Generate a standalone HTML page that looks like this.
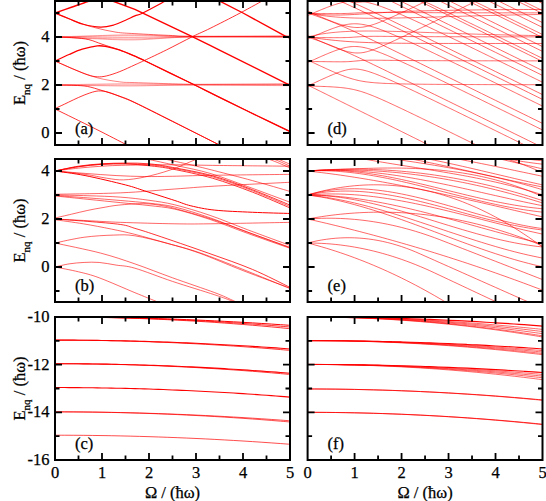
<!DOCTYPE html><html><head><meta charset="utf-8"><style>html,body{margin:0;padding:0;background:#fff;}svg{display:block;} text{stroke:#000;stroke-width:0.25px;}</style></head><body>
<svg width="546" height="501" viewBox="0 0 546 501" font-family='"Liberation Serif", serif' font-size="16.5">
<rect width="546" height="501" fill="#fff"/>
<defs>
<clipPath id="ca"><rect x="55.0" y="1.0" width="235.0" height="144.0"/></clipPath>
<clipPath id="cb"><rect x="55.0" y="159.0" width="235.0" height="143.0"/></clipPath>
<clipPath id="cc"><rect x="55.0" y="317.0" width="235.0" height="143.0"/></clipPath>
<clipPath id="cd"><rect x="307.6" y="1.0" width="234.89999999999998" height="144.0"/></clipPath>
<clipPath id="ce"><rect x="307.6" y="159.0" width="234.89999999999998" height="143.0"/></clipPath>
<clipPath id="cf"><rect x="307.6" y="317.0" width="234.89999999999998" height="143.0"/></clipPath>
</defs>
<g clip-path="url(#ca)" fill="none" stroke="#f00" stroke-linejoin="round" stroke-linecap="round">
<path d="M55.00 109.00C58.92 110.92 70.67 116.66 78.50 120.52C86.33 124.38 93.38 127.80 102.00 132.16C110.62 136.52 125.50 144.26 130.20 146.68" stroke-width="0.8" stroke-opacity="1.0"/>
<path d="M55.00 108.52C56.57 107.80 61.35 105.64 64.40 104.20C67.46 102.76 70.04 101.40 73.33 99.88C76.62 98.36 80.54 96.48 84.14 95.08C87.74 93.68 91.97 92.16 94.95 91.48C97.93 90.80 99.65 90.84 102.00 91.00C104.35 91.16 106.07 91.52 109.05 92.44C112.03 93.36 115.55 94.80 119.86 96.52C124.17 98.24 126.13 98.60 134.90 102.76C143.67 106.92 157.62 114.04 172.50 121.48C187.38 128.92 215.58 143.08 224.20 147.40" stroke-width="0.8" stroke-opacity="1.0"/>
<path d="M55.00 85.00C58.13 85.06 68.39 85.12 73.80 85.36C79.20 85.60 82.73 85.58 87.43 86.44C92.13 87.30 96.59 88.88 102.00 90.52C107.41 92.16 114.38 94.28 119.86 96.28C125.34 98.28 126.13 98.36 134.90 102.52C143.67 106.68 157.62 113.76 172.50 121.24C187.38 128.72 215.58 143.04 224.20 147.40" stroke-width="0.8" stroke-opacity="1.0"/>
<path d="M55.00 61.00C58.37 62.48 69.73 67.56 75.21 69.88C80.69 72.20 84.22 73.76 87.90 74.92C91.58 76.08 94.17 76.68 97.30 76.84C100.43 77.00 102.94 76.76 106.70 75.88C110.46 75.00 115.16 73.40 119.86 71.56C124.56 69.72 130.83 66.68 134.90 64.84C138.97 63.00 139.05 63.00 144.30 60.52C149.55 58.04 158.32 53.96 166.39 49.96C174.46 45.96 185.43 40.12 192.71 36.52C200.00 32.92 202.19 32.28 210.10 28.36C218.01 24.44 230.78 17.96 240.18 13.00C249.58 8.04 262.11 1.00 266.50 -1.40" stroke-width="0.8" stroke-opacity="1.0"/>
<path d="M55.00 61.00C58.37 62.48 68.16 67.08 75.21 69.88C82.26 72.68 89.86 75.80 97.30 77.80C104.74 79.80 113.59 81.08 119.86 81.88C126.13 82.68 126.13 82.28 134.90 82.60C143.67 82.92 162.87 83.52 172.50 83.80C182.13 84.08 184.88 84.20 192.71 84.28C200.54 84.36 203.28 84.28 219.50 84.28C235.72 84.28 278.25 84.28 290.00 84.28" stroke-width="0.5" stroke-opacity="1.0"/>
<path d="M55.00 85.00C62.83 84.84 88.68 84.24 102.00 84.04C115.32 83.84 119.78 83.72 134.90 83.80C150.02 83.88 166.86 84.52 192.71 84.52C218.56 84.52 273.79 83.92 290.00 83.80" stroke-width="0.35" stroke-opacity="1.0"/>
<path d="M55.00 85.00C62.83 85.00 88.68 85.00 102.00 85.00C115.32 85.00 119.78 85.00 134.90 85.00C150.02 85.00 166.86 85.00 192.71 85.00C218.56 85.00 273.79 85.00 290.00 85.00" stroke-width="0.35" stroke-opacity="1.0"/>
<path d="M55.00 85.00C62.83 85.12 88.68 85.56 102.00 85.72C115.32 85.88 119.78 86.08 134.90 85.96C150.02 85.84 166.86 85.04 192.71 85.00C218.56 84.96 273.79 85.60 290.00 85.72" stroke-width="0.35" stroke-opacity="1.0"/>
<path d="M55.00 61.00C57.35 59.92 64.56 56.48 69.10 54.52C73.64 52.56 77.56 50.68 82.26 49.24C86.96 47.80 93.23 46.32 97.30 45.88C101.37 45.44 103.02 45.92 106.70 46.60C110.38 47.28 114.69 48.36 119.39 49.96C124.09 51.56 130.75 54.44 134.90 56.20C139.05 57.96 134.67 55.88 144.30 60.52C153.94 65.16 181.74 78.68 192.71 84.04C203.68 89.40 204.77 90.04 210.10 92.68C215.43 95.32 216.84 96.04 224.67 99.88C232.50 103.72 246.21 110.44 257.10 115.72C267.99 121.00 284.52 128.92 290.00 131.56" stroke-width="1.3" stroke-opacity="1.0"/>
<path d="M55.00 37.00C58.13 37.12 68.16 37.28 73.80 37.72C79.44 38.16 84.14 38.56 88.84 39.64C93.54 40.72 96.91 42.48 102.00 44.20C107.09 45.92 113.91 47.96 119.39 49.96C124.87 51.96 130.75 54.44 134.90 56.20C139.05 57.96 134.67 55.88 144.30 60.52C153.94 65.16 181.74 78.68 192.71 84.04C203.68 89.40 204.77 90.04 210.10 92.68C215.43 95.32 216.84 96.04 224.67 99.88C232.50 103.72 246.21 110.44 257.10 115.72C267.99 121.00 284.52 128.92 290.00 131.56" stroke-width="0.8" stroke-opacity="1.0"/>
<path d="M55.00 13.00C57.35 13.96 64.40 16.88 69.10 18.76C73.80 20.64 77.95 22.88 83.20 24.28C88.45 25.68 95.50 27.04 100.59 27.16C105.68 27.28 109.60 26.16 113.75 25.00C117.90 23.84 121.97 21.72 125.50 20.20C129.03 18.68 132.08 17.04 134.90 15.88C137.72 14.72 137.25 15.76 142.42 13.24C147.59 10.72 160.91 3.40 165.92 0.76C170.93 -1.88 171.40 -2.04 172.50 -2.60" stroke-width="1.2" stroke-opacity="1.0"/>
<path d="M55.00 13.00C58.92 14.60 71.69 20.12 78.50 22.60C85.31 25.08 89.62 26.28 95.89 27.88C102.16 29.48 109.60 31.24 116.10 32.20C122.60 33.16 125.50 33.08 134.90 33.64C144.30 34.20 162.94 35.12 172.50 35.56C182.06 36.00 172.66 36.20 192.24 36.28C211.82 36.36 273.71 36.08 290.00 36.04" stroke-width="0.6" stroke-opacity="1.0"/>
<path d="M55.00 37.00C61.27 36.80 79.28 36.16 92.60 35.80C105.92 35.44 118.29 34.72 134.90 34.84C151.51 34.96 166.39 36.28 192.24 36.52C218.09 36.76 273.71 36.32 290.00 36.28" stroke-width="0.35" stroke-opacity="1.0"/>
<path d="M55.00 37.00C61.27 36.88 79.28 36.48 92.60 36.28C105.92 36.08 118.29 35.76 134.90 35.80C151.51 35.84 166.39 36.40 192.24 36.52C218.09 36.64 273.71 36.52 290.00 36.52" stroke-width="0.35" stroke-opacity="1.0"/>
<path d="M55.00 37.00C61.27 37.04 79.28 37.16 92.60 37.24C105.92 37.32 118.29 37.56 134.90 37.48C151.51 37.40 166.39 36.88 192.24 36.76C218.09 36.64 273.71 36.76 290.00 36.76" stroke-width="0.35" stroke-opacity="1.0"/>
<path d="M55.00 37.00C61.27 37.20 79.28 37.88 92.60 38.20C105.92 38.52 118.29 39.12 134.90 38.92C151.51 38.72 166.39 37.32 192.24 37.00C218.09 36.68 273.71 37.00 290.00 37.00" stroke-width="0.35" stroke-opacity="1.0"/>
<path d="M55.00 37.00C61.27 37.28 79.28 38.20 92.60 38.68C105.92 39.16 118.29 40.16 134.90 39.88C151.51 39.60 166.39 37.44 192.24 37.00C218.09 36.56 273.71 37.20 290.00 37.24" stroke-width="0.35" stroke-opacity="1.0"/>
<path d="M55.00 13.00C57.74 12.04 65.97 9.16 71.45 7.24C76.93 5.32 83.59 2.92 87.90 1.48C92.21 0.04 95.73 -0.92 97.30 -1.40" stroke-width="1.4" stroke-opacity="1.0"/>
<path d="M102.00 -3.80L111.87 0.76L134.90 9.40L192.24 36.52L210.10 45.40L219.03 49.96L287.65 84.04L292.35 86.44" stroke-width="1.4" stroke-opacity="1.0"/>
<path d="M214.80 -1.40L243.00 13.00L284.83 35.80L292.35 39.40" stroke-width="1.4" stroke-opacity="1.0"/>
</g>
<g clip-path="url(#cb)" fill="none" stroke="#f00" stroke-linejoin="round" stroke-linecap="round">
<path d="M55.00 171.00C58.92 170.20 70.67 167.40 78.50 166.20C86.33 165.00 94.17 164.32 102.00 163.80C109.83 163.28 117.67 163.08 125.50 163.08C133.33 163.08 141.17 163.08 149.00 163.80C156.83 164.52 161.93 165.40 172.50 167.40C183.07 169.40 199.13 172.08 212.45 175.80C225.77 179.52 239.47 184.84 252.40 189.72C265.32 194.60 283.73 202.52 290.00 205.08" stroke-width="0.8" stroke-opacity="1.0"/>
<path d="M55.00 171.00C58.92 170.28 70.67 167.80 78.50 166.68C86.33 165.56 94.17 164.76 102.00 164.28C109.83 163.80 117.67 163.72 125.50 163.80C133.33 163.88 141.17 164.04 149.00 164.76C156.83 165.48 161.93 166.12 172.50 168.12C183.07 170.12 199.13 173.00 212.45 176.76C225.77 180.52 239.47 185.72 252.40 190.68C265.32 195.64 283.73 203.88 290.00 206.52" stroke-width="0.6" stroke-opacity="1.0"/>
<path d="M55.00 171.00C58.92 170.28 70.67 167.80 78.50 166.68C86.33 165.56 94.17 164.76 102.00 164.28C109.83 163.80 117.67 163.56 125.50 163.80C133.33 164.04 141.17 164.84 149.00 165.72C156.83 166.60 161.93 167.00 172.50 169.08C183.07 171.16 199.13 174.36 212.45 178.20C225.77 182.04 239.47 187.16 252.40 192.12C265.32 197.08 283.73 205.32 290.00 207.96" stroke-width="0.8" stroke-opacity="1.0"/>
<path d="M55.00 171.00C58.92 170.52 70.67 168.92 78.50 168.12C86.33 167.32 94.17 166.68 102.00 166.20C109.83 165.72 113.75 165.48 125.50 165.24C137.25 165.00 156.83 164.72 172.50 164.76C188.17 164.80 199.92 165.24 219.50 165.48C239.08 165.72 278.25 166.08 290.00 166.20" stroke-width="0.6" stroke-opacity="1.0"/>
<path d="M55.00 171.00C60.01 171.40 74.90 172.64 85.08 173.40C95.26 174.16 106.23 175.04 116.10 175.56C125.97 176.08 134.90 176.40 144.30 176.52C153.70 176.64 161.53 176.48 172.50 176.28C183.47 176.08 190.52 175.64 210.10 175.32C229.68 175.00 276.68 174.52 290.00 174.36" stroke-width="0.6" stroke-opacity="1.0"/>
<path d="M55.00 171.00C60.01 171.56 76.46 173.16 85.08 174.36C93.70 175.56 100.28 177.28 106.70 178.20C113.12 179.12 117.27 180.08 123.62 179.88C129.96 179.68 137.01 178.64 144.77 177.00C152.52 175.36 161.93 172.84 170.15 170.04C178.38 167.24 189.03 162.24 194.12 160.20C199.21 158.16 199.60 158.20 200.70 157.80" stroke-width="0.6" stroke-opacity="1.0"/>
<path d="M55.00 171.00C60.01 171.76 73.33 173.24 85.08 175.56C96.83 177.88 115.55 182.36 125.50 184.92C135.45 187.48 136.54 188.32 144.77 190.92C152.99 193.52 167.17 198.04 174.85 200.52C182.53 203.00 184.17 204.20 190.83 205.80C197.49 207.40 204.54 209.04 214.80 210.12C225.06 211.20 239.87 211.72 252.40 212.28C264.93 212.84 283.73 213.28 290.00 213.48" stroke-width="1.0" stroke-opacity="1.0"/>
<path d="M55.00 194.28C65.97 194.04 100.83 193.72 120.80 192.84C140.78 191.96 159.18 190.12 174.85 189.00C190.52 187.88 195.61 187.24 214.80 186.12C233.99 185.00 277.47 182.92 290.00 182.28" stroke-width="0.6" stroke-opacity="1.0"/>
<path d="M55.00 195.00C60.48 195.12 76.93 195.36 87.90 195.72C98.87 196.08 110.62 196.40 120.80 197.16C130.98 197.92 139.99 199.00 149.00 200.28C158.01 201.56 164.67 202.32 174.85 204.84C185.03 207.36 197.96 211.24 210.10 215.40C222.24 219.56 234.38 224.80 247.70 229.80C261.02 234.80 282.95 242.80 290.00 245.40" stroke-width="0.6" stroke-opacity="1.0"/>
<path d="M55.00 195.48C60.48 195.88 76.93 197.04 87.90 197.88C98.87 198.72 110.62 199.64 120.80 200.52C130.98 201.40 139.99 202.08 149.00 203.16C158.01 204.24 164.67 204.56 174.85 207.00C185.03 209.44 197.96 213.60 210.10 217.80C222.24 222.00 234.38 227.28 247.70 232.20C261.02 237.12 282.95 244.80 290.00 247.32" stroke-width="0.6" stroke-opacity="1.0"/>
<path d="M55.00 195.96C60.48 196.52 76.93 198.20 87.90 199.32C98.87 200.44 110.62 201.64 120.80 202.68C130.98 203.72 139.99 204.48 149.00 205.56C158.01 206.64 164.67 206.84 174.85 209.16C185.03 211.48 197.96 215.44 210.10 219.48C222.24 223.52 234.38 228.60 247.70 233.40C261.02 238.20 282.95 245.80 290.00 248.28" stroke-width="0.6" stroke-opacity="1.0"/>
<path d="M55.00 218.04C57.74 217.40 65.97 215.48 71.45 214.20C76.93 212.92 82.81 211.44 87.90 210.36C92.99 209.28 96.83 208.60 102.00 207.72C107.17 206.84 111.95 205.76 118.92 205.08C125.89 204.40 136.47 203.52 143.83 203.64C151.19 203.76 157.07 204.76 163.10 205.80C169.13 206.84 171.40 207.48 180.02 209.88C188.64 212.28 202.74 216.20 214.80 220.20C226.86 224.20 239.87 229.28 252.40 233.88C264.93 238.48 283.73 245.48 290.00 247.80" stroke-width="0.6" stroke-opacity="1.0"/>
<path d="M55.00 219.00C60.48 219.28 76.93 220.12 87.90 220.68C98.87 221.24 106.31 221.84 120.80 222.36C135.29 222.88 159.97 223.56 174.85 223.80C189.73 224.04 190.91 224.04 210.10 223.80C229.29 223.56 276.68 222.60 290.00 222.36" stroke-width="0.6" stroke-opacity="1.0"/>
<path d="M55.00 219.00C60.48 219.40 76.93 220.48 87.90 221.40C98.87 222.32 112.97 223.36 120.80 224.52C128.63 225.68 129.03 226.60 134.90 228.36C140.78 230.12 143.83 230.96 156.05 235.08C168.27 239.20 192.16 247.36 208.22 253.08C224.28 258.80 238.77 263.68 252.40 269.40C266.03 275.12 283.73 284.40 290.00 287.40" stroke-width="0.8" stroke-opacity="1.0"/>
<path d="M55.00 219.72C59.70 220.40 73.80 222.24 83.20 223.80C92.60 225.36 102.78 227.32 111.40 229.08C120.02 230.84 125.50 231.96 134.90 234.36C144.30 236.76 157.07 240.44 167.80 243.48C178.53 246.52 186.76 248.28 199.29 252.60C211.82 256.92 227.88 263.40 243.00 269.40C258.12 275.40 282.17 285.40 290.00 288.60" stroke-width="0.6" stroke-opacity="1.0"/>
<path d="M55.00 243.00C59.86 242.04 74.35 238.56 84.14 237.24C93.93 235.92 105.29 235.32 113.75 235.08C122.21 234.84 125.89 234.40 134.90 235.80C143.91 237.20 157.07 240.60 167.80 243.48C178.53 246.36 186.76 248.56 199.29 253.08C211.82 257.60 227.88 264.76 243.00 270.60C258.12 276.44 282.17 285.20 290.00 288.12" stroke-width="0.6" stroke-opacity="1.0"/>
<path d="M55.00 243.00C62.60 244.68 87.27 249.60 100.59 253.08C113.91 256.56 122.92 259.76 134.90 263.88C146.88 268.00 159.18 273.00 172.50 277.80C185.82 282.60 204.85 288.96 214.80 292.68C224.75 296.40 227.49 298.00 232.19 300.12C236.89 302.24 241.20 304.52 243.00 305.40" stroke-width="0.6" stroke-opacity="1.0"/>
<path d="M55.00 267.00C57.35 266.48 64.24 264.64 69.10 263.88C73.96 263.12 79.13 262.68 84.14 262.44C89.15 262.20 93.85 262.00 99.18 262.44C104.51 262.88 110.15 264.12 116.10 265.08C122.05 266.04 125.50 265.48 134.90 268.20C144.30 270.92 159.18 276.96 172.50 281.40C185.82 285.84 204.85 291.56 214.80 294.84C224.75 298.12 227.49 299.32 232.19 301.08C236.89 302.84 241.20 304.68 243.00 305.40" stroke-width="0.6" stroke-opacity="1.0"/>
<path d="M55.00 267.00C58.92 267.80 71.14 270.00 78.50 271.80C85.86 273.60 89.78 274.32 99.18 277.80C108.58 281.28 125.50 288.80 134.90 292.68C144.30 296.56 150.88 299.16 155.58 301.08C160.28 303.00 161.85 303.68 163.10 304.20" stroke-width="0.6" stroke-opacity="1.0"/>
<path d="M139.60 157.56C140.78 157.80 140.38 157.64 146.65 159.00C152.92 160.36 166.62 163.32 177.20 165.72C187.77 168.12 198.35 169.92 210.10 173.40C221.85 176.88 234.38 181.80 247.70 186.60C261.02 191.40 282.95 199.60 290.00 202.20" stroke-width="0.6" stroke-opacity="1.0"/>
<path d="M158.40 157.80C159.42 158.00 159.03 157.80 164.51 159.00C169.99 160.20 182.92 163.04 191.30 165.00C199.68 166.96 204.62 168.16 214.80 170.76C224.98 173.36 239.87 177.16 252.40 180.60C264.93 184.04 283.73 189.60 290.00 191.40" stroke-width="0.6" stroke-opacity="1.0"/>
<path d="M261.80 156.60C264.15 157.48 271.20 160.00 275.90 161.88C280.60 163.76 287.65 166.88 290.00 167.88" stroke-width="0.6" stroke-opacity="1.0"/>
<path d="M266.50 156.60C268.46 157.32 274.33 159.32 278.25 160.92C282.17 162.52 288.04 165.32 290.00 166.20" stroke-width="0.6" stroke-opacity="1.0"/>
<path d="M271.20 156.60C272.77 157.20 277.47 158.92 280.60 160.20C283.73 161.48 288.43 163.60 290.00 164.28" stroke-width="0.6" stroke-opacity="1.0"/>
</g>
<g clip-path="url(#cc)" fill="none" stroke="#f00" stroke-linejoin="round" stroke-linecap="round">
<path d="M55.00 317.00C56.57 317.00 61.27 317.00 64.40 317.01C67.53 317.02 70.67 317.04 73.80 317.05C76.93 317.07 80.07 317.09 83.20 317.12C86.33 317.15 89.47 317.18 92.60 317.21C95.73 317.25 98.87 317.29 102.00 317.33C105.13 317.38 108.27 317.43 111.40 317.48C114.53 317.53 117.67 317.59 120.80 317.65C123.93 317.72 127.07 317.78 130.20 317.85C133.33 317.93 136.47 318.00 139.60 318.08C142.73 318.16 145.87 318.25 149.00 318.33C152.13 318.42 155.27 318.52 158.40 318.61C161.53 318.71 164.67 318.82 167.80 318.92C170.93 319.03 174.07 319.14 177.20 319.26C180.33 319.37 183.47 319.49 186.60 319.62C189.73 319.74 192.87 319.87 196.00 320.00C199.13 320.14 202.27 320.27 205.40 320.42C208.53 320.56 211.67 320.71 214.80 320.86C217.93 321.01 221.07 321.16 224.20 321.32C227.33 321.48 230.47 321.65 233.60 321.82C236.73 321.99 239.87 322.16 243.00 322.34C246.13 322.52 249.27 322.70 252.40 322.89C255.53 323.07 258.67 323.26 261.80 323.46C264.93 323.66 268.07 323.86 271.20 324.06C274.33 324.26 277.47 324.47 280.60 324.69C283.73 324.90 288.43 325.23 290.00 325.34" stroke-width="1.0" stroke-opacity="1.0"/>
<path d="M55.00 317.00C56.57 317.00 61.27 317.01 64.40 317.02C67.53 317.03 70.67 317.04 73.80 317.06C76.93 317.09 80.07 317.11 83.20 317.14C86.33 317.18 89.47 317.21 92.60 317.26C95.73 317.30 98.87 317.35 102.00 317.40C105.13 317.45 108.27 317.51 111.40 317.58C114.53 317.64 117.67 317.71 120.80 317.78C123.93 317.86 127.07 317.94 130.20 318.03C133.33 318.11 136.47 318.20 139.60 318.30C142.73 318.39 145.87 318.49 149.00 318.60C152.13 318.71 155.27 318.82 158.40 318.94C161.53 319.06 164.67 319.18 167.80 319.31C170.93 319.43 174.07 319.57 177.20 319.71C180.33 319.85 183.47 319.99 186.60 320.14C189.73 320.29 192.87 320.44 196.00 320.60C199.13 320.76 202.27 320.93 205.40 321.10C208.53 321.27 211.67 321.45 214.80 321.63C217.93 321.81 221.07 322.00 224.20 322.19C227.33 322.38 230.47 322.58 233.60 322.78C236.73 322.98 239.87 323.19 243.00 323.41C246.13 323.62 249.27 323.84 252.40 324.06C255.53 324.29 258.67 324.52 261.80 324.75C264.93 324.99 268.07 325.23 271.20 325.47C274.33 325.72 277.47 325.97 280.60 326.23C283.73 326.48 288.43 326.88 290.00 327.01" stroke-width="0.8" stroke-opacity="1.0"/>
<path d="M55.00 317.00C56.57 317.00 61.27 317.01 64.40 317.02C67.53 317.03 70.67 317.05 73.80 317.07C76.93 317.10 80.07 317.13 83.20 317.17C86.33 317.21 89.47 317.25 92.60 317.30C95.73 317.35 98.87 317.40 102.00 317.47C105.13 317.53 108.27 317.60 111.40 317.67C114.53 317.75 117.67 317.83 120.80 317.92C123.93 318.00 127.07 318.10 130.20 318.20C133.33 318.30 136.47 318.40 139.60 318.51C142.73 318.63 145.87 318.74 149.00 318.87C152.13 318.99 155.27 319.12 158.40 319.26C161.53 319.40 164.67 319.54 167.80 319.69C170.93 319.84 174.07 320.00 177.20 320.16C180.33 320.32 183.47 320.49 186.60 320.66C189.73 320.84 192.87 321.02 196.00 321.20C199.13 321.39 202.27 321.58 205.40 321.78C208.53 321.98 211.67 322.19 214.80 322.40C217.93 322.61 221.07 322.83 224.20 323.05C227.33 323.28 230.47 323.51 233.60 323.75C236.73 323.98 239.87 324.22 243.00 324.47C246.13 324.72 249.27 324.98 252.40 325.24C255.53 325.50 258.67 325.77 261.80 326.04C264.93 326.32 268.07 326.60 271.20 326.88C274.33 327.17 277.47 327.46 280.60 327.76C283.73 328.06 288.43 328.53 290.00 328.68" stroke-width="0.8" stroke-opacity="1.0"/>
<path d="M55.00 340.12C56.57 340.12 61.27 340.12 64.40 340.13C67.53 340.14 70.67 340.16 73.80 340.17C76.93 340.19 80.07 340.22 83.20 340.24C86.33 340.27 89.47 340.31 92.60 340.34C95.73 340.38 98.87 340.42 102.00 340.47C105.13 340.52 108.27 340.57 111.40 340.63C114.53 340.68 117.67 340.74 120.80 340.81C123.93 340.88 127.07 340.95 130.20 341.02C133.33 341.10 136.47 341.18 139.60 341.26C142.73 341.35 145.87 341.43 149.00 341.53C152.13 341.62 155.27 341.72 158.40 341.83C161.53 341.93 164.67 342.04 167.80 342.15C170.93 342.26 174.07 342.38 177.20 342.50C180.33 342.62 183.47 342.75 186.60 342.88C189.73 343.02 192.87 343.15 196.00 343.29C199.13 343.43 202.27 343.58 205.40 343.73C208.53 343.88 211.67 344.04 214.80 344.20C217.93 344.36 221.07 344.52 224.20 344.69C227.33 344.86 230.47 345.03 233.60 345.21C236.73 345.39 239.87 345.57 243.00 345.76C246.13 345.95 249.27 346.14 252.40 346.34C255.53 346.54 258.67 346.74 261.80 346.95C264.93 347.15 268.07 347.37 271.20 347.58C274.33 347.80 277.47 348.02 280.60 348.24C283.73 348.47 288.43 348.82 290.00 348.94" stroke-width="1.1" stroke-opacity="1.0"/>
<path d="M55.00 340.12C56.57 340.12 61.27 340.12 64.40 340.13C67.53 340.15 70.67 340.16 73.80 340.18C76.93 340.21 80.07 340.23 83.20 340.27C86.33 340.30 89.47 340.34 92.60 340.38C95.73 340.42 98.87 340.47 102.00 340.53C105.13 340.58 108.27 340.64 111.40 340.71C114.53 340.77 117.67 340.84 120.80 340.92C123.93 341.00 127.07 341.08 130.20 341.17C133.33 341.25 136.47 341.35 139.60 341.45C142.73 341.54 145.87 341.65 149.00 341.76C152.13 341.87 155.27 341.98 158.40 342.10C161.53 342.22 164.67 342.35 167.80 342.48C170.93 342.61 174.07 342.75 177.20 342.89C180.33 343.03 183.47 343.18 186.60 343.33C189.73 343.48 192.87 343.64 196.00 343.81C199.13 343.97 202.27 344.14 205.40 344.32C208.53 344.49 211.67 344.67 214.80 344.86C217.93 345.04 221.07 345.23 224.20 345.43C227.33 345.63 230.47 345.83 233.60 346.04C236.73 346.25 239.87 346.46 243.00 346.68C246.13 346.90 249.27 347.12 252.40 347.35C255.53 347.58 258.67 347.81 261.80 348.05C264.93 348.29 268.07 348.54 271.20 348.79C274.33 349.04 277.47 349.30 280.60 349.56C283.73 349.83 288.43 350.23 290.00 350.37" stroke-width="0.8" stroke-opacity="1.0"/>
<path d="M55.00 363.71C56.57 363.72 61.27 363.72 64.40 363.73C67.53 363.74 70.67 363.75 73.80 363.77C76.93 363.79 80.07 363.82 83.20 363.85C86.33 363.88 89.47 363.92 92.60 363.96C95.73 364.00 98.87 364.04 102.00 364.09C105.13 364.14 108.27 364.20 111.40 364.26C114.53 364.32 117.67 364.39 120.80 364.46C123.93 364.53 127.07 364.61 130.20 364.69C133.33 364.77 136.47 364.86 139.60 364.95C142.73 365.04 145.87 365.14 149.00 365.24C152.13 365.34 155.27 365.45 158.40 365.56C161.53 365.67 164.67 365.79 167.80 365.91C170.93 366.03 174.07 366.16 177.20 366.29C180.33 366.42 183.47 366.56 186.60 366.70C189.73 366.84 192.87 366.99 196.00 367.14C199.13 367.30 202.27 367.45 205.40 367.62C208.53 367.78 211.67 367.95 214.80 368.12C217.93 368.29 221.07 368.47 224.20 368.65C227.33 368.84 230.47 369.03 233.60 369.22C236.73 369.41 239.87 369.61 243.00 369.81C246.13 370.02 249.27 370.23 252.40 370.44C255.53 370.65 258.67 370.87 261.80 371.10C264.93 371.32 268.07 371.55 271.20 371.78C274.33 372.02 277.47 372.25 280.60 372.50C283.73 372.74 288.43 373.12 290.00 373.25" stroke-width="1.1" stroke-opacity="1.0"/>
<path d="M55.00 363.71C56.57 363.72 61.27 363.72 64.40 363.73C67.53 363.74 70.67 363.76 73.80 363.78C76.93 363.80 80.07 363.83 83.20 363.87C86.33 363.90 89.47 363.94 92.60 363.99C95.73 364.03 98.87 364.08 102.00 364.14C105.13 364.20 108.27 364.26 111.40 364.33C114.53 364.40 117.67 364.47 120.80 364.55C123.93 364.63 127.07 364.72 130.20 364.81C133.33 364.90 136.47 365.00 139.60 365.10C142.73 365.21 145.87 365.31 149.00 365.43C152.13 365.54 155.27 365.66 158.40 365.79C161.53 365.91 164.67 366.05 167.80 366.18C170.93 366.32 174.07 366.46 177.20 366.61C180.33 366.76 183.47 366.92 186.60 367.08C189.73 367.24 192.87 367.40 196.00 367.57C199.13 367.75 202.27 367.92 205.40 368.11C208.53 368.29 211.67 368.48 214.80 368.67C217.93 368.87 221.07 369.07 224.20 369.27C227.33 369.48 230.47 369.69 233.60 369.91C236.73 370.12 239.87 370.35 243.00 370.58C246.13 370.81 249.27 371.04 252.40 371.28C255.53 371.52 258.67 371.77 261.80 372.02C264.93 372.27 268.07 372.53 271.20 372.79C274.33 373.05 277.47 373.32 280.60 373.60C283.73 373.87 288.43 374.30 290.00 374.44" stroke-width="0.8" stroke-opacity="1.0"/>
<path d="M55.00 387.55C56.57 387.55 61.27 387.55 64.40 387.56C67.53 387.57 70.67 387.59 73.80 387.61C76.93 387.63 80.07 387.65 83.20 387.68C86.33 387.71 89.47 387.75 92.60 387.79C95.73 387.83 98.87 387.88 102.00 387.93C105.13 387.98 108.27 388.03 111.40 388.09C114.53 388.16 117.67 388.22 120.80 388.29C123.93 388.36 127.07 388.44 130.20 388.52C133.33 388.60 136.47 388.69 139.60 388.78C142.73 388.87 145.87 388.97 149.00 389.07C152.13 389.17 155.27 389.28 158.40 389.39C161.53 389.50 164.67 389.62 167.80 389.74C170.93 389.86 174.07 389.99 177.20 390.12C180.33 390.26 183.47 390.39 186.60 390.54C189.73 390.68 192.87 390.83 196.00 390.98C199.13 391.13 202.27 391.29 205.40 391.45C208.53 391.61 211.67 391.78 214.80 391.95C217.93 392.13 221.07 392.30 224.20 392.49C227.33 392.67 230.47 392.86 233.60 393.05C236.73 393.25 239.87 393.44 243.00 393.65C246.13 393.85 249.27 394.06 252.40 394.27C255.53 394.49 258.67 394.70 261.80 394.93C264.93 395.15 268.07 395.38 271.20 395.61C274.33 395.85 277.47 396.09 280.60 396.33C283.73 396.58 288.43 396.95 290.00 397.08" stroke-width="1.1" stroke-opacity="1.0"/>
<path d="M55.00 411.86C56.57 411.86 61.27 411.86 64.40 411.87C67.53 411.88 70.67 411.89 73.80 411.91C76.93 411.93 80.07 411.96 83.20 411.98C86.33 412.01 89.47 412.05 92.60 412.08C95.73 412.12 98.87 412.17 102.00 412.21C105.13 412.26 108.27 412.31 111.40 412.37C114.53 412.43 117.67 412.49 120.80 412.56C123.93 412.62 127.07 412.69 130.20 412.77C133.33 412.85 136.47 412.93 139.60 413.01C142.73 413.10 145.87 413.19 149.00 413.29C152.13 413.38 155.27 413.48 158.40 413.59C161.53 413.69 164.67 413.80 167.80 413.91C170.93 414.03 174.07 414.15 177.20 414.27C180.33 414.40 183.47 414.52 186.60 414.66C189.73 414.79 192.87 414.93 196.00 415.07C199.13 415.22 202.27 415.36 205.40 415.52C208.53 415.67 211.67 415.83 214.80 415.99C217.93 416.15 221.07 416.32 224.20 416.49C227.33 416.66 230.47 416.84 233.60 417.02C236.73 417.20 239.87 417.38 243.00 417.58C246.13 417.77 249.27 417.96 252.40 418.16C255.53 418.36 258.67 418.57 261.80 418.78C264.93 418.99 268.07 419.20 271.20 419.42C274.33 419.64 277.47 419.86 280.60 420.09C283.73 420.32 288.43 420.68 290.00 420.79" stroke-width="0.7" stroke-opacity="1.0"/>
<path d="M55.00 411.86C56.57 411.86 61.27 411.86 64.40 411.87C67.53 411.88 70.67 411.90 73.80 411.92C76.93 411.94 80.07 411.97 83.20 412.00C86.33 412.03 89.47 412.07 92.60 412.11C95.73 412.16 98.87 412.21 102.00 412.26C105.13 412.31 108.27 412.37 111.40 412.44C114.53 412.50 117.67 412.57 120.80 412.65C123.93 412.73 127.07 412.81 130.20 412.89C133.33 412.98 136.47 413.07 139.60 413.17C142.73 413.27 145.87 413.37 149.00 413.48C152.13 413.58 155.27 413.70 158.40 413.82C161.53 413.94 164.67 414.06 167.80 414.19C170.93 414.32 174.07 414.45 177.20 414.59C180.33 414.73 183.47 414.88 186.60 415.03C189.73 415.18 192.87 415.34 196.00 415.50C199.13 415.66 202.27 415.83 205.40 416.00C208.53 416.18 211.67 416.36 214.80 416.54C217.93 416.72 221.07 416.91 224.20 417.11C227.33 417.30 230.47 417.50 233.60 417.71C236.73 417.91 239.87 418.12 243.00 418.34C246.13 418.55 249.27 418.78 252.40 419.00C255.53 419.23 258.67 419.46 261.80 419.70C264.93 419.94 268.07 420.18 271.20 420.43C274.33 420.68 277.47 420.93 280.60 421.19C283.73 421.45 288.43 421.85 290.00 421.98" stroke-width="0.7" stroke-opacity="1.0"/>
<path d="M55.00 435.21C56.57 435.21 61.27 435.22 64.40 435.23C67.53 435.24 70.67 435.25 73.80 435.27C76.93 435.29 80.07 435.31 83.20 435.34C86.33 435.37 89.47 435.40 92.60 435.44C95.73 435.48 98.87 435.53 102.00 435.57C105.13 435.62 108.27 435.68 111.40 435.73C114.53 435.79 117.67 435.85 120.80 435.92C123.93 435.99 127.07 436.06 130.20 436.14C133.33 436.22 136.47 436.30 139.60 436.39C142.73 436.47 145.87 436.56 149.00 436.66C152.13 436.76 155.27 436.86 158.40 436.97C161.53 437.07 164.67 437.18 167.80 437.30C170.93 437.41 174.07 437.53 177.20 437.66C180.33 437.79 183.47 437.92 186.60 438.05C189.73 438.19 192.87 438.33 196.00 438.47C199.13 438.62 202.27 438.77 205.40 438.92C208.53 439.08 211.67 439.24 214.80 439.40C217.93 439.56 221.07 439.73 224.20 439.91C227.33 440.08 230.47 440.26 233.60 440.44C236.73 440.63 239.87 440.81 243.00 441.01C246.13 441.20 249.27 441.40 252.40 441.60C255.53 441.80 258.67 442.01 261.80 442.23C264.93 442.44 268.07 442.65 271.20 442.88C274.33 443.10 277.47 443.33 280.60 443.56C283.73 443.79 288.43 444.15 290.00 444.27" stroke-width="0.7" stroke-opacity="1.0"/>
</g>
<g clip-path="url(#cd)" fill="none" stroke="#f00" stroke-linejoin="round" stroke-linecap="round">
<path d="M307.60 86.07L308.77 86.06L309.95 86.16L311.12 86.75L312.30 87.33L313.47 87.91L314.65 88.49L315.82 89.07L317.00 89.66L318.17 90.24L319.35 90.82L320.52 91.40L321.69 91.98L322.87 92.57L324.04 93.15L325.22 93.73L326.39 94.31L327.57 94.89L328.74 95.48L329.92 96.06L331.09 96.64L332.26 97.22L333.44 97.80L334.61 98.39L335.79 98.97L336.96 99.55L338.14 100.13L339.31 100.71L340.49 101.30L341.66 101.88L342.84 102.46L344.01 103.04L345.18 103.62L346.36 104.21L347.53 104.79L348.71 105.37L349.88 105.95L351.06 106.53L352.23 107.12L353.41 107.70L354.58 108.28L355.75 108.86L356.93 109.44L358.10 110.03L359.28 110.61L360.45 111.19L361.63 111.77L362.80 112.35L363.98 112.94L365.15 113.52L366.33 114.10L367.50 114.68L368.67 115.26L369.85 115.85L371.02 116.43L372.20 117.01L373.37 117.59L374.55 118.17L375.72 118.76L376.90 119.34L378.07 119.92L379.24 120.50L380.42 121.08L381.59 121.67L382.77 122.25L383.94 122.83L385.12 123.41L386.29 123.99L387.47 124.58L388.64 125.16L389.81 125.74L390.99 126.32L392.16 126.90L393.34 127.49L394.51 128.07L395.69 128.65L396.86 129.23L398.04 129.81L399.21 130.40L400.39 130.98L401.56 131.56L402.73 132.14L403.91 132.72L405.08 133.31L406.26 133.89L407.43 134.47L408.61 135.05L409.78 135.63L410.96 136.22L412.13 136.80L413.31 137.38L414.48 137.96L415.65 138.54L416.83 139.13L418.00 139.71L419.18 140.29L420.35 140.87L421.53 141.45L422.70 142.04L423.88 142.62L425.05 143.20L426.22 143.78L427.40 144.36L428.57 144.95L429.75 145.53L430.92 146.11L432.10 146.69L433.27 147.27L434.45 147.86L435.62 148.44L436.80 149.02L437.97 149.60L439.14 150.18L440.32 150.77L441.49 151.35L442.67 151.93L443.84 152.51L445.02 153.09L446.19 153.68L447.37 154.26L448.54 154.84L449.71 155.42L450.89 156.00L452.06 156.59L453.24 157.17L454.41 157.75L455.59 158.33L456.76 158.91L457.94 159.50L459.11 160.08L460.29 160.66L461.46 161.24L462.63 161.82L463.81 162.41L464.98 162.99L466.16 163.57L467.33 164.15L468.51 164.73L469.68 165.32L470.86 165.90L472.03 166.48L473.20 167.06L474.38 167.64L475.55 168.23L476.73 168.81L477.90 169.39L479.08 169.97L480.25 170.55L481.43 171.14L482.60 171.72L483.77 172.30L484.95 172.88L486.12 173.46L487.30 174.05L488.47 174.63L489.65 175.21L490.82 175.79L492.00 176.37L493.17 176.96L494.35 177.54L495.52 178.12L496.69 178.70L497.87 179.28L499.04 179.87L500.22 180.45L501.39 181.03L502.57 181.61L503.74 182.19L504.92 182.78L506.09 183.36L507.26 183.94L508.44 184.52L509.61 185.10L510.79 185.69L511.96 186.27L513.14 186.85L514.31 187.43L515.49 188.01L516.66 188.60L517.84 189.18L519.01 189.76L520.18 190.34L521.36 190.92L522.53 191.51L523.71 192.09L524.88 192.67L526.06 193.25L527.23 193.83L528.41 194.42L529.58 195.00L530.75 195.58L531.93 196.16L533.10 196.74L534.28 197.33L535.45 197.91L536.63 198.49L537.80 199.07L538.98 199.65L540.15 200.24L541.33 200.82L542.50 201.40" stroke-width="0.6" stroke-opacity="1.0"/>
<path d="M307.60 86.04L308.77 85.58L309.95 86.08L311.12 86.11L312.30 86.14L313.47 86.16L314.65 86.19L315.82 86.23L317.00 86.26L318.17 86.29L319.35 86.33L320.52 86.37L321.69 86.41L322.87 86.45L324.04 86.49L325.22 86.54L326.39 86.59L327.57 86.65L328.74 86.70L329.92 86.76L331.09 86.83L332.26 86.90L333.44 86.97L334.61 87.05L335.79 87.13L336.96 87.22L338.14 87.32L339.31 87.42L340.49 87.53L341.66 87.65L342.84 87.78L344.01 87.92L345.18 88.07L346.36 88.23L347.53 88.40L348.71 88.59L349.88 88.79L351.06 89.01L352.23 89.24L353.41 89.48L354.58 89.74L355.75 90.02L356.93 90.32L358.10 90.63L359.28 90.96L360.45 91.30L361.63 91.66L362.80 92.04L363.98 92.43L365.15 92.83L366.33 93.24L367.50 93.67L368.67 94.11L369.85 94.56L371.02 95.02L372.20 95.48L373.37 95.96L374.55 96.44L375.72 96.93L376.90 97.42L378.07 97.93L379.24 98.43L380.42 98.94L381.59 99.46L382.77 99.98L383.94 100.50L385.12 101.03L386.29 101.56L387.47 102.09L388.64 102.63L389.81 103.17L390.99 103.71L392.16 104.25L393.34 104.80L394.51 105.34L395.69 105.89L396.86 106.44L398.04 106.99L399.21 107.55L400.39 108.10L401.56 108.66L402.73 109.21L403.91 109.77L405.08 110.33L406.26 110.89L407.43 111.45L408.61 112.01L409.78 112.57L410.96 113.14L412.13 113.70L413.31 114.27L414.48 114.83L415.65 115.40L416.83 115.96L418.00 116.53L419.18 117.10L420.35 117.67L421.53 118.23L422.70 118.80L423.88 119.37L425.05 119.94L426.22 120.51L427.40 121.08L428.57 121.65L429.75 122.22L430.92 122.80L432.10 123.37L433.27 123.94L434.45 124.51L435.62 125.08L436.80 125.66L437.97 126.23L439.14 126.80L440.32 127.38L441.49 127.95L442.67 128.53L443.84 129.10L445.02 129.67L446.19 130.25L447.37 130.82L448.54 131.40L449.71 131.97L450.89 132.55L452.06 133.12L453.24 133.70L454.41 134.28L455.59 134.85L456.76 135.43L457.94 136.00L459.11 136.58L460.29 137.16L461.46 137.73L462.63 138.31L463.81 138.89L464.98 139.46L466.16 140.04L467.33 140.62L468.51 141.20L469.68 141.77L470.86 142.35L472.03 142.93L473.20 143.51L474.38 144.08L475.55 144.66L476.73 145.24L477.90 145.82L479.08 146.39L480.25 146.97L481.43 147.55L482.60 148.13L483.77 148.71L484.95 149.29L486.12 149.86L487.30 150.44L488.47 151.02L489.65 151.60L490.82 152.18L492.00 152.76L493.17 153.34L494.35 153.91L495.52 154.49L496.69 155.07L497.87 155.65L499.04 156.23L500.22 156.81L501.39 157.39L502.57 157.97L503.74 158.55L504.92 159.13L506.09 159.70L507.26 160.28L508.44 160.86L509.61 161.44L510.79 162.02L511.96 162.60L513.14 163.18L514.31 163.76L515.49 164.34L516.66 164.92L517.84 165.50L519.01 166.08L520.18 166.66L521.36 167.24L522.53 167.82L523.71 168.40L524.88 168.98L526.06 169.56L527.23 170.14L528.41 170.72L529.58 171.30L530.75 171.88L531.93 172.46L533.10 173.04L534.28 173.62L535.45 174.20L536.63 174.78L537.80 175.36L538.98 175.94L540.15 176.52L541.33 177.10L542.50 177.68" stroke-width="0.6" stroke-opacity="1.0"/>
<path d="M307.60 85.00L308.77 85.51L309.95 84.96L311.12 84.40L312.30 83.85L313.47 83.30L314.65 82.75L315.82 82.21L317.00 81.66L318.17 81.12L319.35 80.58L320.52 80.04L321.69 79.50L322.87 78.97L324.04 78.44L325.22 77.92L326.39 77.40L327.57 76.88L328.74 76.37L329.92 75.87L331.09 75.37L332.26 74.88L333.44 74.39L334.61 73.92L335.79 73.45L336.96 73.33L338.14 73.81L339.31 74.29L340.49 74.76L341.66 75.23L342.84 75.68L344.01 76.12L345.18 76.55L346.36 76.98L347.53 77.38L348.71 77.78L349.88 78.16L351.06 78.53L352.23 78.88L353.41 79.22L354.58 79.54L355.75 79.84L356.93 80.13L358.10 80.40L359.28 80.65L360.45 80.89L361.63 81.11L362.80 81.32L363.98 81.51L365.15 81.69L366.33 81.86L367.50 82.01L368.67 82.15L369.85 82.29L371.02 82.41L372.20 82.53L373.37 82.63L374.55 82.73L375.72 82.83L376.90 82.91L378.07 82.99L379.24 83.07L380.42 83.14L381.59 83.21L382.77 83.27L383.94 83.33L385.12 83.38L386.29 83.43L387.47 83.48L388.64 83.53L389.81 83.57L390.99 83.61L392.16 83.65L393.34 83.69L394.51 83.73L395.69 83.76L396.86 83.79L398.04 83.82L399.21 84.12L400.39 84.66L401.56 85.20L402.73 85.75L403.91 86.29L405.08 86.84L406.26 87.39L407.43 87.94L408.61 88.49L409.78 89.04L410.96 89.60L412.13 90.15L413.31 90.71L414.48 91.27L415.65 91.82L416.83 92.38L418.00 92.94L419.18 93.50L420.35 94.06L421.53 94.62L422.70 95.19L423.88 95.75L425.05 96.31L426.22 96.88L427.40 97.44L428.57 98.01L429.75 98.57L430.92 99.14L432.10 99.71L433.27 100.27L434.45 100.84L435.62 101.41L436.80 101.98L437.97 102.55L439.14 103.11L440.32 103.68L441.49 104.25L442.67 104.82L443.84 105.39L445.02 105.96L446.19 106.54L447.37 107.11L448.54 107.68L449.71 108.25L450.89 108.82L452.06 109.39L453.24 109.97L454.41 110.54L455.59 111.11L456.76 111.69L457.94 112.26L459.11 112.83L460.29 113.41L461.46 113.98L462.63 114.55L463.81 115.13L464.98 115.70L466.16 116.28L467.33 116.85L468.51 117.43L469.68 118.00L470.86 118.58L472.03 119.15L473.20 119.73L474.38 120.30L475.55 120.88L476.73 121.45L477.90 122.03L479.08 122.61L480.25 123.18L481.43 123.76L482.60 124.33L483.77 124.91L484.95 125.49L486.12 126.06L487.30 126.64L488.47 127.22L489.65 127.79L490.82 128.37L492.00 128.95L493.17 129.52L494.35 130.10L495.52 130.68L496.69 131.26L497.87 131.83L499.04 132.41L500.22 132.99L501.39 133.57L502.57 134.14L503.74 134.72L504.92 135.30L506.09 135.88L507.26 136.46L508.44 137.03L509.61 137.61L510.79 138.19L511.96 138.77L513.14 139.35L514.31 139.93L515.49 140.50L516.66 141.08L517.84 141.66L519.01 142.24L520.18 142.82L521.36 143.40L522.53 143.98L523.71 144.55L524.88 145.13L526.06 145.71L527.23 146.29L528.41 146.87L529.58 147.45L530.75 148.03L531.93 148.61L533.10 149.19L534.28 149.76L535.45 150.34L536.63 150.92L537.80 151.50L538.98 152.08L540.15 152.66L541.33 153.24L542.50 153.82" stroke-width="0.6" stroke-opacity="1.0"/>
<path d="M307.60 62.58L308.77 62.04L309.95 61.51L311.12 61.64L312.30 62.19L313.47 62.75L314.65 63.30L315.82 63.85L317.00 64.40L318.17 64.95L319.35 65.49L320.52 66.04L321.69 66.58L322.87 67.12L324.04 67.65L325.22 68.19L326.39 68.72L327.57 69.25L328.74 69.77L329.92 70.30L331.09 70.81L332.26 71.33L333.44 71.84L334.61 72.34L335.79 72.84L336.96 73.00L338.14 72.55L339.31 72.13L340.49 71.72L341.66 71.32L342.84 70.95L344.01 70.61L345.18 70.28L346.36 69.99L347.53 69.73L348.71 69.51L349.88 69.33L351.06 69.18L352.23 69.08L353.41 69.02L354.58 69.01L355.75 69.04L356.93 69.11L358.10 69.21L359.28 69.36L360.45 69.54L361.63 69.75L362.80 69.99L363.98 70.26L365.15 70.56L366.33 70.87L367.50 71.21L368.67 71.57L369.85 71.94L371.02 72.33L372.20 72.74L373.37 73.16L374.55 73.59L375.72 74.03L376.90 74.48L378.07 74.94L379.24 75.40L380.42 75.88L381.59 76.36L382.77 76.85L383.94 77.34L385.12 77.84L386.29 78.34L387.47 78.85L388.64 79.37L389.81 79.88L390.99 80.40L392.16 80.92L393.34 81.45L394.51 81.98L395.69 82.51L396.86 83.05L398.04 83.58L399.21 83.85L400.39 83.88L401.56 83.90L402.73 83.93L403.91 83.95L405.08 83.98L406.26 84.00L407.43 84.02L408.61 84.04L409.78 84.06L410.96 84.08L412.13 84.10L413.31 84.11L414.48 84.13L415.65 84.15L416.83 84.16L418.00 84.18L419.18 84.19L420.35 84.21L421.53 84.22L422.70 84.23L423.88 84.25L425.05 84.26L426.22 84.27L427.40 84.28L428.57 84.29L429.75 84.30L430.92 84.31L432.10 84.32L433.27 84.33L434.45 84.34L435.62 84.35L436.80 84.36L437.97 84.37L439.14 84.38L440.32 84.39L441.49 84.40L442.67 84.40L443.84 84.41L445.02 84.42L446.19 84.43L447.37 84.43L448.54 84.44L449.71 84.52L450.89 85.09L452.06 85.66L453.24 86.23L454.41 86.80L455.59 87.37L456.76 87.94L457.94 88.51L459.11 89.08L460.29 89.65L461.46 90.22L462.63 90.79L463.81 91.37L464.98 91.94L466.16 92.51L467.33 93.08L468.51 93.65L469.68 94.23L470.86 94.80L472.03 95.37L473.20 95.95L474.38 96.52L475.55 97.09L476.73 97.67L477.90 98.24L479.08 98.81L480.25 99.39L481.43 99.96L482.60 100.54L483.77 101.11L484.95 101.69L486.12 102.26L487.30 102.84L488.47 103.41L489.65 103.99L490.82 104.56L492.00 105.14L493.17 105.71L494.35 106.29L495.52 106.86L496.69 107.44L497.87 108.02L499.04 108.59L500.22 109.17L501.39 109.75L502.57 110.32L503.74 110.90L504.92 111.47L506.09 112.05L507.26 112.63L508.44 113.20L509.61 113.78L510.79 114.36L511.96 114.94L513.14 115.51L514.31 116.09L515.49 116.67L516.66 117.24L517.84 117.82L519.01 118.40L520.18 118.98L521.36 119.55L522.53 120.13L523.71 120.71L524.88 121.29L526.06 121.86L527.23 122.44L528.41 123.02L529.58 123.60L530.75 124.18L531.93 124.75L533.10 125.33L534.28 125.91L535.45 126.49L536.63 127.07L537.80 127.65L538.98 128.22L540.15 128.80L541.33 129.38L542.50 129.96" stroke-width="0.6" stroke-opacity="1.0"/>
<path d="M307.60 61.49L308.77 61.50L309.95 61.50L311.12 61.52L312.30 61.53L313.47 61.54L314.65 61.55L315.82 61.56L317.00 61.57L318.17 61.58L319.35 61.60L320.52 61.61L321.69 61.62L322.87 61.64L324.04 61.65L325.22 61.67L326.39 61.68L327.57 61.69L328.74 61.71L329.92 61.72L331.09 61.74L332.26 61.75L333.44 61.77L334.61 61.78L335.79 61.79L336.96 61.80L338.14 61.80L339.31 61.81L340.49 61.81L341.66 61.80L342.84 61.79L344.01 61.77L345.18 61.75L346.36 61.71L347.53 61.66L348.71 61.61L349.88 61.54L351.06 61.45L352.23 61.36L353.41 61.25L354.58 61.14L355.75 61.03L356.93 60.91L358.10 60.80L359.28 60.69L360.45 60.59L361.63 60.50L362.80 60.43L363.98 60.36L365.15 60.31L366.33 60.27L367.50 60.24L368.67 60.22L369.85 60.20L371.02 60.19L372.20 60.19L373.37 60.19L374.55 60.20L375.72 60.21L376.90 60.22L378.07 60.23L379.24 60.24L380.42 60.26L381.59 60.27L382.77 60.28L383.94 60.30L385.12 60.31L386.29 60.33L387.47 60.34L388.64 60.36L389.81 60.37L390.99 60.38L392.16 60.40L393.34 60.41L394.51 60.42L395.69 60.43L396.86 60.45L398.04 60.46L399.21 60.67L400.39 61.20L401.56 61.73L402.73 62.26L403.91 62.80L405.08 63.33L406.26 63.87L407.43 64.41L408.61 64.96L409.78 65.50L410.96 66.04L412.13 66.59L413.31 67.14L414.48 67.69L415.65 68.24L416.83 68.79L418.00 69.34L419.18 69.90L420.35 70.45L421.53 71.01L422.70 71.56L423.88 72.12L425.05 72.68L426.22 73.23L427.40 73.79L428.57 74.35L429.75 74.91L430.92 75.48L432.10 76.04L433.27 76.60L434.45 77.16L435.62 77.73L436.80 78.29L437.97 78.85L439.14 79.42L440.32 79.99L441.49 80.55L442.67 81.12L443.84 81.68L445.02 82.25L446.19 82.82L447.37 83.39L448.54 83.95L449.71 84.45L450.89 84.45L452.06 84.46L453.24 84.47L454.41 84.47L455.59 84.48L456.76 84.49L457.94 84.49L459.11 84.50L460.29 84.50L461.46 84.51L462.63 84.51L463.81 84.52L464.98 84.52L466.16 84.53L467.33 84.53L468.51 84.54L469.68 84.54L470.86 84.55L472.03 84.55L473.20 84.56L474.38 84.56L475.55 84.57L476.73 84.57L477.90 84.57L479.08 84.58L480.25 84.58L481.43 84.59L482.60 84.59L483.77 84.59L484.95 84.60L486.12 84.60L487.30 84.60L488.47 84.61L489.65 84.61L490.82 84.61L492.00 84.62L493.17 84.62L494.35 84.62L495.52 84.63L496.69 84.63L497.87 84.63L499.04 84.77L500.22 85.35L501.39 85.92L502.57 86.50L503.74 87.07L504.92 87.65L506.09 88.22L507.26 88.80L508.44 89.37L509.61 89.95L510.79 90.53L511.96 91.10L513.14 91.68L514.31 92.25L515.49 92.83L516.66 93.41L517.84 93.98L519.01 94.56L520.18 95.13L521.36 95.71L522.53 96.29L523.71 96.86L524.88 97.44L526.06 98.02L527.23 98.59L528.41 99.17L529.58 99.75L530.75 100.32L531.93 100.90L533.10 101.48L534.28 102.06L535.45 102.63L536.63 103.21L537.80 103.79L538.98 104.37L540.15 104.94L541.33 105.52L542.50 106.10" stroke-width="0.6" stroke-opacity="1.0"/>
<path d="M307.60 59.96L308.77 60.52L309.95 61.08L311.12 60.96L312.30 60.42L313.47 59.88L314.65 59.35L315.82 58.82L317.00 58.29L318.17 57.76L319.35 57.24L320.52 56.72L321.69 56.20L322.87 55.69L324.04 55.19L325.22 54.68L326.39 54.19L327.57 53.70L328.74 53.21L329.92 52.73L331.09 52.26L332.26 51.80L333.44 51.35L334.61 50.91L335.79 50.48L336.96 50.06L338.14 49.66L339.31 49.27L340.49 49.48L341.66 49.87L342.84 50.25L344.01 50.62L345.18 50.97L346.36 51.30L347.53 51.60L348.71 51.88L349.88 52.14L351.06 52.36L352.23 52.56L353.41 52.72L354.58 52.85L355.75 52.94L356.93 52.98L358.10 52.99L359.28 52.95L360.45 52.87L361.63 52.75L362.80 52.58L363.98 52.38L365.15 52.13L366.33 51.86L367.50 51.55L368.67 51.22L369.85 50.85L371.02 50.47L372.20 50.07L373.37 50.15L374.55 50.55L375.72 50.96L376.90 51.38L378.07 51.82L379.24 52.26L380.42 52.71L381.59 53.16L382.77 53.63L383.94 54.10L385.12 54.58L386.29 55.06L387.47 55.55L388.64 56.05L389.81 56.55L390.99 57.05L392.16 57.56L393.34 58.07L394.51 58.58L395.69 59.10L396.86 59.62L398.04 60.14L399.21 60.47L400.39 60.48L401.56 60.49L402.73 60.50L403.91 60.51L405.08 60.52L406.26 60.53L407.43 60.54L408.61 60.55L409.78 60.55L410.96 60.56L412.13 60.57L413.31 60.58L414.48 60.58L415.65 60.59L416.83 60.60L418.00 60.61L419.18 60.61L420.35 60.62L421.53 60.62L422.70 60.63L423.88 60.64L425.05 60.64L426.22 60.65L427.40 60.65L428.57 60.66L429.75 60.66L430.92 60.67L432.10 60.67L433.27 60.68L434.45 60.68L435.62 60.68L436.80 60.69L437.97 60.69L439.14 60.70L440.32 60.70L441.49 60.70L442.67 60.71L443.84 60.71L445.02 60.72L446.19 60.72L447.37 60.72L448.54 60.73L449.71 60.79L450.89 61.36L452.06 61.93L453.24 62.49L454.41 63.06L455.59 63.63L456.76 64.19L457.94 64.76L459.11 65.33L460.29 65.90L461.46 66.47L462.63 67.03L463.81 67.60L464.98 68.17L466.16 68.74L467.33 69.31L468.51 69.88L469.68 70.45L470.86 71.02L472.03 71.59L473.20 72.17L474.38 72.74L475.55 73.31L476.73 73.88L477.90 74.45L479.08 75.02L480.25 75.60L481.43 76.17L482.60 76.74L483.77 77.31L484.95 77.89L486.12 78.46L487.30 79.03L488.47 79.61L489.65 80.18L490.82 80.75L492.00 81.33L493.17 81.90L494.35 82.48L495.52 83.05L496.69 83.62L497.87 84.20L499.04 84.64L500.22 84.64L501.39 84.64L502.57 84.64L503.74 84.65L504.92 84.65L506.09 84.65L507.26 84.66L508.44 84.66L509.61 84.66L510.79 84.66L511.96 84.67L513.14 84.67L514.31 84.67L515.49 84.67L516.66 84.68L517.84 84.68L519.01 84.68L520.18 84.68L521.36 84.68L522.53 84.69L523.71 84.69L524.88 84.69L526.06 84.69L527.23 84.70L528.41 84.70L529.58 84.70L530.75 84.70L531.93 84.70L533.10 84.71L534.28 84.71L535.45 84.71L536.63 84.71L537.80 84.71L538.98 84.71L540.15 84.72L541.33 84.72L542.50 84.72" stroke-width="0.6" stroke-opacity="1.0"/>
<path d="M307.60 39.09L308.77 38.56L309.95 38.03L311.12 37.50L312.30 37.62L313.47 38.16L314.65 38.70L315.82 39.24L317.00 39.77L318.17 40.30L319.35 40.83L320.52 41.35L321.69 41.87L322.87 42.39L324.04 42.90L325.22 43.42L326.39 43.92L327.57 44.42L328.74 44.92L329.92 45.41L331.09 45.89L332.26 46.37L333.44 46.84L334.61 47.31L335.79 47.76L336.96 48.21L338.14 48.64L339.31 49.06L340.49 48.90L341.66 48.55L342.84 48.22L344.01 47.92L345.18 47.63L346.36 47.38L347.53 47.15L348.71 46.96L349.88 46.80L351.06 46.67L352.23 46.58L353.41 46.52L354.58 46.50L355.75 46.52L356.93 46.57L358.10 46.65L359.28 46.77L360.45 46.92L361.63 47.10L362.80 47.30L363.98 47.54L365.15 47.80L366.33 48.08L367.50 48.38L368.67 48.70L369.85 49.04L371.02 49.40L372.20 49.77L373.37 49.65L374.55 49.22L375.72 48.77L376.90 48.31L378.07 47.84L379.24 47.36L380.42 46.87L381.59 46.37L382.77 45.87L383.94 45.36L385.12 44.85L386.29 44.33L387.47 43.80L388.64 43.28L389.81 42.75L390.99 42.21L392.16 41.68L393.34 41.14L394.51 40.60L395.69 40.05L396.86 39.51L398.04 38.96L399.21 38.41L400.39 37.86L401.56 38.24L402.73 38.76L403.91 39.29L405.08 39.82L406.26 40.35L407.43 40.88L408.61 41.41L409.78 41.95L410.96 42.48L412.13 43.02L413.31 43.56L414.48 44.10L415.65 44.65L416.83 45.19L418.00 45.74L419.18 46.28L420.35 46.83L421.53 47.38L422.70 47.93L423.88 48.48L425.05 49.04L426.22 49.59L427.40 50.14L428.57 50.70L429.75 51.25L430.92 51.81L432.10 52.37L433.27 52.92L434.45 53.48L435.62 54.04L436.80 54.60L437.97 55.16L439.14 55.72L440.32 56.28L441.49 56.85L442.67 57.41L443.84 57.97L445.02 58.54L446.19 59.10L447.37 59.66L448.54 60.23L449.71 60.73L450.89 60.73L452.06 60.74L453.24 60.74L454.41 60.74L455.59 60.74L456.76 60.75L457.94 60.75L459.11 60.75L460.29 60.76L461.46 60.76L462.63 60.76L463.81 60.76L464.98 60.77L466.16 60.77L467.33 60.77L468.51 60.77L469.68 60.77L470.86 60.78L472.03 60.78L473.20 60.78L474.38 60.78L475.55 60.79L476.73 60.79L477.90 60.79L479.08 60.79L480.25 60.79L481.43 60.79L482.60 60.80L483.77 60.80L484.95 60.80L486.12 60.80L487.30 60.80L488.47 60.81L489.65 60.81L490.82 60.81L492.00 60.81L493.17 60.81L494.35 60.81L495.52 60.82L496.69 60.82L497.87 60.82L499.04 60.95L500.22 61.53L501.39 62.10L502.57 62.67L503.74 63.25L504.92 63.82L506.09 64.40L507.26 64.97L508.44 65.54L509.61 66.12L510.79 66.69L511.96 67.27L513.14 67.84L514.31 68.42L515.49 68.99L516.66 69.57L517.84 70.14L519.01 70.72L520.18 71.29L521.36 71.87L522.53 72.44L523.71 73.02L524.88 73.59L526.06 74.17L527.23 74.74L528.41 75.32L529.58 75.90L530.75 76.47L531.93 77.05L533.10 77.63L534.28 78.20L535.45 78.78L536.63 79.35L537.80 79.93L538.98 80.51L540.15 81.08L541.33 81.66L542.50 82.24" stroke-width="0.6" stroke-opacity="1.0"/>
<path d="M307.60 37.47L308.77 37.48L309.95 37.48L311.12 37.49L312.30 37.50L313.47 37.51L314.65 37.52L315.82 37.53L317.00 37.54L318.17 37.55L319.35 37.56L320.52 37.57L321.69 37.58L322.87 37.59L324.04 37.60L325.22 37.61L326.39 37.62L327.57 37.63L328.74 37.64L329.92 37.65L331.09 37.66L332.26 37.67L333.44 37.67L334.61 37.68L335.79 37.68L336.96 37.68L338.14 37.68L339.31 37.68L340.49 37.67L341.66 37.65L342.84 37.64L344.01 37.61L345.18 37.58L346.36 37.55L347.53 37.50L348.71 37.45L349.88 37.40L351.06 37.33L352.23 37.26L353.41 37.18L354.58 37.10L355.75 37.02L356.93 36.94L358.10 36.86L359.28 36.78L360.45 36.70L361.63 36.63L362.80 36.57L363.98 36.52L365.15 36.47L366.33 36.43L367.50 36.40L368.67 36.37L369.85 36.35L371.02 36.34L372.20 36.33L373.37 36.32L374.55 36.32L375.72 36.32L376.90 36.32L378.07 36.32L379.24 36.33L380.42 36.34L381.59 36.35L382.77 36.35L383.94 36.36L385.12 36.37L386.29 36.38L387.47 36.39L388.64 36.40L389.81 36.41L390.99 36.43L392.16 36.44L393.34 36.45L394.51 36.46L395.69 36.47L396.86 36.48L398.04 36.69L399.21 37.21L400.39 37.72L401.56 37.31L402.73 36.75L403.91 36.53L405.08 36.54L406.26 36.55L407.43 36.55L408.61 36.56L409.78 36.57L410.96 36.58L412.13 36.58L413.31 36.59L414.48 36.60L415.65 36.60L416.83 36.61L418.00 36.61L419.18 36.62L420.35 36.63L421.53 36.63L422.70 36.64L423.88 36.64L425.05 36.65L426.22 36.65L427.40 36.66L428.57 36.66L429.75 36.67L430.92 36.67L432.10 36.68L433.27 36.68L434.45 36.69L435.62 36.69L436.80 36.69L437.97 36.70L439.14 36.70L440.32 36.71L441.49 36.71L442.67 36.71L443.84 36.72L445.02 36.72L446.19 36.72L447.37 36.73L448.54 36.73L449.71 37.06L450.89 37.63L452.06 38.19L453.24 38.75L454.41 39.32L455.59 39.88L456.76 40.44L457.94 41.01L459.11 41.57L460.29 42.14L461.46 42.71L462.63 43.27L463.81 43.84L464.98 44.41L466.16 44.97L467.33 45.54L468.51 46.11L469.68 46.68L470.86 47.25L472.03 47.81L473.20 48.38L474.38 48.95L475.55 49.52L476.73 50.09L477.90 50.66L479.08 51.23L480.25 51.80L481.43 52.37L482.60 52.94L483.77 53.51L484.95 54.09L486.12 54.66L487.30 55.23L488.47 55.80L489.65 56.37L490.82 56.94L492.00 57.52L493.17 58.09L494.35 58.66L495.52 59.23L496.69 59.81L497.87 60.38L499.04 60.82L500.22 60.82L501.39 60.82L502.57 60.82L503.74 60.83L504.92 60.83L506.09 60.83L507.26 60.83L508.44 60.83L509.61 60.83L510.79 60.83L511.96 60.83L513.14 60.84L514.31 60.84L515.49 60.84L516.66 60.84L517.84 60.84L519.01 60.84L520.18 60.84L521.36 60.84L522.53 60.84L523.71 60.85L524.88 60.85L526.06 60.85L527.23 60.85L528.41 60.85L529.58 60.85L530.75 60.85L531.93 60.85L533.10 60.85L534.28 60.85L535.45 60.86L536.63 60.86L537.80 60.86L538.98 60.86L540.15 60.86L541.33 60.86L542.50 60.86" stroke-width="0.6" stroke-opacity="1.0"/>
<path d="M307.60 35.45L308.77 35.99L309.95 36.54L311.12 37.08L312.30 36.97L313.47 36.45L314.65 35.93L315.82 35.41L317.00 34.89L318.17 34.38L319.35 33.88L320.52 33.37L321.69 32.88L322.87 32.38L324.04 31.90L325.22 31.41L326.39 30.94L327.57 30.47L328.74 30.01L329.92 29.55L331.09 29.11L332.26 28.67L333.44 28.25L334.61 27.83L335.79 27.43L336.96 27.04L338.14 26.67L339.31 26.31L340.49 25.97L341.66 25.65L342.84 25.35L344.01 25.47L345.18 25.78L346.36 26.07L347.53 26.34L348.71 26.59L349.88 26.81L351.06 27.00L352.23 27.16L353.41 27.30L354.58 27.40L355.75 27.46L356.93 27.50L358.10 27.49L359.28 27.45L360.45 27.38L361.63 27.27L362.80 27.12L363.98 26.94L365.15 26.73L366.33 26.49L367.50 26.22L368.67 25.93L369.85 26.05L371.02 26.38L372.20 26.72L373.37 27.08L374.55 27.46L375.72 27.84L376.90 28.24L378.07 28.65L379.24 29.07L380.42 29.50L381.59 29.93L382.77 30.38L383.94 30.83L385.12 31.29L386.29 31.76L387.47 32.23L388.64 32.71L389.81 33.19L390.99 33.68L392.16 34.17L393.34 34.67L394.51 35.17L395.69 35.67L396.86 36.18L398.04 36.48L399.21 36.49L400.39 36.50L401.56 36.51L402.73 36.52L403.91 36.20L405.08 35.64L406.26 35.08L407.43 34.52L408.61 33.96L409.78 33.40L410.96 32.84L412.13 32.28L413.31 31.71L414.48 31.15L415.65 30.59L416.83 30.02L418.00 29.45L419.18 28.89L420.35 28.32L421.53 27.75L422.70 27.18L423.88 26.62L425.05 26.05L426.22 25.94L427.40 26.49L428.57 27.04L429.75 27.59L430.92 28.14L432.10 28.69L433.27 29.25L434.45 29.80L435.62 30.36L436.80 30.91L437.97 31.47L439.14 32.02L440.32 32.58L441.49 33.14L442.67 33.70L443.84 34.26L445.02 34.82L446.19 35.38L447.37 35.94L448.54 36.50L449.71 36.73L450.89 36.74L452.06 36.74L453.24 36.74L454.41 36.74L455.59 36.75L456.76 36.75L457.94 36.75L459.11 36.75L460.29 36.76L461.46 36.76L462.63 36.76L463.81 36.76L464.98 36.77L466.16 36.77L467.33 36.77L468.51 36.77L469.68 36.78L470.86 36.78L472.03 36.78L473.20 36.78L474.38 36.78L475.55 36.79L476.73 36.79L477.90 36.79L479.08 36.79L480.25 36.79L481.43 36.80L482.60 36.80L483.77 36.80L484.95 36.80L486.12 36.80L487.30 36.80L488.47 36.81L489.65 36.81L490.82 36.81L492.00 36.81L493.17 36.81L494.35 36.81L495.52 36.82L496.69 36.82L497.87 36.82L499.04 37.13L500.22 37.71L501.39 38.28L502.57 38.85L503.74 39.42L504.92 39.99L506.09 40.57L507.26 41.14L508.44 41.71L509.61 42.29L510.79 42.86L511.96 43.43L513.14 44.01L514.31 44.58L515.49 45.15L516.66 45.73L517.84 46.30L519.01 46.87L520.18 47.45L521.36 48.02L522.53 48.60L523.71 49.17L524.88 49.75L526.06 50.32L527.23 50.90L528.41 51.47L529.58 52.05L530.75 52.62L531.93 53.20L533.10 53.77L534.28 54.35L535.45 54.92L536.63 55.50L537.80 56.07L538.98 56.65L540.15 57.22L541.33 57.80L542.50 58.38" stroke-width="0.6" stroke-opacity="1.0"/>
<path d="M307.60 15.59L308.77 15.06L309.95 14.54L311.12 14.03L312.30 13.51L313.47 13.61L314.65 14.13L315.82 14.65L317.00 15.17L318.17 15.69L319.35 16.20L320.52 16.71L321.69 17.22L322.87 17.72L324.04 18.21L325.22 18.70L326.39 19.19L327.57 19.67L328.74 20.15L329.92 20.62L331.09 21.08L332.26 21.53L333.44 21.98L334.61 22.41L335.79 22.84L336.96 23.25L338.14 23.66L339.31 24.05L340.49 24.43L341.66 24.79L342.84 25.14L344.01 25.07L345.18 24.82L346.36 24.59L347.53 24.38L348.71 24.21L349.88 24.06L351.06 23.95L352.23 23.86L353.41 23.81L354.58 23.78L355.75 23.79L356.93 23.83L358.10 23.90L359.28 24.01L360.45 24.13L361.63 24.29L362.80 24.48L363.98 24.68L365.15 24.91L366.33 25.17L367.50 25.44L368.67 25.74L369.85 25.61L371.02 25.27L372.20 24.90L373.37 24.53L374.55 24.13L375.72 23.72L376.90 23.30L378.07 22.86L379.24 22.41L380.42 21.96L381.59 21.49L382.77 21.02L383.94 20.53L385.12 20.05L386.29 19.55L387.47 19.05L388.64 18.55L389.81 18.04L390.99 17.53L392.16 17.01L393.34 16.49L394.51 15.96L395.69 15.44L396.86 14.91L398.04 14.37L399.21 13.84L400.39 14.24L401.56 14.75L402.73 15.26L403.91 15.77L405.08 16.29L406.26 16.81L407.43 17.34L408.61 17.86L409.78 18.39L410.96 18.92L412.13 19.45L413.31 19.98L414.48 20.52L415.65 21.05L416.83 21.59L418.00 22.13L419.18 22.67L420.35 23.21L421.53 23.76L422.70 24.30L423.88 24.85L425.05 25.39L426.22 25.48L427.40 24.91L428.57 24.34L429.75 23.77L430.92 23.19L432.10 22.62L433.27 22.05L434.45 21.48L435.62 20.91L436.80 20.33L437.97 19.76L439.14 19.19L440.32 18.62L441.49 18.04L442.67 17.47L443.84 16.89L445.02 16.32L446.19 15.75L447.37 15.17L448.54 14.60L449.71 14.02L450.89 13.89L452.06 14.45L453.24 15.01L454.41 15.57L455.59 16.13L456.76 16.70L457.94 17.26L459.11 17.82L460.29 18.38L461.46 18.95L462.63 19.51L463.81 20.07L464.98 20.64L466.16 21.20L467.33 21.77L468.51 22.34L469.68 22.90L470.86 23.47L472.03 24.03L473.20 24.60L474.38 25.17L475.55 25.74L476.73 26.30L477.90 26.87L479.08 27.44L480.25 28.01L481.43 28.58L482.60 29.15L483.77 29.72L484.95 30.28L486.12 30.85L487.30 31.42L488.47 31.99L489.65 32.56L490.82 33.13L492.00 33.71L493.17 34.28L494.35 34.85L495.52 35.42L496.69 35.99L497.87 36.56L499.04 36.82L500.22 36.82L501.39 36.82L502.57 36.82L503.74 36.83L504.92 36.83L506.09 36.83L507.26 36.83L508.44 36.83L509.61 36.83L510.79 36.83L511.96 36.83L513.14 36.84L514.31 36.84L515.49 36.84L516.66 36.84L517.84 36.84L519.01 36.84L520.18 36.84L521.36 36.84L522.53 36.84L523.71 36.85L524.88 36.85L526.06 36.85L527.23 36.85L528.41 36.85L529.58 36.85L530.75 36.85L531.93 36.85L533.10 36.85L534.28 36.85L535.45 36.86L536.63 36.86L537.80 36.86L538.98 36.86L540.15 36.86L541.33 36.86L542.50 36.86" stroke-width="0.6" stroke-opacity="1.0"/>
<path d="M307.60 13.45L308.77 13.46L309.95 13.46L311.12 13.47L312.30 13.48L313.47 13.49L314.65 13.49L315.82 13.50L317.00 13.51L318.17 13.52L319.35 13.53L320.52 13.54L321.69 13.54L322.87 13.55L324.04 13.56L325.22 13.57L326.39 13.57L327.57 13.58L328.74 13.59L329.92 13.59L331.09 13.60L332.26 13.60L333.44 13.60L334.61 13.60L335.79 13.60L336.96 13.60L338.14 13.59L339.31 13.58L340.49 13.57L341.66 13.55L342.84 13.53L344.01 13.51L345.18 13.48L346.36 13.45L347.53 13.41L348.71 13.36L349.88 13.31L351.06 13.26L352.23 13.20L353.41 13.14L354.58 13.08L355.75 13.02L356.93 12.95L358.10 12.89L359.28 12.83L360.45 12.77L361.63 12.71L362.80 12.66L363.98 12.61L365.15 12.57L366.33 12.54L367.50 12.50L368.67 12.48L369.85 12.46L371.02 12.44L372.20 12.42L373.37 12.41L374.55 12.41L375.72 12.40L376.90 12.40L378.07 12.40L379.24 12.40L380.42 12.40L381.59 12.41L382.77 12.41L383.94 12.42L385.12 12.42L386.29 12.43L387.47 12.44L388.64 12.45L389.81 12.45L390.99 12.46L392.16 12.47L393.34 12.48L394.51 12.49L395.69 12.49L396.86 12.73L398.04 13.23L399.21 13.73L400.39 13.30L401.56 12.76L402.73 12.54L403.91 12.55L405.08 12.55L406.26 12.56L407.43 12.57L408.61 12.58L409.78 12.58L410.96 12.59L412.13 12.59L413.31 12.60L414.48 12.61L415.65 12.61L416.83 12.62L418.00 12.62L419.18 12.63L420.35 12.64L421.53 12.64L422.70 12.65L423.88 12.65L425.05 12.66L426.22 12.66L427.40 12.66L428.57 12.67L429.75 12.67L430.92 12.68L432.10 12.68L433.27 12.69L434.45 12.69L435.62 12.69L436.80 12.70L437.97 12.70L439.14 12.71L440.32 12.71L441.49 12.71L442.67 12.72L443.84 12.72L445.02 12.72L446.19 12.73L447.37 12.73L448.54 12.77L449.71 13.33L450.89 13.45L452.06 12.87L453.24 12.74L454.41 12.75L455.59 12.75L456.76 12.75L457.94 12.75L459.11 12.76L460.29 12.76L461.46 12.76L462.63 12.76L463.81 12.77L464.98 12.77L466.16 12.77L467.33 12.77L468.51 12.78L469.68 12.78L470.86 12.78L472.03 12.78L473.20 12.78L474.38 12.79L475.55 12.79L476.73 12.79L477.90 12.79L479.08 12.79L480.25 12.80L481.43 12.80L482.60 12.80L483.77 12.80L484.95 12.80L486.12 12.80L487.30 12.81L488.47 12.81L489.65 12.81L490.82 12.81L492.00 12.81L493.17 12.81L494.35 12.82L495.52 12.82L496.69 12.82L497.87 12.82L499.04 13.31L500.22 13.88L501.39 14.45L502.57 15.02L503.74 15.60L504.92 16.17L506.09 16.74L507.26 17.31L508.44 17.88L509.61 18.45L510.79 19.02L511.96 19.60L513.14 20.17L514.31 20.74L515.49 21.31L516.66 21.89L517.84 22.46L519.01 23.03L520.18 23.61L521.36 24.18L522.53 24.75L523.71 25.33L524.88 25.90L526.06 26.47L527.23 27.05L528.41 27.62L529.58 28.19L530.75 28.77L531.93 29.34L533.10 29.92L534.28 30.49L535.45 31.07L536.63 31.64L537.80 32.21L538.98 32.79L540.15 33.36L541.33 33.94L542.50 34.51" stroke-width="0.6" stroke-opacity="1.0"/>
<path d="M307.60 10.95L308.77 11.48L309.95 12.02L311.12 12.55L312.30 13.08L313.47 13.00L314.65 12.49L315.82 11.99L317.00 11.49L318.17 10.99L319.35 10.50L320.52 10.01L321.69 9.53L322.87 9.05L324.04 8.58L325.22 8.11L326.39 7.66L327.57 7.21L328.74 6.76L329.92 6.33L331.09 5.91L332.26 5.49L333.44 5.09L334.61 4.70L335.79 4.32L336.96 3.96L338.14 3.61L339.31 3.27L340.49 2.96L341.66 2.66L342.84 2.38L344.01 2.12L345.18 1.89L346.36 1.67L347.53 1.49L348.71 1.43L349.88 1.62L351.06 1.79L352.23 1.94L353.41 2.05L354.58 2.14L355.75 2.19L356.93 2.22L358.10 2.21L359.28 2.17L360.45 2.10L361.63 2.00L362.80 1.87L363.98 1.73L365.15 1.94L366.33 2.18L367.50 2.43L368.67 2.70L369.85 2.99L371.02 3.30L372.20 3.62L373.37 3.96L374.55 4.31L375.72 4.68L376.90 5.06L378.07 5.44L379.24 5.84L380.42 6.25L381.59 6.67L382.77 7.10L383.94 7.53L385.12 7.98L386.29 8.43L387.47 8.88L388.64 9.35L389.81 9.81L390.99 10.29L392.16 10.77L393.34 11.25L394.51 11.74L395.69 12.23L396.86 12.50L398.04 12.51L399.21 12.52L400.39 12.52L401.56 12.53L402.73 12.22L403.91 11.67L405.08 11.13L406.26 10.58L407.43 10.03L408.61 9.48L409.78 8.93L410.96 8.38L412.13 7.83L413.31 7.27L414.48 6.72L415.65 6.16L416.83 5.60L418.00 5.04L419.18 4.48L420.35 3.92L421.53 3.36L422.70 2.80L423.88 2.24L425.05 1.74L426.22 2.29L427.40 2.83L428.57 3.38L429.75 3.92L430.92 4.47L432.10 5.02L433.27 5.57L434.45 6.12L435.62 6.67L436.80 7.22L437.97 7.77L439.14 8.32L440.32 8.88L441.49 9.43L442.67 9.99L443.84 10.54L445.02 11.10L446.19 11.66L447.37 12.21L448.54 12.73L449.71 12.74L450.89 12.74L452.06 12.74L453.24 12.30L454.41 11.72L455.59 11.14L456.76 10.57L457.94 9.99L459.11 9.42L460.29 8.84L461.46 8.26L462.63 7.69L463.81 7.11L464.98 6.53L466.16 5.96L467.33 5.38L468.51 4.80L469.68 4.22L470.86 3.65L472.03 3.07L473.20 2.49L474.38 1.91L475.55 1.95L476.73 2.51L477.90 3.08L479.08 3.65L480.25 4.21L481.43 4.78L482.60 5.35L483.77 5.91L484.95 6.48L486.12 7.05L487.30 7.62L488.47 8.19L489.65 8.76L490.82 9.32L492.00 9.89L493.17 10.46L494.35 11.03L495.52 11.60L496.69 12.17L497.87 12.74L499.04 12.82L500.22 12.82L501.39 12.82L502.57 12.83L503.74 12.83L504.92 12.83L506.09 12.83L507.26 12.83L508.44 12.83L509.61 12.83L510.79 12.83L511.96 12.84L513.14 12.84L514.31 12.84L515.49 12.84L516.66 12.84L517.84 12.84L519.01 12.84L520.18 12.84L521.36 12.84L522.53 12.85L523.71 12.85L524.88 12.85L526.06 12.85L527.23 12.85L528.41 12.85L529.58 12.85L530.75 12.85L531.93 12.85L533.10 12.85L534.28 12.86L535.45 12.86L536.63 12.86L537.80 12.86L538.98 12.86L540.15 12.86L541.33 12.86L542.50 12.86" stroke-width="0.6" stroke-opacity="1.0"/>
<path d="M307.60 -7.93L308.77 -8.44L309.95 -8.95L311.12 -9.46L312.30 -9.96L313.47 -10.46L314.65 -10.42L315.82 -9.91L317.00 -9.41L318.17 -8.90L319.35 -8.40L320.52 -7.91L321.69 -7.42L322.87 -6.93L324.04 -6.45L325.22 -5.98L326.39 -5.51L327.57 -5.05L328.74 -4.59L329.92 -4.14L331.09 -3.70L332.26 -3.27L333.44 -2.85L334.61 -2.43L335.79 -2.03L336.96 -1.64L338.14 -1.26L339.31 -0.89L340.49 -0.54L341.66 -0.20L342.84 0.12L344.01 0.42L345.18 0.70L346.36 0.97L347.53 1.21L348.71 1.33L349.88 1.19L351.06 1.08L352.23 1.00L353.41 0.95L354.58 0.93L355.75 0.93L356.93 0.97L358.10 1.03L359.28 1.12L360.45 1.23L361.63 1.38L362.80 1.54L363.98 1.70L365.15 1.51L366.33 1.30L367.50 1.05L368.67 0.78L369.85 0.49L371.02 0.18L372.20 -0.15L373.37 -0.50L374.55 -0.86L375.72 -1.25L376.90 -1.64L378.07 -2.05L379.24 -2.47L380.42 -2.90L381.59 -3.34L382.77 -3.79L383.94 -4.25L385.12 -4.71L386.29 -5.19L387.47 -5.67L388.64 -6.15L389.81 -6.64L390.99 -7.14L392.16 -7.64L393.34 -8.14L394.51 -8.65L395.69 -9.16L396.86 -9.68L398.04 -10.20L399.21 -9.76L400.39 -9.26L401.56 -8.76L402.73 -8.26L403.91 -7.75L405.08 -7.24L406.26 -6.73L407.43 -6.21L408.61 -5.70L409.78 -5.18L410.96 -4.66L412.13 -4.13L413.31 -3.61L414.48 -3.08L415.65 -2.55L416.83 -2.02L418.00 -1.48L419.18 -0.95L420.35 -0.41L421.53 0.12L422.70 0.66L423.88 1.20L425.05 1.68L426.22 1.11L427.40 0.55L428.57 -0.02L429.75 -0.58L430.92 -1.15L432.10 -1.71L433.27 -2.28L434.45 -2.85L435.62 -3.42L436.80 -3.98L437.97 -4.55L439.14 -5.12L440.32 -5.69L441.49 -6.26L442.67 -6.83L443.84 -7.40L445.02 -7.97L446.19 -8.54L447.37 -9.11L448.54 -9.68L449.71 -10.25L450.89 -9.85L452.06 -9.29L453.24 -8.73L454.41 -8.17L455.59 -7.61L456.76 -7.06L457.94 -6.50L459.11 -5.94L460.29 -5.37L461.46 -4.81L462.63 -4.25L463.81 -3.69L464.98 -3.13L466.16 -2.57L467.33 -2.00L468.51 -1.44L469.68 -0.88L470.86 -0.31L472.03 0.25L473.20 0.82L474.38 1.38L475.55 1.34L476.73 0.76L477.90 0.18L479.08 -0.40L480.25 -0.97L481.43 -1.55L482.60 -2.13L483.77 -2.71L484.95 -3.29L486.12 -3.87L487.30 -4.44L488.47 -5.02L489.65 -5.60L490.82 -6.18L492.00 -6.76L493.17 -7.34L494.35 -7.92L495.52 -8.49L496.69 -9.07L497.87 -9.65L499.04 -10.23L500.22 -9.94L501.39 -9.37L502.57 -8.80L503.74 -8.23L504.92 -7.66L506.09 -7.09L507.26 -6.52L508.44 -5.95L509.61 -5.38L510.79 -4.81L511.96 -4.24L513.14 -3.67L514.31 -3.10L515.49 -2.52L516.66 -1.95L517.84 -1.38L519.01 -0.81L520.18 -0.24L521.36 0.33L522.53 0.91L523.71 1.48L524.88 2.05L526.06 2.62L527.23 3.20L528.41 3.77L529.58 4.34L530.75 4.92L531.93 5.49L533.10 6.06L534.28 6.64L535.45 7.21L536.63 7.78L537.80 8.36L538.98 8.93L540.15 9.50L541.33 10.08L542.50 10.65" stroke-width="0.6" stroke-opacity="1.0"/>
<path d="M307.60 37.00L312.30 38.59L317.00 40.21L321.69 41.89L326.39 43.64L331.09 45.47L335.79 47.39L340.49 49.38L345.18 51.43L349.88 53.54L354.58 55.70L359.28 57.89L363.98 60.10L368.67 62.34L373.37 64.60L378.07 66.87L382.77 69.14L387.47 71.43L392.16 73.72L396.86 76.01L401.56 78.30L406.26 80.60L410.96 82.90L415.65 85.20L420.35 87.50L425.05 89.81L429.75 92.11L434.45 94.41L439.14 96.71L443.84 99.02L448.54 101.32L453.24 103.62L457.94 105.93L462.63 108.23L467.33 110.54L472.03 112.84L476.73 115.14L481.43 117.45L486.12 119.75L490.82 122.06L495.52 124.36L500.22 126.66L504.92 128.97L509.61 131.27L514.31 133.58L519.01 135.88L523.71 138.18L528.41 140.49L533.10 142.79L537.80 145.10L542.50 147.40" stroke-width="0.6" stroke-opacity="1.0"/>
<path d="M307.60 13.00L312.30 14.59L317.00 16.21L321.69 17.89L326.39 19.64L331.09 21.47L335.79 23.39L340.49 25.38L345.18 27.43L349.88 29.54L354.58 31.70L359.28 33.89L363.98 36.10L368.67 38.34L373.37 40.60L378.07 42.87L382.77 45.14L387.47 47.43L392.16 49.72L396.86 52.01L401.56 54.30L406.26 56.60L410.96 58.90L415.65 61.20L420.35 63.50L425.05 65.81L429.75 68.11L434.45 70.41L439.14 72.71L443.84 75.02L448.54 77.32L453.24 79.62L457.94 81.93L462.63 84.23L467.33 86.54L472.03 88.84L476.73 91.14L481.43 93.45L486.12 95.75L490.82 98.06L495.52 100.36L500.22 102.66L504.92 104.97L509.61 107.27L514.31 109.58L519.01 111.88L523.71 114.18L528.41 116.49L533.10 118.79L537.80 121.10L542.50 123.40" stroke-width="0.6" stroke-opacity="1.0"/>
<path d="M307.60 -11.00L312.30 -9.41L317.00 -7.79L321.69 -6.11L326.39 -4.36L331.09 -2.53L335.79 -0.61L340.49 1.38L345.18 3.43L349.88 5.54L354.58 7.70L359.28 9.89L363.98 12.10L368.67 14.34L373.37 16.60L378.07 18.87L382.77 21.14L387.47 23.43L392.16 25.72L396.86 28.01L401.56 30.30L406.26 32.60L410.96 34.90L415.65 37.20L420.35 39.50L425.05 41.81L429.75 44.11L434.45 46.41L439.14 48.71L443.84 51.02L448.54 53.32L453.24 55.62L457.94 57.93L462.63 60.23L467.33 62.54L472.03 64.84L476.73 67.14L481.43 69.45L486.12 71.75L490.82 74.06L495.52 76.36L500.22 78.66L504.92 80.97L509.61 83.27L514.31 85.58L519.01 87.88L523.71 90.18L528.41 92.49L533.10 94.79L537.80 97.10L542.50 99.40" stroke-width="0.6" stroke-opacity="1.0"/>
<path d="M307.60 -35.00L312.30 -33.41L317.00 -31.79L321.69 -30.11L326.39 -28.36L331.09 -26.53L335.79 -24.61L340.49 -22.62L345.18 -20.57L349.88 -18.46L354.58 -16.30L359.28 -14.11L363.98 -11.90L368.67 -9.66L373.37 -7.40L378.07 -5.13L382.77 -2.86L387.47 -0.57L392.16 1.72L396.86 4.01L401.56 6.30L406.26 8.60L410.96 10.90L415.65 13.20L420.35 15.50L425.05 17.81L429.75 20.11L434.45 22.41L439.14 24.71L443.84 27.02L448.54 29.32L453.24 31.62L457.94 33.93L462.63 36.23L467.33 38.54L472.03 40.84L476.73 43.14L481.43 45.45L486.12 47.75L490.82 50.06L495.52 52.36L500.22 54.66L504.92 56.97L509.61 59.27L514.31 61.58L519.01 63.88L523.71 66.18L528.41 68.49L533.10 70.79L537.80 73.10L542.50 75.40" stroke-width="0.6" stroke-opacity="1.0"/>
<path d="M307.60 -59.00L312.30 -57.41L317.00 -55.79L321.69 -54.11L326.39 -52.36L331.09 -50.53L335.79 -48.61L340.49 -46.62L345.18 -44.57L349.88 -42.46L354.58 -40.30L359.28 -38.11L363.98 -35.90L368.67 -33.66L373.37 -31.40L378.07 -29.13L382.77 -26.86L387.47 -24.57L392.16 -22.28L396.86 -19.99L401.56 -17.70L406.26 -15.40L410.96 -13.10L415.65 -10.80L420.35 -8.50L425.05 -6.19L429.75 -3.89L434.45 -1.59L439.14 0.71L443.84 3.02L448.54 5.32L453.24 7.62L457.94 9.93L462.63 12.23L467.33 14.54L472.03 16.84L476.73 19.14L481.43 21.45L486.12 23.75L490.82 26.06L495.52 28.36L500.22 30.66L504.92 32.97L509.61 35.27L514.31 37.58L519.01 39.88L523.71 42.18L528.41 44.49L533.10 46.79L537.80 49.10L542.50 51.40" stroke-width="0.6" stroke-opacity="1.0"/>
<path d="M307.60 -83.00L312.30 -81.41L317.00 -79.79L321.69 -78.11L326.39 -76.36L331.09 -74.53L335.79 -72.61L340.49 -70.62L345.18 -68.57L349.88 -66.46L354.58 -64.30L359.28 -62.11L363.98 -59.90L368.67 -57.66L373.37 -55.40L378.07 -53.13L382.77 -50.86L387.47 -48.57L392.16 -46.28L396.86 -43.99L401.56 -41.70L406.26 -39.40L410.96 -37.10L415.65 -34.80L420.35 -32.50L425.05 -30.19L429.75 -27.89L434.45 -25.59L439.14 -23.29L443.84 -20.98L448.54 -18.68L453.24 -16.38L457.94 -14.07L462.63 -11.77L467.33 -9.46L472.03 -7.16L476.73 -4.86L481.43 -2.55L486.12 -0.25L490.82 2.06L495.52 4.36L500.22 6.66L504.92 8.97L509.61 11.27L514.31 13.58L519.01 15.88L523.71 18.18L528.41 20.49L533.10 22.79L537.80 25.10L542.50 27.40" stroke-width="0.6" stroke-opacity="1.0"/>
<path d="M307.60 -107.00L312.30 -105.41L317.00 -103.79L321.69 -102.11L326.39 -100.36L331.09 -98.53L335.79 -96.61L340.49 -94.62L345.18 -92.57L349.88 -90.46L354.58 -88.30L359.28 -86.11L363.98 -83.90L368.67 -81.66L373.37 -79.40L378.07 -77.13L382.77 -74.86L387.47 -72.57L392.16 -70.28L396.86 -67.99L401.56 -65.70L406.26 -63.40L410.96 -61.10L415.65 -58.80L420.35 -56.50L425.05 -54.19L429.75 -51.89L434.45 -49.59L439.14 -47.29L443.84 -44.98L448.54 -42.68L453.24 -40.38L457.94 -38.07L462.63 -35.77L467.33 -33.46L472.03 -31.16L476.73 -28.86L481.43 -26.55L486.12 -24.25L490.82 -21.94L495.52 -19.64L500.22 -17.34L504.92 -15.03L509.61 -12.73L514.31 -10.42L519.01 -8.12L523.71 -5.82L528.41 -3.51L533.10 -1.21L537.80 1.10L542.50 3.40" stroke-width="0.6" stroke-opacity="1.0"/>
<path d="M307.60 -131.00L312.30 -129.41L317.00 -127.79L321.69 -126.11L326.39 -124.36L331.09 -122.53L335.79 -120.61L340.49 -118.62L345.18 -116.57L349.88 -114.46L354.58 -112.30L359.28 -110.11L363.98 -107.90L368.67 -105.66L373.37 -103.40L378.07 -101.13L382.77 -98.86L387.47 -96.57L392.16 -94.28L396.86 -91.99L401.56 -89.70L406.26 -87.40L410.96 -85.10L415.65 -82.80L420.35 -80.50L425.05 -78.19L429.75 -75.89L434.45 -73.59L439.14 -71.29L443.84 -68.98L448.54 -66.68L453.24 -64.38L457.94 -62.07L462.63 -59.77L467.33 -57.46L472.03 -55.16L476.73 -52.86L481.43 -50.55L486.12 -48.25L490.82 -45.94L495.52 -43.64L500.22 -41.34L504.92 -39.03L509.61 -36.73L514.31 -34.42L519.01 -32.12L523.71 -29.82L528.41 -27.51L533.10 -25.21L537.80 -22.90L542.50 -20.60" stroke-width="0.6" stroke-opacity="1.0"/>
<path d="M307.60 -11.00L312.30 -10.13L317.00 -9.19L321.69 -8.14L326.39 -6.94L331.09 -5.58L335.79 -4.05L340.49 -2.38L345.18 -0.57L349.88 1.35L354.58 3.35L359.28 5.43L363.98 7.56L368.67 9.73L373.37 11.94L378.07 14.17L382.77 16.42L387.47 18.68L392.16 20.96L396.86 23.24L401.56 25.53L406.26 27.82L410.96 30.11L415.65 32.41L420.35 34.71L425.05 37.01L429.75 39.31L434.45 41.61L439.14 43.92L443.84 46.22L448.54 48.52L453.24 50.83L457.94 53.13L462.63 55.43L467.33 57.74L472.03 60.04L476.73 62.34L481.43 64.65L486.12 66.95L490.82 69.26L495.52 71.56L500.22 73.86L504.92 76.17L509.61 78.47L514.31 80.78L519.01 83.08L523.71 85.38L528.41 87.69L533.10 89.99L537.80 92.30L542.50 94.60" stroke-width="0.6" stroke-opacity="1.0"/>
<path d="M307.60 -35.00L312.30 -34.13L317.00 -33.19L321.69 -32.14L326.39 -30.94L331.09 -29.58L335.79 -28.05L340.49 -26.38L345.18 -24.57L349.88 -22.65L354.58 -20.65L359.28 -18.57L363.98 -16.44L368.67 -14.27L373.37 -12.06L378.07 -9.83L382.77 -7.58L387.47 -5.32L392.16 -3.04L396.86 -0.76L401.56 1.53L406.26 3.82L410.96 6.11L415.65 8.41L420.35 10.71L425.05 13.01L429.75 15.31L434.45 17.61L439.14 19.92L443.84 22.22L448.54 24.52L453.24 26.83L457.94 29.13L462.63 31.43L467.33 33.74L472.03 36.04L476.73 38.34L481.43 40.65L486.12 42.95L490.82 45.26L495.52 47.56L500.22 49.86L504.92 52.17L509.61 54.47L514.31 56.78L519.01 59.08L523.71 61.38L528.41 63.69L533.10 65.99L537.80 68.30L542.50 70.60" stroke-width="0.6" stroke-opacity="1.0"/>
<path d="M307.60 -59.00L312.30 -58.13L317.00 -57.19L321.69 -56.14L326.39 -54.94L331.09 -53.58L335.79 -52.05L340.49 -50.38L345.18 -48.57L349.88 -46.65L354.58 -44.65L359.28 -42.57L363.98 -40.44L368.67 -38.27L373.37 -36.06L378.07 -33.83L382.77 -31.58L387.47 -29.32L392.16 -27.04L396.86 -24.76L401.56 -22.47L406.26 -20.18L410.96 -17.89L415.65 -15.59L420.35 -13.29L425.05 -10.99L429.75 -8.69L434.45 -6.39L439.14 -4.08L443.84 -1.78L448.54 0.52L453.24 2.83L457.94 5.13L462.63 7.43L467.33 9.74L472.03 12.04L476.73 14.34L481.43 16.65L486.12 18.95L490.82 21.26L495.52 23.56L500.22 25.86L504.92 28.17L509.61 30.47L514.31 32.78L519.01 35.08L523.71 37.38L528.41 39.69L533.10 41.99L537.80 44.30L542.50 46.60" stroke-width="0.6" stroke-opacity="1.0"/>
<path d="M307.60 -83.00L312.30 -82.13L317.00 -81.19L321.69 -80.14L326.39 -78.94L331.09 -77.58L335.79 -76.05L340.49 -74.38L345.18 -72.57L349.88 -70.65L354.58 -68.65L359.28 -66.57L363.98 -64.44L368.67 -62.27L373.37 -60.06L378.07 -57.83L382.77 -55.58L387.47 -53.32L392.16 -51.04L396.86 -48.76L401.56 -46.47L406.26 -44.18L410.96 -41.89L415.65 -39.59L420.35 -37.29L425.05 -34.99L429.75 -32.69L434.45 -30.39L439.14 -28.08L443.84 -25.78L448.54 -23.48L453.24 -21.17L457.94 -18.87L462.63 -16.57L467.33 -14.26L472.03 -11.96L476.73 -9.66L481.43 -7.35L486.12 -5.05L490.82 -2.74L495.52 -0.44L500.22 1.86L504.92 4.17L509.61 6.47L514.31 8.78L519.01 11.08L523.71 13.38L528.41 15.69L533.10 17.99L537.80 20.30L542.50 22.60" stroke-width="0.6" stroke-opacity="1.0"/>
<path d="M307.60 -107.00L312.30 -106.13L317.00 -105.19L321.69 -104.14L326.39 -102.94L331.09 -101.58L335.79 -100.05L340.49 -98.38L345.18 -96.57L349.88 -94.65L354.58 -92.65L359.28 -90.57L363.98 -88.44L368.67 -86.27L373.37 -84.06L378.07 -81.83L382.77 -79.58L387.47 -77.32L392.16 -75.04L396.86 -72.76L401.56 -70.47L406.26 -68.18L410.96 -65.89L415.65 -63.59L420.35 -61.29L425.05 -58.99L429.75 -56.69L434.45 -54.39L439.14 -52.08L443.84 -49.78L448.54 -47.48L453.24 -45.17L457.94 -42.87L462.63 -40.57L467.33 -38.26L472.03 -35.96L476.73 -33.66L481.43 -31.35L486.12 -29.05L490.82 -26.74L495.52 -24.44L500.22 -22.14L504.92 -19.83L509.61 -17.53L514.31 -15.22L519.01 -12.92L523.71 -10.62L528.41 -8.31L533.10 -6.01L537.80 -3.70L542.50 -1.40" stroke-width="0.6" stroke-opacity="1.0"/>
<path d="M307.60 -131.00L312.30 -130.13L317.00 -129.19L321.69 -128.14L326.39 -126.94L331.09 -125.58L335.79 -124.05L340.49 -122.38L345.18 -120.57L349.88 -118.65L354.58 -116.65L359.28 -114.57L363.98 -112.44L368.67 -110.27L373.37 -108.06L378.07 -105.83L382.77 -103.58L387.47 -101.32L392.16 -99.04L396.86 -96.76L401.56 -94.47L406.26 -92.18L410.96 -89.89L415.65 -87.59L420.35 -85.29L425.05 -82.99L429.75 -80.69L434.45 -78.39L439.14 -76.08L443.84 -73.78L448.54 -71.48L453.24 -69.17L457.94 -66.87L462.63 -64.57L467.33 -62.26L472.03 -59.96L476.73 -57.66L481.43 -55.35L486.12 -53.05L490.82 -50.74L495.52 -48.44L500.22 -46.14L504.92 -43.83L509.61 -41.53L514.31 -39.22L519.01 -36.92L523.71 -34.62L528.41 -32.31L533.10 -30.01L537.80 -27.70L542.50 -25.40" stroke-width="0.6" stroke-opacity="1.0"/>
<path d="M307.60 -59.00L312.30 -55.91L317.00 -52.85L321.69 -49.86L326.39 -46.95L331.09 -44.13L335.79 -41.39L340.49 -38.74L345.18 -36.17L349.88 -33.65L354.58 -31.18L359.28 -28.75L363.98 -26.35L368.67 -23.98L373.37 -21.62L378.07 -19.28L382.77 -16.94L387.47 -14.62L392.16 -12.30L396.86 -9.98L401.56 -7.67L406.26 -5.36L410.96 -3.05L415.65 -0.74L420.35 1.57L425.05 3.87L429.75 6.18L434.45 8.48L439.14 10.79L443.84 13.09L448.54 15.40L453.24 17.70L457.94 20.01L462.63 22.31L467.33 24.62L472.03 26.92L476.73 29.22L481.43 31.53L486.12 33.83L490.82 36.14L495.52 38.44L500.22 40.74L504.92 43.05L509.61 45.35L514.31 47.66L519.01 49.96L523.71 52.26L528.41 54.57L533.10 56.87L537.80 59.18L542.50 61.48" stroke-width="0.6" stroke-opacity="1.0"/>
<path d="M307.60 -83.00L312.30 -79.91L317.00 -76.85L321.69 -73.86L326.39 -70.95L331.09 -68.13L335.79 -65.39L340.49 -62.74L345.18 -60.17L349.88 -57.65L354.58 -55.18L359.28 -52.75L363.98 -50.35L368.67 -47.98L373.37 -45.62L378.07 -43.28L382.77 -40.94L387.47 -38.62L392.16 -36.30L396.86 -33.98L401.56 -31.67L406.26 -29.36L410.96 -27.05L415.65 -24.74L420.35 -22.43L425.05 -20.13L429.75 -17.82L434.45 -15.52L439.14 -13.21L443.84 -10.91L448.54 -8.60L453.24 -6.30L457.94 -3.99L462.63 -1.69L467.33 0.62L472.03 2.92L476.73 5.22L481.43 7.53L486.12 9.83L490.82 12.14L495.52 14.44L500.22 16.74L504.92 19.05L509.61 21.35L514.31 23.66L519.01 25.96L523.71 28.26L528.41 30.57L533.10 32.87L537.80 35.18L542.50 37.48" stroke-width="0.6" stroke-opacity="1.0"/>
<path d="M307.60 -107.00L312.30 -103.91L317.00 -100.85L321.69 -97.86L326.39 -94.95L331.09 -92.13L335.79 -89.39L340.49 -86.74L345.18 -84.17L349.88 -81.65L354.58 -79.18L359.28 -76.75L363.98 -74.35L368.67 -71.98L373.37 -69.62L378.07 -67.28L382.77 -64.94L387.47 -62.62L392.16 -60.30L396.86 -57.98L401.56 -55.67L406.26 -53.36L410.96 -51.05L415.65 -48.74L420.35 -46.43L425.05 -44.13L429.75 -41.82L434.45 -39.52L439.14 -37.21L443.84 -34.91L448.54 -32.60L453.24 -30.30L457.94 -27.99L462.63 -25.69L467.33 -23.38L472.03 -21.08L476.73 -18.78L481.43 -16.47L486.12 -14.17L490.82 -11.86L495.52 -9.56L500.22 -7.26L504.92 -4.95L509.61 -2.65L514.31 -0.34L519.01 1.96L523.71 4.26L528.41 6.57L533.10 8.87L537.80 11.18L542.50 13.48" stroke-width="0.6" stroke-opacity="1.0"/>
<path d="M307.60 -131.00L312.30 -127.91L317.00 -124.85L321.69 -121.86L326.39 -118.95L331.09 -116.13L335.79 -113.39L340.49 -110.74L345.18 -108.17L349.88 -105.65L354.58 -103.18L359.28 -100.75L363.98 -98.35L368.67 -95.98L373.37 -93.62L378.07 -91.28L382.77 -88.94L387.47 -86.62L392.16 -84.30L396.86 -81.98L401.56 -79.67L406.26 -77.36L410.96 -75.05L415.65 -72.74L420.35 -70.43L425.05 -68.13L429.75 -65.82L434.45 -63.52L439.14 -61.21L443.84 -58.91L448.54 -56.60L453.24 -54.30L457.94 -51.99L462.63 -49.69L467.33 -47.38L472.03 -45.08L476.73 -42.78L481.43 -40.47L486.12 -38.17L490.82 -35.86L495.52 -33.56L500.22 -31.26L504.92 -28.95L509.61 -26.65L514.31 -24.34L519.01 -22.04L523.71 -19.74L528.41 -17.43L533.10 -15.13L537.80 -12.82L542.50 -10.52" stroke-width="0.6" stroke-opacity="1.0"/>
<path d="M307.60 37.00L312.30 37.65L317.00 38.28L321.69 38.89L326.39 39.46L331.09 39.99L335.79 40.48L340.49 40.92L345.18 41.30L349.88 41.64L354.58 41.94L359.28 42.19L363.98 42.40L368.67 42.58L373.37 42.74L378.07 42.87L382.77 42.97L387.47 43.06L392.16 43.14L396.86 43.20L401.56 43.25L406.26 43.29L410.96 43.32L415.65 43.35L420.35 43.37L425.05 43.39L429.75 43.41L434.45 43.42L439.14 43.43L443.84 43.44L448.54 43.45L453.24 43.45L457.94 43.46L462.63 43.46L467.33 43.47L472.03 43.47L476.73 43.47L481.43 43.47L486.12 43.47L490.82 43.47L495.52 43.48L500.22 43.48L504.92 43.48L509.61 43.48L514.31 43.48L519.01 43.48L523.71 43.48L528.41 43.48L533.10 43.48L537.80 43.48L542.50 43.48" stroke-width="0.6" stroke-opacity="1.0"/>
<path d="M307.60 13.00L312.30 13.95L317.00 14.78L321.69 15.48L326.39 16.08L331.09 16.59L335.79 17.01L340.49 17.35L345.18 17.63L349.88 17.85L354.58 18.02L359.28 18.14L363.98 18.22L368.67 18.27L373.37 18.28L378.07 18.27L382.77 18.23L387.47 18.17L392.16 18.10L396.86 18.01L401.56 17.91L406.26 17.80L410.96 17.69L415.65 17.56L420.35 17.43L425.05 17.30L429.75 17.16L434.45 17.02L439.14 16.88L443.84 16.75L448.54 16.61L453.24 16.47L457.94 16.34L462.63 16.20L467.33 16.07L472.03 15.95L476.73 15.82L481.43 15.70L486.12 15.58L490.82 15.47L495.52 15.36L500.22 15.25L504.92 15.14L509.61 15.04L514.31 14.95L519.01 14.85L523.71 14.76L528.41 14.68L533.10 14.60L537.80 14.52L542.50 14.44" stroke-width="0.55" stroke-opacity="1.0"/>
<path d="M307.60 37.00L312.30 35.84L317.00 34.85L321.69 34.01L326.39 33.31L331.09 32.73L335.79 32.26L340.49 31.87L345.18 31.58L349.88 31.35L354.58 31.19L359.28 31.08L363.98 31.02L368.67 31.00L373.37 31.02L378.07 31.06L382.77 31.14L387.47 31.23L392.16 31.34L396.86 31.47L401.56 31.61L406.26 31.76L410.96 31.92L415.65 32.08L420.35 32.25L425.05 32.42L429.75 32.59L434.45 32.76L439.14 32.92L443.84 33.09L448.54 33.26L453.24 33.42L457.94 33.58L462.63 33.73L467.33 33.88L472.03 34.03L476.73 34.17L481.43 34.30L486.12 34.44L490.82 34.56L495.52 34.69L500.22 34.80L504.92 34.92L509.61 35.03L514.31 35.13L519.01 35.23L523.71 35.32L528.41 35.41L533.10 35.50L537.80 35.58L542.50 35.66" stroke-width="0.55" stroke-opacity="1.0"/>
<path d="M307.60 13.00L312.30 13.69L317.00 14.22L321.69 14.60L326.39 14.86L331.09 15.00L335.79 15.04L340.49 15.00L345.18 14.87L349.88 14.69L354.58 14.45L359.28 14.18L363.98 13.87L368.67 13.55L373.37 13.23L378.07 12.91L382.77 12.60L387.47 12.32L392.16 12.06L396.86 11.82L401.56 11.60L406.26 11.41L410.96 11.24L415.65 11.09L420.35 10.95L425.05 10.82L429.75 10.71L434.45 10.61L439.14 10.51L443.84 10.42L448.54 10.34L453.24 10.26L457.94 10.18L462.63 10.11L467.33 10.05L472.03 9.99L476.73 9.93L481.43 9.88L486.12 9.83L490.82 9.78L495.52 9.73L500.22 9.69L504.92 9.65L509.61 9.62L514.31 9.58L519.01 9.55L523.71 9.52L528.41 9.49L533.10 9.47L537.80 9.45L542.50 9.42" stroke-width="0.6" stroke-opacity="1.0"/>
</g>
<g clip-path="url(#ce)" fill="none" stroke="#f00" stroke-linejoin="round" stroke-linecap="round">
<path d="M307.60 243.00C308.38 242.81 310.73 242.22 312.30 241.86C313.86 241.50 315.43 241.17 317.00 240.85C318.56 240.54 320.13 240.26 321.69 239.99C323.26 239.73 324.83 239.48 326.39 239.27C327.96 239.05 329.52 238.85 331.09 238.68C332.66 238.51 334.22 238.36 335.79 238.23C337.35 238.11 338.92 238.01 340.49 237.93C342.05 237.85 343.62 237.79 345.18 237.76C346.75 237.73 348.32 237.72 349.88 237.73C351.45 237.74 353.01 237.78 354.58 237.84C356.15 237.90 357.71 237.98 359.28 238.09C360.84 238.20 362.41 238.33 363.98 238.48C365.54 238.63 367.11 238.81 368.67 239.01C370.24 239.21 371.81 239.43 373.37 239.67C374.94 239.92 376.50 240.19 378.07 240.48C379.64 240.77 381.20 241.09 382.77 241.43C384.33 241.76 385.90 242.13 387.47 242.51C389.03 242.90 390.60 243.30 392.16 243.73C393.73 244.17 395.30 244.62 396.86 245.10C398.43 245.58 399.99 246.08 401.56 246.60C403.13 247.12 404.69 247.67 406.26 248.24C407.82 248.81 409.39 249.41 410.96 250.02C412.52 250.64 414.09 251.28 415.65 251.94C417.22 252.60 418.79 253.31 420.35 254.00C421.92 254.69 423.48 255.39 425.05 256.08C426.62 256.78 428.18 257.48 429.75 258.17C431.31 258.87 432.88 259.56 434.45 260.26C436.01 260.96 437.58 261.65 439.14 262.35C440.71 263.04 442.28 263.74 443.84 264.44C445.41 265.13 446.97 265.83 448.54 266.52C450.11 267.22 451.67 267.92 453.24 268.61C454.80 269.31 456.37 270.00 457.94 270.70C459.50 271.40 461.07 272.09 462.63 272.79C464.20 273.48 465.77 274.18 467.33 274.88C468.90 275.57 470.46 276.27 472.03 276.96C473.60 277.66 475.16 278.36 476.73 279.05C478.29 279.75 479.86 280.44 481.43 281.14C482.99 281.84 484.56 282.53 486.12 283.23C487.69 283.92 489.26 284.62 490.82 285.32C492.39 286.01 493.95 286.71 495.52 287.40C497.09 288.10 498.65 288.80 500.22 289.49C501.78 290.19 503.35 290.88 504.92 291.58C506.48 292.28 508.05 292.97 509.61 293.67C511.18 294.36 512.75 295.06 514.31 295.76C515.88 296.45 517.44 297.15 519.01 297.84C520.58 298.54 522.14 299.24 523.71 299.93C525.27 300.63 526.84 301.32 528.41 302.02C529.97 302.72 531.54 303.41 533.10 304.11C534.67 304.80 536.24 305.50 537.80 306.20C539.37 306.89 541.72 307.94 542.50 308.28" stroke-width="0.6" stroke-opacity="1.0"/>
<path d="M307.60 243.00C308.38 243.01 310.73 243.01 312.30 243.04C313.86 243.07 315.43 243.11 317.00 243.16C318.56 243.21 320.13 243.28 321.69 243.36C323.26 243.44 324.83 243.54 326.39 243.65C327.96 243.76 329.52 243.88 331.09 244.01C332.66 244.15 334.22 244.30 335.79 244.46C337.35 244.63 338.92 244.80 340.49 244.99C342.05 245.18 343.62 245.39 345.18 245.61C346.75 245.83 348.32 246.06 349.88 246.30C351.45 246.55 353.01 246.81 354.58 247.08C356.15 247.35 357.71 247.64 359.28 247.94C360.84 248.24 362.41 248.55 363.98 248.88C365.54 249.21 367.11 249.55 368.67 249.90C370.24 250.26 371.81 250.63 373.37 251.01C374.94 251.39 376.50 251.79 378.07 252.20C379.64 252.61 381.20 253.03 382.77 253.47C384.33 253.90 385.90 254.36 387.47 254.82C389.03 255.28 390.60 255.76 392.16 256.25C393.73 256.75 395.30 257.25 396.86 257.77C398.43 258.29 399.99 258.82 401.56 259.37C403.13 259.91 404.69 260.47 406.26 261.05C407.82 261.62 409.39 262.21 410.96 262.81C412.52 263.41 414.09 264.03 415.65 264.65C417.22 265.28 418.79 265.93 420.35 266.58C421.92 267.24 423.48 267.91 425.05 268.59C426.62 269.27 428.18 269.97 429.75 270.68C431.31 271.39 432.88 272.12 434.45 272.85C436.01 273.58 437.58 274.33 439.14 275.06C440.71 275.80 442.28 276.53 443.84 277.27C445.41 278.01 446.97 278.74 448.54 279.48C450.11 280.21 451.67 280.95 453.24 281.69C454.80 282.42 456.37 283.16 457.94 283.89C459.50 284.63 461.07 285.37 462.63 286.10C464.20 286.84 465.77 287.57 467.33 288.31C468.90 289.05 470.46 289.78 472.03 290.52C473.60 291.25 475.16 291.99 476.73 292.73C478.29 293.46 479.86 294.20 481.43 294.93C482.99 295.67 484.56 296.41 486.12 297.14C487.69 297.88 489.26 298.61 490.82 299.35C492.39 300.09 493.95 300.82 495.52 301.56C497.09 302.29 498.65 303.03 500.22 303.77C501.78 304.50 503.35 305.24 504.92 305.97C506.48 306.71 508.05 307.45 509.61 308.18C511.18 308.92 512.75 309.65 514.31 310.39C515.88 311.13 517.44 311.86 519.01 312.60C520.58 313.33 522.14 314.07 523.71 314.81C525.27 315.54 526.84 316.28 528.41 317.01C529.97 317.75 531.54 318.49 533.10 319.22C534.67 319.96 536.24 320.69 537.80 321.43C539.37 322.17 541.72 323.27 542.50 323.64" stroke-width="0.6" stroke-opacity="1.0"/>
<path d="M307.60 243.00C308.38 243.20 310.73 243.81 312.30 244.23C313.86 244.65 315.43 245.07 317.00 245.51C318.56 245.95 320.13 246.39 321.69 246.85C323.26 247.30 324.83 247.77 326.39 248.24C327.96 248.72 329.52 249.20 331.09 249.69C332.66 250.18 334.22 250.68 335.79 251.19C337.35 251.70 338.92 252.22 340.49 252.75C342.05 253.28 343.62 253.82 345.18 254.37C346.75 254.91 348.32 255.47 349.88 256.04C351.45 256.60 353.01 257.18 354.58 257.76C356.15 258.34 357.71 258.94 359.28 259.54C360.84 260.14 362.41 260.75 363.98 261.37C365.54 262.00 367.11 262.63 368.67 263.26C370.24 263.90 371.81 264.55 373.37 265.21C374.94 265.87 376.50 266.53 378.07 267.21C379.64 267.89 381.20 268.57 382.77 269.27C384.33 269.96 385.90 270.66 387.47 271.38C389.03 272.09 390.60 272.81 392.16 273.54C393.73 274.27 395.30 275.01 396.86 275.76C398.43 276.51 399.99 277.27 401.56 278.04C403.13 278.81 404.69 279.59 406.26 280.37C407.82 281.16 409.39 281.95 410.96 282.76C412.52 283.56 414.09 284.38 415.65 285.20C417.22 286.02 418.79 286.86 420.35 287.70C421.92 288.54 423.48 289.39 425.05 290.25C426.62 291.11 428.18 291.98 429.75 292.86C431.31 293.74 432.88 294.62 434.45 295.52C436.01 296.42 437.58 297.32 439.14 298.24C440.71 299.15 442.28 300.08 443.84 301.01C445.41 301.95 446.97 302.89 448.54 303.84C450.11 304.79 451.67 305.75 453.24 306.72C454.80 307.69 456.37 308.67 457.94 309.66C459.50 310.65 461.07 311.65 462.63 312.66C464.20 313.66 465.77 314.68 467.33 315.71C468.90 316.73 470.46 317.77 472.03 318.81C473.60 319.85 475.16 320.89 476.73 321.93C478.29 322.97 479.86 324.01 481.43 325.05C482.99 326.09 484.56 327.13 486.12 328.17C487.69 329.21 489.26 330.25 490.82 331.29C492.39 332.33 493.95 333.37 495.52 334.41C497.09 335.45 498.65 336.49 500.22 337.53C501.78 338.57 503.35 339.61 504.92 340.65C506.48 341.69 508.05 342.73 509.61 343.77C511.18 344.81 512.75 345.85 514.31 346.89C515.88 347.93 517.44 348.97 519.01 350.01C520.58 351.05 522.14 352.09 523.71 353.13C525.27 354.17 526.84 355.21 528.41 356.25C529.97 357.29 531.54 358.33 533.10 359.37C534.67 360.41 536.24 361.45 537.80 362.49C539.37 363.53 541.72 365.09 542.50 365.61" stroke-width="0.6" stroke-opacity="1.0"/>
<path d="M307.60 219.00C308.38 218.86 310.73 218.42 312.30 218.15C313.86 217.87 315.43 217.61 317.00 217.35C318.56 217.10 320.13 216.85 321.69 216.61C323.26 216.38 324.83 216.15 326.39 215.93C327.96 215.71 329.52 215.50 331.09 215.30C332.66 215.10 334.22 214.92 335.79 214.73C337.35 214.55 338.92 214.38 340.49 214.22C342.05 214.06 343.62 213.91 345.18 213.77C346.75 213.62 348.32 213.49 349.88 213.37C351.45 213.24 353.01 213.13 354.58 213.02C356.15 212.92 357.71 212.82 359.28 212.74C360.84 212.65 362.41 212.58 363.98 212.51C365.54 212.44 367.11 212.38 368.67 212.34C370.24 212.29 371.81 212.25 373.37 212.22C374.94 212.19 376.50 212.17 378.07 212.16C379.64 212.15 381.20 212.15 382.77 212.16C384.33 212.17 385.90 212.18 387.47 212.21C389.03 212.24 390.60 212.28 392.16 212.32C393.73 212.37 395.30 212.42 396.86 212.49C398.43 212.55 399.99 212.63 401.56 212.71C403.13 212.80 404.69 212.89 406.26 212.99C407.82 213.10 409.39 213.21 410.96 213.33C412.52 213.45 414.09 213.58 415.65 213.72C417.22 213.86 418.79 214.01 420.35 214.17C421.92 214.33 423.48 214.50 425.05 214.68C426.62 214.86 428.18 215.05 429.75 215.24C431.31 215.44 432.88 215.65 434.45 215.86C436.01 216.08 437.58 216.31 439.14 216.54C440.71 216.78 442.28 217.02 443.84 217.27C445.41 217.53 446.97 217.79 448.54 218.06C450.11 218.34 451.67 218.62 453.24 218.91C454.80 219.20 456.37 219.50 457.94 219.81C459.50 220.12 461.07 220.44 462.63 220.77C464.20 221.10 465.77 221.44 467.33 221.79C468.90 222.14 470.46 222.50 472.03 222.86C473.60 223.23 475.16 223.61 476.73 223.99C478.29 224.38 479.86 224.78 481.43 225.18C482.99 225.59 484.56 226.00 486.12 226.42C487.69 226.85 489.26 227.28 490.82 227.72C492.39 228.17 493.95 228.62 495.52 229.08C497.09 229.54 498.65 230.01 500.22 230.49C501.78 230.97 503.35 231.46 504.92 231.96C506.48 232.46 508.05 232.97 509.61 233.49C511.18 234.01 512.75 234.54 514.31 235.07C515.88 235.61 517.44 236.16 519.01 236.71C520.58 237.27 522.14 237.83 523.71 238.41C525.27 238.98 526.84 239.57 528.41 240.16C529.97 240.76 531.54 241.36 533.10 241.97C534.67 242.58 536.24 243.21 537.80 243.84C539.37 244.47 541.72 245.43 542.50 245.75" stroke-width="0.6" stroke-opacity="1.0"/>
<path d="M307.60 219.00C308.38 218.95 310.73 218.78 312.30 218.69C313.86 218.60 315.43 218.53 317.00 218.46C318.56 218.40 320.13 218.35 321.69 218.31C323.26 218.27 324.83 218.24 326.39 218.23C327.96 218.22 329.52 218.22 331.09 218.23C332.66 218.24 334.22 218.27 335.79 218.31C337.35 218.35 338.92 218.40 340.49 218.46C342.05 218.53 343.62 218.60 345.18 218.69C346.75 218.78 348.32 218.88 349.88 219.00C351.45 219.12 353.01 219.24 354.58 219.38C356.15 219.52 357.71 219.68 359.28 219.84C360.84 220.01 362.41 220.19 363.98 220.38C365.54 220.57 367.11 220.78 368.67 221.00C370.24 221.21 371.81 221.44 373.37 221.69C374.94 221.93 376.50 222.19 378.07 222.46C379.64 222.72 381.20 223.01 382.77 223.30C384.33 223.60 385.90 223.90 387.47 224.22C389.03 224.54 390.60 224.88 392.16 225.22C393.73 225.57 395.30 225.92 396.86 226.30C398.43 226.67 399.99 227.05 401.56 227.45C403.13 227.84 404.69 228.25 406.26 228.68C407.82 229.10 409.39 229.53 410.96 229.98C412.52 230.43 414.09 230.89 415.65 231.36C417.22 231.84 418.79 232.32 420.35 232.82C421.92 233.32 423.48 233.84 425.05 234.36C426.62 234.88 428.18 235.42 429.75 235.97C431.31 236.52 432.88 237.09 434.45 237.66C436.01 238.24 437.58 238.83 439.14 239.43C440.71 240.03 442.28 240.64 443.84 241.25C445.41 241.86 446.97 242.47 448.54 243.07C450.11 243.68 451.67 244.29 453.24 244.90C454.80 245.51 456.37 246.11 457.94 246.72C459.50 247.33 461.07 247.94 462.63 248.55C464.20 249.15 465.77 249.76 467.33 250.37C468.90 250.98 470.46 251.59 472.03 252.19C473.60 252.80 475.16 253.41 476.73 254.02C478.29 254.63 479.86 255.23 481.43 255.84C482.99 256.45 484.56 257.06 486.12 257.67C487.69 258.27 489.26 258.88 490.82 259.49C492.39 260.10 493.95 260.71 495.52 261.31C497.09 261.92 498.65 262.53 500.22 263.14C501.78 263.75 503.35 264.35 504.92 264.96C506.48 265.57 508.05 266.18 509.61 266.79C511.18 267.39 512.75 268.00 514.31 268.61C515.88 269.22 517.44 269.83 519.01 270.43C520.58 271.04 522.14 271.65 523.71 272.26C525.27 272.87 526.84 273.47 528.41 274.08C529.97 274.69 531.54 275.30 533.10 275.91C534.67 276.51 536.24 277.12 537.80 277.73C539.37 278.34 541.72 279.25 542.50 279.55" stroke-width="0.6" stroke-opacity="1.0"/>
<path d="M307.60 219.00C308.38 219.18 310.73 219.70 312.30 220.06C313.86 220.41 315.43 220.77 317.00 221.13C318.56 221.49 320.13 221.86 321.69 222.22C323.26 222.59 324.83 222.95 326.39 223.32C327.96 223.69 329.52 224.07 331.09 224.44C332.66 224.82 334.22 225.19 335.79 225.58C337.35 225.96 338.92 226.34 340.49 226.72C342.05 227.11 343.62 227.50 345.18 227.89C346.75 228.28 348.32 228.67 349.88 229.06C351.45 229.46 353.01 229.86 354.58 230.26C356.15 230.66 357.71 231.06 359.28 231.46C360.84 231.87 362.41 232.28 363.98 232.69C365.54 233.10 367.11 233.51 368.67 233.92C370.24 234.34 371.81 234.76 373.37 235.18C374.94 235.59 376.50 236.02 378.07 236.44C379.64 236.87 381.20 237.29 382.77 237.72C384.33 238.15 385.90 238.59 387.47 239.02C389.03 239.46 390.60 239.89 392.16 240.33C393.73 240.77 395.30 241.21 396.86 241.66C398.43 242.10 399.99 242.55 401.56 243.00C403.13 243.45 404.69 243.90 406.26 244.36C407.82 244.81 409.39 245.27 410.96 245.73C412.52 246.19 414.09 246.65 415.65 247.11C417.22 247.58 418.79 248.04 420.35 248.51C421.92 248.98 423.48 249.46 425.05 249.93C426.62 250.40 428.18 250.88 429.75 251.36C431.31 251.84 432.88 252.32 434.45 252.81C436.01 253.29 437.58 253.78 439.14 254.27C440.71 254.76 442.28 255.25 443.84 255.74C445.41 256.24 446.97 256.73 448.54 257.23C450.11 257.73 451.67 258.23 453.24 258.74C454.80 259.24 456.37 259.75 457.94 260.26C459.50 260.77 461.07 261.28 462.63 261.79C464.20 262.31 465.77 262.82 467.33 263.34C468.90 263.86 470.46 264.38 472.03 264.91C473.60 265.43 475.16 265.96 476.73 266.49C478.29 267.01 479.86 267.55 481.43 268.08C482.99 268.61 484.56 269.15 486.12 269.69C487.69 270.23 489.26 270.77 490.82 271.31C492.39 271.86 493.95 272.40 495.52 272.95C497.09 273.50 498.65 274.05 500.22 274.61C501.78 275.16 503.35 275.72 504.92 276.27C506.48 276.83 508.05 277.39 509.61 277.96C511.18 278.52 512.75 279.09 514.31 279.66C515.88 280.23 517.44 280.80 519.01 281.37C520.58 281.94 522.14 282.52 523.71 283.10C525.27 283.68 526.84 284.26 528.41 284.84C529.97 285.42 531.54 286.01 533.10 286.60C534.67 287.19 536.24 287.78 537.80 288.37C539.37 288.97 541.72 289.86 542.50 290.16" stroke-width="0.6" stroke-opacity="1.0"/>
<path d="M307.60 195.00C308.38 194.77 310.73 194.07 312.30 193.63C313.86 193.19 315.43 192.77 317.00 192.36C318.56 191.95 320.13 191.56 321.69 191.19C323.26 190.81 324.83 190.46 326.39 190.12C327.96 189.77 329.52 189.45 331.09 189.14C332.66 188.83 334.22 188.54 335.79 188.26C337.35 187.99 338.92 187.73 340.49 187.49C342.05 187.24 343.62 187.02 345.18 186.81C346.75 186.60 348.32 186.40 349.88 186.23C351.45 186.05 353.01 185.89 354.58 185.74C356.15 185.60 357.71 185.47 359.28 185.36C360.84 185.25 362.41 185.15 363.98 185.07C365.54 185.00 367.11 184.93 368.67 184.89C370.24 184.84 371.81 184.81 373.37 184.80C374.94 184.79 376.50 184.79 378.07 184.81C379.64 184.83 381.20 184.86 382.77 184.92C384.33 184.97 385.90 185.04 387.47 185.12C389.03 185.21 390.60 185.31 392.16 185.43C393.73 185.55 395.30 185.68 396.86 185.83C398.43 185.98 399.99 186.15 401.56 186.34C403.13 186.52 404.69 186.72 406.26 186.94C407.82 187.15 409.39 187.38 410.96 187.63C412.52 187.88 414.09 188.15 415.65 188.43C417.22 188.71 418.79 189.01 420.35 189.33C421.92 189.64 423.48 189.97 425.05 190.32C426.62 190.67 428.18 191.03 429.75 191.41C431.31 191.79 432.88 192.19 434.45 192.60C436.01 193.02 437.58 193.44 439.14 193.89C440.71 194.34 442.28 194.80 443.84 195.28C445.41 195.76 446.97 196.25 448.54 196.76C450.11 197.27 451.67 197.80 453.24 198.35C454.80 198.89 456.37 199.45 457.94 200.03C459.50 200.60 461.07 201.20 462.63 201.81C464.20 202.42 465.77 203.04 467.33 203.69C468.90 204.33 470.46 204.99 472.03 205.66C473.60 206.34 475.16 207.03 476.73 207.74C478.29 208.44 479.86 209.17 481.43 209.91C482.99 210.65 484.56 211.41 486.12 212.18C487.69 212.95 489.26 213.74 490.82 214.55C492.39 215.35 493.95 216.18 495.52 217.01C497.09 217.85 498.65 218.71 500.22 219.58C501.78 220.45 503.35 221.34 504.92 222.24C506.48 223.15 508.05 224.07 509.61 225.00C511.18 225.94 512.75 226.89 514.31 227.86C515.88 228.83 517.44 229.82 519.01 230.82C520.58 231.82 522.14 232.84 523.71 233.88C525.27 234.91 526.84 235.96 528.41 237.03C529.97 238.10 531.54 239.18 533.10 240.28C534.67 241.38 536.24 242.50 537.80 243.63C539.37 244.77 541.72 246.51 542.50 247.08" stroke-width="0.6" stroke-opacity="1.0"/>
<path d="M307.60 195.00C308.38 194.79 310.73 194.11 312.30 193.71C313.86 193.31 315.43 192.93 317.00 192.58C318.56 192.23 320.13 191.91 321.69 191.61C323.26 191.31 324.83 191.04 326.39 190.79C327.96 190.54 329.52 190.31 331.09 190.11C332.66 189.91 334.22 189.73 335.79 189.57C337.35 189.42 338.92 189.28 340.49 189.17C342.05 189.06 343.62 188.97 345.18 188.90C346.75 188.83 348.32 188.78 349.88 188.75C351.45 188.72 353.01 188.71 354.58 188.72C356.15 188.73 357.71 188.76 359.28 188.81C360.84 188.86 362.41 188.92 363.98 189.01C365.54 189.09 367.11 189.19 368.67 189.31C370.24 189.43 371.81 189.56 373.37 189.71C374.94 189.86 376.50 190.03 378.07 190.21C379.64 190.39 381.20 190.59 382.77 190.80C384.33 191.01 385.90 191.23 387.47 191.47C389.03 191.71 390.60 191.96 392.16 192.22C393.73 192.49 395.30 192.76 396.86 193.05C398.43 193.34 399.99 193.64 401.56 193.95C403.13 194.26 404.69 194.58 406.26 194.91C407.82 195.24 409.39 195.59 410.96 195.94C412.52 196.29 414.09 196.65 415.65 197.01C417.22 197.38 418.79 197.76 420.35 198.14C421.92 198.52 423.48 198.92 425.05 199.31C426.62 199.71 428.18 200.12 429.75 200.53C431.31 200.94 432.88 201.35 434.45 201.77C436.01 202.19 437.58 202.62 439.14 203.05C440.71 203.48 442.28 203.92 443.84 204.35C445.41 204.79 446.97 205.23 448.54 205.68C450.11 206.12 451.67 206.57 453.24 207.01C454.80 207.46 456.37 207.91 457.94 208.36C459.50 208.81 461.07 209.26 462.63 209.71C464.20 210.16 465.77 210.61 467.33 211.06C468.90 211.51 470.46 211.96 472.03 212.41C473.60 212.86 475.16 213.30 476.73 213.75C478.29 214.19 479.86 214.63 481.43 215.07C482.99 215.51 484.56 215.94 486.12 216.37C487.69 216.80 489.26 217.23 490.82 217.65C492.39 218.07 493.95 218.48 495.52 218.89C497.09 219.30 498.65 219.71 500.22 220.10C501.78 220.50 503.35 220.89 504.92 221.27C506.48 221.66 508.05 222.03 509.61 222.40C511.18 222.77 512.75 223.13 514.31 223.48C515.88 223.82 517.44 224.17 519.01 224.50C520.58 224.83 522.14 225.15 523.71 225.46C525.27 225.76 526.84 226.06 528.41 226.35C529.97 226.64 531.54 226.91 533.10 227.18C534.67 227.44 536.24 227.69 537.80 227.92C539.37 228.16 541.72 228.48 542.50 228.59" stroke-width="0.6" stroke-opacity="1.0"/>
<path d="M307.60 195.00C308.38 194.84 310.73 194.34 312.30 194.05C313.86 193.76 315.43 193.49 317.00 193.24C318.56 192.99 320.13 192.77 321.69 192.56C323.26 192.36 324.83 192.18 326.39 192.02C327.96 191.85 329.52 191.71 331.09 191.59C332.66 191.47 334.22 191.38 335.79 191.29C337.35 191.21 338.92 191.15 340.49 191.11C342.05 191.07 343.62 191.05 345.18 191.04C346.75 191.04 348.32 191.05 349.88 191.08C351.45 191.11 353.01 191.16 354.58 191.22C356.15 191.28 357.71 191.36 359.28 191.46C360.84 191.55 362.41 191.67 363.98 191.79C365.54 191.92 367.11 192.06 368.67 192.21C370.24 192.37 371.81 192.54 373.37 192.72C374.94 192.91 376.50 193.10 378.07 193.31C379.64 193.52 381.20 193.74 382.77 193.98C384.33 194.21 385.90 194.46 387.47 194.72C389.03 194.97 390.60 195.24 392.16 195.52C393.73 195.80 395.30 196.09 396.86 196.39C398.43 196.69 399.99 197.00 401.56 197.31C403.13 197.63 404.69 197.96 406.26 198.29C407.82 198.63 409.39 198.97 410.96 199.32C412.52 199.67 414.09 200.03 415.65 200.40C417.22 200.76 418.79 201.13 420.35 201.51C421.92 201.89 423.48 202.27 425.05 202.66C426.62 203.05 428.18 203.45 429.75 203.84C431.31 204.24 432.88 204.65 434.45 205.05C436.01 205.46 437.58 205.87 439.14 206.29C440.71 206.70 442.28 207.12 443.84 207.54C445.41 207.95 446.97 208.38 448.54 208.80C450.11 209.22 451.67 209.65 453.24 210.07C454.80 210.50 456.37 210.92 457.94 211.35C459.50 211.77 461.07 212.20 462.63 212.62C464.20 213.05 465.77 213.47 467.33 213.90C468.90 214.32 470.46 214.74 472.03 215.16C473.60 215.58 475.16 216.00 476.73 216.41C478.29 216.83 479.86 217.24 481.43 217.64C482.99 218.05 484.56 218.45 486.12 218.85C487.69 219.25 489.26 219.65 490.82 220.04C492.39 220.43 493.95 220.81 495.52 221.19C497.09 221.57 498.65 221.94 500.22 222.30C501.78 222.67 503.35 223.03 504.92 223.38C506.48 223.73 508.05 224.08 509.61 224.41C511.18 224.75 512.75 225.08 514.31 225.39C515.88 225.71 517.44 226.02 519.01 226.32C520.58 226.62 522.14 226.91 523.71 227.19C525.27 227.47 526.84 227.74 528.41 228.00C529.97 228.26 531.54 228.50 533.10 228.74C534.67 228.97 536.24 229.20 537.80 229.41C539.37 229.62 541.72 229.90 542.50 230.00" stroke-width="0.6" stroke-opacity="1.0"/>
<path d="M307.60 195.00C308.38 194.94 310.73 194.73 312.30 194.62C313.86 194.51 315.43 194.41 317.00 194.33C318.56 194.24 320.13 194.17 321.69 194.12C323.26 194.06 324.83 194.02 326.39 193.99C327.96 193.96 329.52 193.94 331.09 193.94C332.66 193.93 334.22 193.94 335.79 193.96C337.35 193.98 338.92 194.02 340.49 194.06C342.05 194.11 343.62 194.16 345.18 194.23C346.75 194.30 348.32 194.38 349.88 194.47C351.45 194.56 353.01 194.66 354.58 194.77C356.15 194.88 357.71 195.01 359.28 195.14C360.84 195.27 362.41 195.42 363.98 195.57C365.54 195.72 367.11 195.89 368.67 196.06C370.24 196.23 371.81 196.41 373.37 196.61C374.94 196.80 376.50 197.00 378.07 197.21C379.64 197.41 381.20 197.63 382.77 197.86C384.33 198.08 385.90 198.32 387.47 198.56C389.03 198.80 390.60 199.05 392.16 199.31C393.73 199.57 395.30 199.83 396.86 200.11C398.43 200.38 399.99 200.66 401.56 200.94C403.13 201.23 404.69 201.52 406.26 201.82C407.82 202.12 409.39 202.42 410.96 202.74C412.52 203.05 414.09 203.36 415.65 203.69C417.22 204.01 418.79 204.34 420.35 204.67C421.92 205.00 423.48 205.34 425.05 205.68C426.62 206.03 428.18 206.38 429.75 206.73C431.31 207.08 432.88 207.44 434.45 207.80C436.01 208.16 437.58 208.52 439.14 208.89C440.71 209.26 442.28 209.63 443.84 210.00C445.41 210.38 446.97 210.75 448.54 211.14C450.11 211.52 451.67 211.90 453.24 212.28C454.80 212.67 456.37 213.06 457.94 213.45C459.50 213.84 461.07 214.23 462.63 214.62C464.20 215.02 465.77 215.41 467.33 215.81C468.90 216.20 470.46 216.60 472.03 217.00C473.60 217.40 475.16 217.79 476.73 218.19C478.29 218.59 479.86 218.99 481.43 219.39C482.99 219.79 484.56 220.19 486.12 220.59C487.69 220.99 489.26 221.39 490.82 221.78C492.39 222.18 493.95 222.58 495.52 222.97C497.09 223.37 498.65 223.76 500.22 224.16C501.78 224.55 503.35 224.94 504.92 225.33C506.48 225.72 508.05 226.11 509.61 226.49C511.18 226.88 512.75 227.26 514.31 227.64C515.88 228.02 517.44 228.40 519.01 228.77C520.58 229.14 522.14 229.51 523.71 229.88C525.27 230.25 526.84 230.61 528.41 230.97C529.97 231.33 531.54 231.68 533.10 232.03C534.67 232.39 536.24 232.73 537.80 233.07C539.37 233.42 541.72 233.92 542.50 234.08" stroke-width="0.6" stroke-opacity="1.0"/>
<path d="M307.60 195.00C308.38 195.01 310.73 195.01 312.30 195.04C313.86 195.06 315.43 195.10 317.00 195.15C318.56 195.20 320.13 195.26 321.69 195.33C323.26 195.40 324.83 195.48 326.39 195.57C327.96 195.66 329.52 195.77 331.09 195.88C332.66 195.99 334.22 196.12 335.79 196.25C337.35 196.39 338.92 196.53 340.49 196.68C342.05 196.84 343.62 197.00 345.18 197.17C346.75 197.35 348.32 197.53 349.88 197.72C351.45 197.91 353.01 198.11 354.58 198.32C356.15 198.53 357.71 198.75 359.28 198.98C360.84 199.21 362.41 199.44 363.98 199.68C365.54 199.93 367.11 200.18 368.67 200.44C370.24 200.70 371.81 200.96 373.37 201.24C374.94 201.51 376.50 201.79 378.07 202.08C379.64 202.37 381.20 202.67 382.77 202.97C384.33 203.27 385.90 203.58 387.47 203.89C389.03 204.21 390.60 204.53 392.16 204.86C393.73 205.19 395.30 205.52 396.86 205.86C398.43 206.20 399.99 206.55 401.56 206.90C403.13 207.25 404.69 207.60 406.26 207.96C407.82 208.32 409.39 208.69 410.96 209.06C412.52 209.43 414.09 209.81 415.65 210.19C417.22 210.57 418.79 210.95 420.35 211.34C421.92 211.73 423.48 212.12 425.05 212.52C426.62 212.91 428.18 213.31 429.75 213.71C431.31 214.12 432.88 214.52 434.45 214.93C436.01 215.34 437.58 215.75 439.14 216.17C440.71 216.58 442.28 217.00 443.84 217.42C445.41 217.84 446.97 218.26 448.54 218.69C450.11 219.11 451.67 219.54 453.24 219.97C454.80 220.39 456.37 220.82 457.94 221.25C459.50 221.68 461.07 222.12 462.63 222.55C464.20 222.98 465.77 223.42 467.33 223.85C468.90 224.28 470.46 224.72 472.03 225.16C473.60 225.59 475.16 226.03 476.73 226.46C478.29 226.90 479.86 227.33 481.43 227.77C482.99 228.20 484.56 228.64 486.12 229.07C487.69 229.51 489.26 229.94 490.82 230.37C492.39 230.81 493.95 231.24 495.52 231.67C497.09 232.10 498.65 232.53 500.22 232.95C501.78 233.38 503.35 233.81 504.92 234.23C506.48 234.65 508.05 235.07 509.61 235.49C511.18 235.91 512.75 236.33 514.31 236.74C515.88 237.15 517.44 237.56 519.01 237.97C520.58 238.38 522.14 238.78 523.71 239.18C525.27 239.58 526.84 239.98 528.41 240.38C529.97 240.77 531.54 241.16 533.10 241.55C534.67 241.93 536.24 242.31 537.80 242.69C539.37 243.07 541.72 243.62 542.50 243.81" stroke-width="0.6" stroke-opacity="1.0"/>
<path d="M307.60 195.00C308.38 195.01 310.73 195.03 312.30 195.06C313.86 195.10 315.43 195.16 317.00 195.23C318.56 195.30 320.13 195.39 321.69 195.49C323.26 195.60 324.83 195.72 326.39 195.85C327.96 195.99 329.52 196.14 331.09 196.30C332.66 196.46 334.22 196.64 335.79 196.83C337.35 197.02 338.92 197.23 340.49 197.45C342.05 197.67 343.62 197.90 345.18 198.14C346.75 198.38 348.32 198.64 349.88 198.91C351.45 199.18 353.01 199.46 354.58 199.75C356.15 200.04 357.71 200.34 359.28 200.65C360.84 200.97 362.41 201.29 363.98 201.62C365.54 201.95 367.11 202.30 368.67 202.65C370.24 203.00 371.81 203.36 373.37 203.73C374.94 204.10 376.50 204.48 378.07 204.87C379.64 205.25 381.20 205.65 382.77 206.05C384.33 206.45 385.90 206.86 387.47 207.27C389.03 207.69 390.60 208.11 392.16 208.54C393.73 208.97 395.30 209.40 396.86 209.84C398.43 210.28 399.99 210.72 401.56 211.17C403.13 211.62 404.69 212.08 406.26 212.53C407.82 212.99 409.39 213.45 410.96 213.92C412.52 214.38 414.09 214.85 415.65 215.33C417.22 215.80 418.79 216.27 420.35 216.75C421.92 217.22 423.48 217.70 425.05 218.18C426.62 218.66 428.18 219.15 429.75 219.63C431.31 220.11 432.88 220.59 434.45 221.08C436.01 221.56 437.58 222.04 439.14 222.53C440.71 223.01 442.28 223.49 443.84 223.98C445.41 224.46 446.97 224.94 448.54 225.42C450.11 225.90 451.67 226.37 453.24 226.85C454.80 227.32 456.37 227.80 457.94 228.27C459.50 228.74 461.07 229.20 462.63 229.67C464.20 230.13 465.77 230.59 467.33 231.04C468.90 231.50 470.46 231.95 472.03 232.39C473.60 232.84 475.16 233.28 476.73 233.72C478.29 234.15 479.86 234.58 481.43 235.00C482.99 235.43 484.56 235.85 486.12 236.26C487.69 236.67 489.26 237.07 490.82 237.47C492.39 237.86 493.95 238.25 495.52 238.63C497.09 239.01 498.65 239.38 500.22 239.75C501.78 240.11 503.35 240.46 504.92 240.81C506.48 241.15 508.05 241.49 509.61 241.82C511.18 242.14 512.75 242.46 514.31 242.76C515.88 243.07 517.44 243.36 519.01 243.64C520.58 243.93 522.14 244.20 523.71 244.46C525.27 244.72 526.84 244.96 528.41 245.20C529.97 245.43 531.54 245.66 533.10 245.87C534.67 246.07 536.24 246.27 537.80 246.45C539.37 246.63 541.72 246.87 542.50 246.95" stroke-width="0.6" stroke-opacity="1.0"/>
<path d="M307.60 195.00C308.38 195.08 310.73 195.31 312.30 195.49C313.86 195.66 315.43 195.85 317.00 196.05C318.56 196.25 320.13 196.46 321.69 196.69C323.26 196.91 324.83 197.15 326.39 197.39C327.96 197.64 329.52 197.90 331.09 198.17C332.66 198.44 334.22 198.72 335.79 199.02C337.35 199.31 338.92 199.61 340.49 199.92C342.05 200.24 343.62 200.56 345.18 200.89C346.75 201.22 348.32 201.56 349.88 201.91C351.45 202.27 353.01 202.63 354.58 202.99C356.15 203.36 357.71 203.74 359.28 204.12C360.84 204.51 362.41 204.90 363.98 205.30C365.54 205.70 367.11 206.11 368.67 206.53C370.24 206.94 371.81 207.37 373.37 207.80C374.94 208.23 376.50 208.66 378.07 209.11C379.64 209.55 381.20 210.00 382.77 210.45C384.33 210.91 385.90 211.37 387.47 211.83C389.03 212.30 390.60 212.77 392.16 213.24C393.73 213.72 395.30 214.20 396.86 214.68C398.43 215.17 399.99 215.66 401.56 216.15C403.13 216.64 404.69 217.14 406.26 217.64C407.82 218.14 409.39 218.64 410.96 219.15C412.52 219.66 414.09 220.17 415.65 220.68C417.22 221.19 418.79 221.70 420.35 222.22C421.92 222.74 423.48 223.25 425.05 223.77C426.62 224.29 428.18 224.81 429.75 225.34C431.31 225.86 432.88 226.38 434.45 226.90C436.01 227.43 437.58 227.95 439.14 228.47C440.71 229.00 442.28 229.52 443.84 230.05C445.41 230.57 446.97 231.09 448.54 231.61C450.11 232.14 451.67 232.66 453.24 233.18C454.80 233.70 456.37 234.22 457.94 234.73C459.50 235.25 461.07 235.76 462.63 236.28C464.20 236.79 465.77 237.30 467.33 237.81C468.90 238.31 470.46 238.82 472.03 239.32C473.60 239.82 475.16 240.32 476.73 240.81C478.29 241.31 479.86 241.80 481.43 242.28C482.99 242.77 484.56 243.25 486.12 243.73C487.69 244.20 489.26 244.68 490.82 245.14C492.39 245.61 493.95 246.07 495.52 246.53C497.09 246.99 498.65 247.44 500.22 247.88C501.78 248.32 503.35 248.76 504.92 249.19C506.48 249.63 508.05 250.05 509.61 250.47C511.18 250.89 512.75 251.30 514.31 251.70C515.88 252.10 517.44 252.50 519.01 252.89C520.58 253.27 522.14 253.65 523.71 254.02C525.27 254.40 526.84 254.76 528.41 255.11C529.97 255.46 531.54 255.81 533.10 256.14C534.67 256.48 536.24 256.80 537.80 257.12C539.37 257.44 541.72 257.88 542.50 258.04" stroke-width="0.6" stroke-opacity="1.0"/>
<path d="M307.60 195.00C308.38 195.11 310.73 195.41 312.30 195.64C313.86 195.87 315.43 196.11 317.00 196.36C318.56 196.61 320.13 196.88 321.69 197.16C323.26 197.44 324.83 197.73 326.39 198.03C327.96 198.33 329.52 198.65 331.09 198.97C332.66 199.30 334.22 199.64 335.79 199.98C337.35 200.33 338.92 200.69 340.49 201.06C342.05 201.43 343.62 201.81 345.18 202.20C346.75 202.59 348.32 202.99 349.88 203.40C351.45 203.81 353.01 204.22 354.58 204.65C356.15 205.08 357.71 205.52 359.28 205.96C360.84 206.40 362.41 206.86 363.98 207.32C365.54 207.78 367.11 208.25 368.67 208.72C370.24 209.20 371.81 209.68 373.37 210.17C374.94 210.66 376.50 211.16 378.07 211.67C379.64 212.17 381.20 212.68 382.77 213.20C384.33 213.71 385.90 214.23 387.47 214.76C389.03 215.29 390.60 215.82 392.16 216.36C393.73 216.90 395.30 217.44 396.86 217.99C398.43 218.53 399.99 219.09 401.56 219.64C403.13 220.20 404.69 220.76 406.26 221.32C407.82 221.88 409.39 222.45 410.96 223.02C412.52 223.58 414.09 224.16 415.65 224.73C417.22 225.31 418.79 225.88 420.35 226.46C421.92 227.04 423.48 227.62 425.05 228.20C426.62 228.78 428.18 229.37 429.75 229.95C431.31 230.54 432.88 231.12 434.45 231.71C436.01 232.29 437.58 232.88 439.14 233.47C440.71 234.05 442.28 234.64 443.84 235.22C445.41 235.81 446.97 236.40 448.54 236.98C450.11 237.56 451.67 238.15 453.24 238.73C454.80 239.31 456.37 239.89 457.94 240.47C459.50 241.04 461.07 241.62 462.63 242.19C464.20 242.77 465.77 243.34 467.33 243.90C468.90 244.47 470.46 245.04 472.03 245.60C473.60 246.16 475.16 246.71 476.73 247.27C478.29 247.82 479.86 248.37 481.43 248.91C482.99 249.46 484.56 250.00 486.12 250.53C487.69 251.07 489.26 251.60 490.82 252.12C492.39 252.65 493.95 253.17 495.52 253.68C497.09 254.19 498.65 254.70 500.22 255.20C501.78 255.70 503.35 256.20 504.92 256.68C506.48 257.17 508.05 257.65 509.61 258.12C511.18 258.59 512.75 259.06 514.31 259.51C515.88 259.97 517.44 260.42 519.01 260.86C520.58 261.30 522.14 261.73 523.71 262.15C525.27 262.58 526.84 262.99 528.41 263.39C529.97 263.80 531.54 264.19 533.10 264.58C534.67 264.96 536.24 265.34 537.80 265.70C539.37 266.06 541.72 266.58 542.50 266.76" stroke-width="0.6" stroke-opacity="1.0"/>
<path d="M307.60 171.00C308.38 170.96 310.73 170.85 312.30 170.77C313.86 170.70 315.43 170.62 317.00 170.54C318.56 170.47 320.13 170.39 321.69 170.31C323.26 170.23 324.83 170.15 326.39 170.08C327.96 170.00 329.52 169.92 331.09 169.85C332.66 169.77 334.22 169.69 335.79 169.62C337.35 169.54 338.92 169.47 340.49 169.40C342.05 169.33 343.62 169.25 345.18 169.19C346.75 169.12 348.32 169.05 349.88 168.99C351.45 168.92 353.01 168.86 354.58 168.80C356.15 168.74 357.71 168.68 359.28 168.62C360.84 168.57 362.41 168.52 363.98 168.47C365.54 168.42 367.11 168.37 368.67 168.33C370.24 168.29 371.81 168.25 373.37 168.22C374.94 168.18 376.50 168.15 378.07 168.13C379.64 168.10 381.20 168.08 382.77 168.06C384.33 168.04 385.90 168.03 387.47 168.02C389.03 168.02 390.60 168.01 392.16 168.02C393.73 168.02 395.30 168.03 396.86 168.04C398.43 168.06 399.99 168.08 401.56 168.10C403.13 168.13 404.69 168.16 406.26 168.20C407.82 168.24 409.39 168.28 410.96 168.34C412.52 168.39 414.09 168.45 415.65 168.51C417.22 168.58 418.79 168.65 420.35 168.73C421.92 168.81 423.48 168.90 425.05 169.00C426.62 169.09 428.18 169.20 429.75 169.31C431.31 169.42 432.88 169.54 434.45 169.67C436.01 169.80 437.58 169.94 439.14 170.09C440.71 170.23 442.28 170.39 443.84 170.55C445.41 170.72 446.97 170.89 448.54 171.08C450.11 171.26 451.67 171.46 453.24 171.66C454.80 171.87 456.37 172.08 457.94 172.30C459.50 172.53 461.07 172.76 462.63 173.01C464.20 173.26 465.77 173.51 467.33 173.78C468.90 174.05 470.46 174.33 472.03 174.62C473.60 174.91 475.16 175.21 476.73 175.52C478.29 175.84 479.86 176.16 481.43 176.50C482.99 176.84 484.56 177.19 486.12 177.55C487.69 177.92 489.26 178.29 490.82 178.68C492.39 179.07 493.95 179.47 495.52 179.89C497.09 180.30 498.65 180.73 500.22 181.17C501.78 181.61 503.35 182.07 504.92 182.54C506.48 183.01 508.05 183.49 509.61 183.99C511.18 184.49 512.75 185.00 514.31 185.53C515.88 186.05 517.44 186.59 519.01 187.15C520.58 187.71 522.14 188.28 523.71 188.87C525.27 189.46 526.84 190.06 528.41 190.68C529.97 191.30 531.54 191.93 533.10 192.58C534.67 193.23 536.24 193.90 537.80 194.58C539.37 195.27 541.72 196.34 542.50 196.69" stroke-width="0.6" stroke-opacity="1.0"/>
<path d="M307.60 171.00C308.38 170.94 310.73 170.75 312.30 170.63C313.86 170.52 315.43 170.41 317.00 170.30C318.56 170.20 320.13 170.10 321.69 170.02C323.26 169.93 324.83 169.84 326.39 169.77C327.96 169.69 329.52 169.62 331.09 169.56C332.66 169.50 334.22 169.44 335.79 169.39C337.35 169.35 338.92 169.30 340.49 169.27C342.05 169.23 343.62 169.20 345.18 169.18C346.75 169.16 348.32 169.14 349.88 169.13C351.45 169.12 353.01 169.12 354.58 169.13C356.15 169.13 357.71 169.14 359.28 169.16C360.84 169.18 362.41 169.20 363.98 169.23C365.54 169.26 367.11 169.30 368.67 169.34C370.24 169.39 371.81 169.44 373.37 169.50C374.94 169.55 376.50 169.62 378.07 169.69C379.64 169.76 381.20 169.83 382.77 169.92C384.33 170.00 385.90 170.09 387.47 170.19C389.03 170.28 390.60 170.39 392.16 170.50C393.73 170.60 395.30 170.72 396.86 170.84C398.43 170.97 399.99 171.09 401.56 171.23C403.13 171.37 404.69 171.51 406.26 171.66C407.82 171.80 409.39 171.96 410.96 172.12C412.52 172.28 414.09 172.45 415.65 172.63C417.22 172.80 418.79 172.98 420.35 173.17C421.92 173.35 423.48 173.55 425.05 173.75C426.62 173.95 428.18 174.16 429.75 174.37C431.31 174.58 432.88 174.80 434.45 175.03C436.01 175.25 437.58 175.48 439.14 175.72C440.71 175.96 442.28 176.21 443.84 176.46C445.41 176.71 446.97 176.97 448.54 177.23C450.11 177.50 451.67 177.77 453.24 178.04C454.80 178.32 456.37 178.60 457.94 178.89C459.50 179.18 461.07 179.48 462.63 179.78C464.20 180.08 465.77 180.39 467.33 180.71C468.90 181.02 470.46 181.34 472.03 181.67C473.60 182.00 475.16 182.33 476.73 182.67C478.29 183.01 479.86 183.36 481.43 183.71C482.99 184.06 484.56 184.42 486.12 184.79C487.69 185.15 489.26 185.52 490.82 185.90C492.39 186.28 493.95 186.66 495.52 187.05C497.09 187.44 498.65 187.84 500.22 188.24C501.78 188.64 503.35 189.05 504.92 189.47C506.48 189.88 508.05 190.30 509.61 190.73C511.18 191.16 512.75 191.59 514.31 192.03C515.88 192.47 517.44 192.92 519.01 193.37C520.58 193.82 522.14 194.28 523.71 194.74C525.27 195.21 526.84 195.68 528.41 196.15C529.97 196.63 531.54 197.11 533.10 197.60C534.67 198.09 536.24 198.59 537.80 199.09C539.37 199.59 541.72 200.36 542.50 200.61" stroke-width="0.6" stroke-opacity="1.0"/>
<path d="M307.60 171.00C308.38 170.95 310.73 170.81 312.30 170.72C313.86 170.64 315.43 170.56 317.00 170.49C318.56 170.41 320.13 170.35 321.69 170.29C323.26 170.23 324.83 170.18 326.39 170.14C327.96 170.09 329.52 170.06 331.09 170.02C332.66 169.99 334.22 169.97 335.79 169.95C337.35 169.93 338.92 169.92 340.49 169.92C342.05 169.92 343.62 169.92 345.18 169.93C346.75 169.94 348.32 169.95 349.88 169.98C351.45 170.00 353.01 170.03 354.58 170.06C356.15 170.10 357.71 170.14 359.28 170.19C360.84 170.24 362.41 170.30 363.98 170.36C365.54 170.42 367.11 170.49 368.67 170.56C370.24 170.64 371.81 170.72 373.37 170.81C374.94 170.89 376.50 170.99 378.07 171.09C379.64 171.19 381.20 171.30 382.77 171.41C384.33 171.52 385.90 171.64 387.47 171.77C389.03 171.89 390.60 172.02 392.16 172.16C393.73 172.30 395.30 172.44 396.86 172.59C398.43 172.74 399.99 172.90 401.56 173.06C403.13 173.22 404.69 173.39 406.26 173.57C407.82 173.74 409.39 173.92 410.96 174.11C412.52 174.30 414.09 174.49 415.65 174.69C417.22 174.89 418.79 175.09 420.35 175.30C421.92 175.51 423.48 175.73 425.05 175.95C426.62 176.17 428.18 176.40 429.75 176.64C431.31 176.87 432.88 177.11 434.45 177.36C436.01 177.60 437.58 177.85 439.14 178.11C440.71 178.37 442.28 178.63 443.84 178.90C445.41 179.17 446.97 179.44 448.54 179.72C450.11 180.00 451.67 180.29 453.24 180.58C454.80 180.87 456.37 181.17 457.94 181.47C459.50 181.77 461.07 182.08 462.63 182.40C464.20 182.71 465.77 183.03 467.33 183.35C468.90 183.68 470.46 184.01 472.03 184.34C473.60 184.68 475.16 185.02 476.73 185.37C478.29 185.71 479.86 186.07 481.43 186.42C482.99 186.78 484.56 187.14 486.12 187.51C487.69 187.88 489.26 188.25 490.82 188.63C492.39 189.01 493.95 189.39 495.52 189.78C497.09 190.17 498.65 190.56 500.22 190.96C501.78 191.36 503.35 191.77 504.92 192.18C506.48 192.59 508.05 193.00 509.61 193.42C511.18 193.84 512.75 194.27 514.31 194.70C515.88 195.13 517.44 195.56 519.01 196.00C520.58 196.44 522.14 196.89 523.71 197.34C525.27 197.78 526.84 198.24 528.41 198.70C529.97 199.16 531.54 199.62 533.10 200.09C534.67 200.56 536.24 201.04 537.80 201.52C539.37 202.00 541.72 202.73 542.50 202.97" stroke-width="0.6" stroke-opacity="1.0"/>
<path d="M307.60 171.00C308.38 170.95 310.73 170.78 312.30 170.69C313.86 170.60 315.43 170.52 317.00 170.46C318.56 170.39 320.13 170.33 321.69 170.29C323.26 170.25 324.83 170.21 326.39 170.19C327.96 170.17 329.52 170.16 331.09 170.16C332.66 170.16 334.22 170.17 335.79 170.19C337.35 170.21 338.92 170.24 340.49 170.29C342.05 170.33 343.62 170.38 345.18 170.44C346.75 170.50 348.32 170.57 349.88 170.65C351.45 170.73 353.01 170.82 354.58 170.92C356.15 171.02 357.71 171.13 359.28 171.25C360.84 171.36 362.41 171.49 363.98 171.62C365.54 171.76 367.11 171.90 368.67 172.05C370.24 172.20 371.81 172.36 373.37 172.52C374.94 172.69 376.50 172.86 378.07 173.05C379.64 173.23 381.20 173.42 382.77 173.61C384.33 173.81 385.90 174.01 387.47 174.22C389.03 174.43 390.60 174.65 392.16 174.87C393.73 175.10 395.30 175.33 396.86 175.56C398.43 175.80 399.99 176.04 401.56 176.29C403.13 176.54 404.69 176.79 406.26 177.05C407.82 177.31 409.39 177.57 410.96 177.84C412.52 178.12 414.09 178.39 415.65 178.67C417.22 178.95 418.79 179.24 420.35 179.53C421.92 179.82 423.48 180.11 425.05 180.41C426.62 180.71 428.18 181.01 429.75 181.32C431.31 181.62 432.88 181.93 434.45 182.25C436.01 182.56 437.58 182.88 439.14 183.20C440.71 183.52 442.28 183.85 443.84 184.17C445.41 184.50 446.97 184.83 448.54 185.16C450.11 185.50 451.67 185.83 453.24 186.17C454.80 186.51 456.37 186.85 457.94 187.19C459.50 187.53 461.07 187.88 462.63 188.22C464.20 188.57 465.77 188.92 467.33 189.26C468.90 189.61 470.46 189.96 472.03 190.31C473.60 190.67 475.16 191.02 476.73 191.37C478.29 191.72 479.86 192.08 481.43 192.43C482.99 192.78 484.56 193.14 486.12 193.49C487.69 193.85 489.26 194.20 490.82 194.56C492.39 194.91 493.95 195.26 495.52 195.62C497.09 195.97 498.65 196.32 500.22 196.67C501.78 197.03 503.35 197.38 504.92 197.73C506.48 198.07 508.05 198.42 509.61 198.77C511.18 199.12 512.75 199.46 514.31 199.81C515.88 200.15 517.44 200.49 519.01 200.83C520.58 201.17 522.14 201.50 523.71 201.84C525.27 202.17 526.84 202.51 528.41 202.83C529.97 203.16 531.54 203.49 533.10 203.81C534.67 204.14 536.24 204.46 537.80 204.77C539.37 205.09 541.72 205.55 542.50 205.71" stroke-width="0.6" stroke-opacity="1.0"/>
<path d="M307.60 171.00C308.38 170.94 310.73 170.76 312.30 170.66C313.86 170.57 315.43 170.49 317.00 170.43C318.56 170.37 320.13 170.32 321.69 170.29C323.26 170.26 324.83 170.25 326.39 170.25C327.96 170.25 329.52 170.27 331.09 170.30C332.66 170.33 334.22 170.38 335.79 170.43C337.35 170.49 338.92 170.57 340.49 170.65C342.05 170.74 343.62 170.84 345.18 170.95C346.75 171.07 348.32 171.19 349.88 171.33C351.45 171.47 353.01 171.62 354.58 171.78C356.15 171.94 357.71 172.12 359.28 172.30C360.84 172.48 362.41 172.68 363.98 172.88C365.54 173.09 367.11 173.31 368.67 173.53C370.24 173.76 371.81 173.99 373.37 174.24C374.94 174.48 376.50 174.74 378.07 175.00C379.64 175.26 381.20 175.53 382.77 175.81C384.33 176.09 385.90 176.38 387.47 176.67C389.03 176.97 390.60 177.27 392.16 177.58C393.73 177.89 395.30 178.21 396.86 178.53C398.43 178.85 399.99 179.18 401.56 179.51C403.13 179.85 404.69 180.18 406.26 180.53C407.82 180.87 409.39 181.22 410.96 181.58C412.52 181.93 414.09 182.29 415.65 182.65C417.22 183.01 418.79 183.38 420.35 183.75C421.92 184.12 423.48 184.49 425.05 184.87C426.62 185.24 428.18 185.62 429.75 186.00C431.31 186.38 432.88 186.76 434.45 187.15C436.01 187.53 437.58 187.92 439.14 188.30C440.71 188.69 442.28 189.08 443.84 189.46C445.41 189.85 446.97 190.24 448.54 190.63C450.11 191.01 451.67 191.40 453.24 191.79C454.80 192.17 456.37 192.56 457.94 192.94C459.50 193.32 461.07 193.71 462.63 194.09C464.20 194.47 465.77 194.84 467.33 195.22C468.90 195.59 470.46 195.97 472.03 196.34C473.60 196.70 475.16 197.07 476.73 197.43C478.29 197.80 479.86 198.15 481.43 198.51C482.99 198.86 484.56 199.21 486.12 199.55C487.69 199.90 489.26 200.24 490.82 200.57C492.39 200.91 493.95 201.23 495.52 201.55C497.09 201.88 498.65 202.19 500.22 202.50C501.78 202.81 503.35 203.11 504.92 203.40C506.48 203.70 508.05 203.99 509.61 204.26C511.18 204.54 512.75 204.81 514.31 205.08C515.88 205.34 517.44 205.59 519.01 205.84C520.58 206.08 522.14 206.32 523.71 206.54C525.27 206.77 526.84 206.98 528.41 207.19C529.97 207.39 531.54 207.59 533.10 207.77C534.67 207.95 536.24 208.13 537.80 208.29C539.37 208.45 541.72 208.66 542.50 208.73" stroke-width="0.6" stroke-opacity="1.0"/>
<path d="M307.60 171.00C308.38 170.97 310.73 170.86 312.30 170.81C313.86 170.76 315.43 170.73 317.00 170.72C318.56 170.70 320.13 170.70 321.69 170.71C323.26 170.73 324.83 170.76 326.39 170.80C327.96 170.84 329.52 170.90 331.09 170.97C332.66 171.04 334.22 171.12 335.79 171.22C337.35 171.32 338.92 171.43 340.49 171.55C342.05 171.67 343.62 171.81 345.18 171.96C346.75 172.10 348.32 172.26 349.88 172.43C351.45 172.60 353.01 172.79 354.58 172.98C356.15 173.17 357.71 173.38 359.28 173.59C360.84 173.80 362.41 174.03 363.98 174.26C365.54 174.49 367.11 174.74 368.67 174.99C370.24 175.24 371.81 175.50 373.37 175.78C374.94 176.05 376.50 176.32 378.07 176.61C379.64 176.90 381.20 177.19 382.77 177.50C384.33 177.80 385.90 178.11 387.47 178.42C389.03 178.74 390.60 179.06 392.16 179.39C393.73 179.72 395.30 180.06 396.86 180.40C398.43 180.74 399.99 181.09 401.56 181.44C403.13 181.80 404.69 182.16 406.26 182.52C407.82 182.88 409.39 183.25 410.96 183.62C412.52 183.99 414.09 184.37 415.65 184.75C417.22 185.13 418.79 185.51 420.35 185.89C421.92 186.28 423.48 186.67 425.05 187.06C426.62 187.45 428.18 187.84 429.75 188.24C431.31 188.63 432.88 189.03 434.45 189.43C436.01 189.83 437.58 190.23 439.14 190.63C440.71 191.03 442.28 191.43 443.84 191.83C445.41 192.23 446.97 192.63 448.54 193.04C450.11 193.44 451.67 193.84 453.24 194.24C454.80 194.64 456.37 195.04 457.94 195.43C459.50 195.83 461.07 196.23 462.63 196.62C464.20 197.01 465.77 197.40 467.33 197.79C468.90 198.18 470.46 198.57 472.03 198.95C473.60 199.33 475.16 199.72 476.73 200.09C478.29 200.47 479.86 200.84 481.43 201.21C482.99 201.58 484.56 201.94 486.12 202.30C487.69 202.66 489.26 203.01 490.82 203.36C492.39 203.71 493.95 204.05 495.52 204.39C497.09 204.73 498.65 205.06 500.22 205.38C501.78 205.71 503.35 206.02 504.92 206.34C506.48 206.65 508.05 206.95 509.61 207.25C511.18 207.54 512.75 207.83 514.31 208.11C515.88 208.39 517.44 208.66 519.01 208.93C520.58 209.19 522.14 209.44 523.71 209.69C525.27 209.93 526.84 210.17 528.41 210.39C529.97 210.62 531.54 210.84 533.10 211.04C534.67 211.25 536.24 211.44 537.80 211.62C539.37 211.81 541.72 212.06 542.50 212.14" stroke-width="0.6" stroke-opacity="1.0"/>
<path d="M307.60 171.00C308.38 171.09 310.73 171.34 312.30 171.52C313.86 171.69 315.43 171.87 317.00 172.06C318.56 172.24 320.13 172.43 321.69 172.62C323.26 172.82 324.83 173.02 326.39 173.22C327.96 173.42 329.52 173.62 331.09 173.83C332.66 174.04 334.22 174.26 335.79 174.47C337.35 174.69 338.92 174.91 340.49 175.13C342.05 175.36 343.62 175.59 345.18 175.82C346.75 176.05 348.32 176.29 349.88 176.53C351.45 176.77 353.01 177.01 354.58 177.25C356.15 177.50 357.71 177.75 359.28 178.00C360.84 178.25 362.41 178.51 363.98 178.77C365.54 179.03 367.11 179.29 368.67 179.56C370.24 179.82 371.81 180.09 373.37 180.36C374.94 180.64 376.50 180.91 378.07 181.19C379.64 181.47 381.20 181.75 382.77 182.03C384.33 182.31 385.90 182.60 387.47 182.89C389.03 183.18 390.60 183.47 392.16 183.76C393.73 184.06 395.30 184.36 396.86 184.66C398.43 184.96 399.99 185.26 401.56 185.56C403.13 185.87 404.69 186.17 406.26 186.48C407.82 186.79 409.39 187.10 410.96 187.42C412.52 187.73 414.09 188.05 415.65 188.37C417.22 188.68 418.79 189.01 420.35 189.33C421.92 189.65 423.48 189.97 425.05 190.30C426.62 190.63 428.18 190.96 429.75 191.29C431.31 191.62 432.88 191.95 434.45 192.28C436.01 192.62 437.58 192.95 439.14 193.29C440.71 193.63 442.28 193.96 443.84 194.31C445.41 194.65 446.97 194.99 448.54 195.33C450.11 195.67 451.67 196.02 453.24 196.37C454.80 196.71 456.37 197.06 457.94 197.41C459.50 197.76 461.07 198.11 462.63 198.46C464.20 198.81 465.77 199.16 467.33 199.51C468.90 199.87 470.46 200.22 472.03 200.58C473.60 200.93 475.16 201.29 476.73 201.65C478.29 202.00 479.86 202.36 481.43 202.72C482.99 203.08 484.56 203.44 486.12 203.80C487.69 204.16 489.26 204.52 490.82 204.88C492.39 205.24 493.95 205.60 495.52 205.97C497.09 206.33 498.65 206.69 500.22 207.05C501.78 207.42 503.35 207.78 504.92 208.14C506.48 208.51 508.05 208.87 509.61 209.24C511.18 209.60 512.75 209.96 514.31 210.33C515.88 210.69 517.44 211.06 519.01 211.42C520.58 211.79 522.14 212.15 523.71 212.51C525.27 212.88 526.84 213.24 528.41 213.61C529.97 213.97 531.54 214.33 533.10 214.70C534.67 215.06 536.24 215.42 537.80 215.78C539.37 216.15 541.72 216.69 542.50 216.87" stroke-width="0.6" stroke-opacity="1.0"/>
<path d="M307.60 147.00C308.38 146.96 310.73 146.85 312.30 146.77C313.86 146.70 315.43 146.62 317.00 146.54C318.56 146.47 320.13 146.39 321.69 146.31C323.26 146.23 324.83 146.15 326.39 146.08C327.96 146.00 329.52 145.92 331.09 145.85C332.66 145.77 334.22 145.69 335.79 145.62C337.35 145.54 338.92 145.47 340.49 145.40C342.05 145.33 343.62 145.25 345.18 145.19C346.75 145.12 348.32 145.05 349.88 144.99C351.45 144.92 353.01 144.86 354.58 144.80C356.15 144.74 357.71 144.68 359.28 144.62C360.84 144.57 362.41 144.52 363.98 144.47C365.54 144.42 367.11 144.37 368.67 144.33C370.24 144.29 371.81 144.25 373.37 144.22C374.94 144.18 376.50 144.15 378.07 144.13C379.64 144.10 381.20 144.08 382.77 144.06C384.33 144.04 385.90 144.03 387.47 144.02C389.03 144.02 390.60 144.01 392.16 144.02C393.73 144.02 395.30 144.03 396.86 144.04C398.43 144.06 399.99 144.08 401.56 144.10C403.13 144.13 404.69 144.16 406.26 144.20C407.82 144.24 409.39 144.28 410.96 144.34C412.52 144.39 414.09 144.45 415.65 144.51C417.22 144.58 418.79 144.65 420.35 144.73C421.92 144.81 423.48 144.90 425.05 145.00C426.62 145.09 428.18 145.20 429.75 145.31C431.31 145.42 432.88 145.54 434.45 145.67C436.01 145.80 437.58 145.94 439.14 146.09C440.71 146.23 442.28 146.39 443.84 146.55C445.41 146.72 446.97 146.89 448.54 147.08C450.11 147.26 451.67 147.46 453.24 147.66C454.80 147.87 456.37 148.08 457.94 148.30C459.50 148.53 461.07 148.76 462.63 149.01C464.20 149.26 465.77 149.51 467.33 149.78C468.90 150.05 470.46 150.33 472.03 150.62C473.60 150.91 475.16 151.21 476.73 151.52C478.29 151.84 479.86 152.16 481.43 152.50C482.99 152.84 484.56 153.19 486.12 153.55C487.69 153.92 489.26 154.29 490.82 154.68C492.39 155.07 493.95 155.47 495.52 155.89C497.09 156.30 498.65 156.73 500.22 157.17C501.78 157.61 503.35 158.07 504.92 158.54C506.48 159.01 508.05 159.49 509.61 159.99C511.18 160.49 512.75 161.00 514.31 161.53C515.88 162.05 517.44 162.59 519.01 163.15C520.58 163.71 522.14 164.28 523.71 164.87C525.27 165.46 526.84 166.06 528.41 166.68C529.97 167.30 531.54 167.93 533.10 168.58C534.67 169.23 536.24 169.90 537.80 170.58C539.37 171.27 541.72 172.34 542.50 172.69" stroke-width="0.6" stroke-opacity="1.0"/>
<path d="M307.60 147.00C308.38 146.95 310.73 146.78 312.30 146.69C313.86 146.60 315.43 146.51 317.00 146.44C318.56 146.36 320.13 146.30 321.69 146.24C323.26 146.19 324.83 146.14 326.39 146.10C327.96 146.06 329.52 146.03 331.09 146.01C332.66 145.99 334.22 145.98 335.79 145.97C337.35 145.97 338.92 145.98 340.49 145.99C342.05 146.00 343.62 146.02 345.18 146.05C346.75 146.08 348.32 146.12 349.88 146.16C351.45 146.21 353.01 146.26 354.58 146.32C356.15 146.38 357.71 146.45 359.28 146.52C360.84 146.60 362.41 146.68 363.98 146.77C365.54 146.86 367.11 146.96 368.67 147.06C370.24 147.17 371.81 147.28 373.37 147.39C374.94 147.51 376.50 147.64 378.07 147.77C379.64 147.90 381.20 148.04 382.77 148.18C384.33 148.32 385.90 148.47 387.47 148.63C389.03 148.78 390.60 148.95 392.16 149.11C393.73 149.28 395.30 149.46 396.86 149.63C398.43 149.81 399.99 150.00 401.56 150.19C403.13 150.38 404.69 150.58 406.26 150.78C407.82 150.98 409.39 151.19 410.96 151.40C412.52 151.61 414.09 151.82 415.65 152.05C417.22 152.27 418.79 152.49 420.35 152.72C421.92 152.95 423.48 153.19 425.05 153.43C426.62 153.67 428.18 153.91 429.75 154.16C431.31 154.41 432.88 154.66 434.45 154.92C436.01 155.17 437.58 155.43 439.14 155.70C440.71 155.96 442.28 156.23 443.84 156.50C445.41 156.77 446.97 157.05 448.54 157.33C450.11 157.60 451.67 157.88 453.24 158.17C454.80 158.45 456.37 158.74 457.94 159.03C459.50 159.32 461.07 159.62 462.63 159.91C464.20 160.21 465.77 160.51 467.33 160.81C468.90 161.11 470.46 161.41 472.03 161.72C473.60 162.02 475.16 162.33 476.73 162.64C478.29 162.95 479.86 163.26 481.43 163.58C482.99 163.89 484.56 164.21 486.12 164.52C487.69 164.84 489.26 165.16 490.82 165.48C492.39 165.80 493.95 166.12 495.52 166.44C497.09 166.77 498.65 167.09 500.22 167.42C501.78 167.74 503.35 168.07 504.92 168.39C506.48 168.72 508.05 169.05 509.61 169.37C511.18 169.70 512.75 170.03 514.31 170.36C515.88 170.69 517.44 171.02 519.01 171.35C520.58 171.67 522.14 172.00 523.71 172.33C525.27 172.66 526.84 172.99 528.41 173.32C529.97 173.65 531.54 173.98 533.10 174.30C534.67 174.63 536.24 174.96 537.80 175.29C539.37 175.61 541.72 176.10 542.50 176.26" stroke-width="0.6" stroke-opacity="1.0"/>
<path d="M307.60 147.00C308.38 146.98 310.73 146.89 312.30 146.86C313.86 146.82 315.43 146.79 317.00 146.77C318.56 146.76 320.13 146.75 321.69 146.75C323.26 146.76 324.83 146.77 326.39 146.79C327.96 146.81 329.52 146.84 331.09 146.88C332.66 146.92 334.22 146.97 335.79 147.03C337.35 147.09 338.92 147.16 340.49 147.24C342.05 147.31 343.62 147.40 345.18 147.49C346.75 147.59 348.32 147.69 349.88 147.80C351.45 147.91 353.01 148.03 354.58 148.15C356.15 148.28 357.71 148.42 359.28 148.56C360.84 148.70 362.41 148.85 363.98 149.01C365.54 149.16 367.11 149.33 368.67 149.50C370.24 149.67 371.81 149.85 373.37 150.04C374.94 150.22 376.50 150.42 378.07 150.62C379.64 150.82 381.20 151.02 382.77 151.24C384.33 151.45 385.90 151.67 387.47 151.89C389.03 152.12 390.60 152.35 392.16 152.59C393.73 152.82 395.30 153.07 396.86 153.32C398.43 153.56 399.99 153.82 401.56 154.08C403.13 154.34 404.69 154.60 406.26 154.87C407.82 155.14 409.39 155.42 410.96 155.70C412.52 155.98 414.09 156.26 415.65 156.55C417.22 156.84 418.79 157.14 420.35 157.43C421.92 157.73 423.48 158.04 425.05 158.34C426.62 158.65 428.18 158.96 429.75 159.27C431.31 159.59 432.88 159.91 434.45 160.23C436.01 160.55 437.58 160.88 439.14 161.21C440.71 161.53 442.28 161.87 443.84 162.20C445.41 162.54 446.97 162.87 448.54 163.22C450.11 163.56 451.67 163.90 453.24 164.25C454.80 164.59 456.37 164.94 457.94 165.29C459.50 165.64 461.07 166.00 462.63 166.35C464.20 166.71 465.77 167.06 467.33 167.42C468.90 167.78 470.46 168.14 472.03 168.50C473.60 168.86 475.16 169.23 476.73 169.59C478.29 169.96 479.86 170.32 481.43 170.69C482.99 171.06 484.56 171.42 486.12 171.79C487.69 172.16 489.26 172.53 490.82 172.90C492.39 173.27 493.95 173.64 495.52 174.01C497.09 174.38 498.65 174.75 500.22 175.12C501.78 175.49 503.35 175.86 504.92 176.23C506.48 176.60 508.05 176.97 509.61 177.34C511.18 177.71 512.75 178.07 514.31 178.44C515.88 178.81 517.44 179.17 519.01 179.54C520.58 179.91 522.14 180.27 523.71 180.63C525.27 180.99 526.84 181.36 528.41 181.72C529.97 182.08 531.54 182.43 533.10 182.79C534.67 183.15 536.24 183.50 537.80 183.85C539.37 184.20 541.72 184.73 542.50 184.90" stroke-width="0.6" stroke-opacity="1.0"/>
<path d="M307.60 147.00C308.38 147.02 310.73 147.06 312.30 147.10C313.86 147.14 315.43 147.19 317.00 147.25C318.56 147.31 320.13 147.38 321.69 147.45C323.26 147.53 324.83 147.61 326.39 147.70C327.96 147.79 329.52 147.89 331.09 148.00C332.66 148.11 334.22 148.22 335.79 148.34C337.35 148.47 338.92 148.60 340.49 148.73C342.05 148.87 343.62 149.02 345.18 149.17C346.75 149.32 348.32 149.48 349.88 149.64C351.45 149.81 353.01 149.98 354.58 150.16C356.15 150.33 357.71 150.52 359.28 150.71C360.84 150.90 362.41 151.10 363.98 151.30C365.54 151.50 367.11 151.71 368.67 151.93C370.24 152.14 371.81 152.36 373.37 152.59C374.94 152.82 376.50 153.05 378.07 153.28C379.64 153.52 381.20 153.76 382.77 154.01C384.33 154.26 385.90 154.51 387.47 154.77C389.03 155.02 390.60 155.29 392.16 155.55C393.73 155.82 395.30 156.09 396.86 156.36C398.43 156.64 399.99 156.92 401.56 157.20C403.13 157.49 404.69 157.77 406.26 158.07C407.82 158.36 409.39 158.65 410.96 158.95C412.52 159.25 414.09 159.55 415.65 159.86C417.22 160.16 418.79 160.47 420.35 160.78C421.92 161.09 423.48 161.41 425.05 161.73C426.62 162.04 428.18 162.36 429.75 162.69C431.31 163.01 432.88 163.34 434.45 163.66C436.01 163.99 437.58 164.32 439.14 164.65C440.71 164.99 442.28 165.32 443.84 165.66C445.41 165.99 446.97 166.33 448.54 166.67C450.11 167.01 451.67 167.35 453.24 167.69C454.80 168.04 456.37 168.38 457.94 168.73C459.50 169.07 461.07 169.42 462.63 169.76C464.20 170.11 465.77 170.46 467.33 170.81C468.90 171.16 470.46 171.50 472.03 171.85C473.60 172.20 475.16 172.55 476.73 172.90C478.29 173.25 479.86 173.60 481.43 173.95C482.99 174.30 484.56 174.65 486.12 175.00C487.69 175.35 489.26 175.70 490.82 176.05C492.39 176.40 493.95 176.74 495.52 177.09C497.09 177.44 498.65 177.78 500.22 178.13C501.78 178.47 503.35 178.82 504.92 179.16C506.48 179.50 508.05 179.84 509.61 180.18C511.18 180.52 512.75 180.86 514.31 181.19C515.88 181.53 517.44 181.86 519.01 182.20C520.58 182.53 522.14 182.86 523.71 183.19C525.27 183.51 526.84 183.84 528.41 184.16C529.97 184.48 531.54 184.80 533.10 185.12C534.67 185.44 536.24 185.75 537.80 186.07C539.37 186.38 541.72 186.84 542.50 186.99" stroke-width="0.6" stroke-opacity="1.0"/>
<path d="M307.60 147.00C308.38 147.11 310.73 147.46 312.30 147.69C313.86 147.92 315.43 148.14 317.00 148.37C318.56 148.59 320.13 148.82 321.69 149.04C323.26 149.26 324.83 149.49 326.39 149.71C327.96 149.93 329.52 150.15 331.09 150.36C332.66 150.58 334.22 150.80 335.79 151.02C337.35 151.23 338.92 151.45 340.49 151.67C342.05 151.88 343.62 152.10 345.18 152.31C346.75 152.53 348.32 152.74 349.88 152.96C351.45 153.17 353.01 153.38 354.58 153.60C356.15 153.81 357.71 154.03 359.28 154.24C360.84 154.45 362.41 154.67 363.98 154.88C365.54 155.10 367.11 155.31 368.67 155.53C370.24 155.74 371.81 155.96 373.37 156.17C374.94 156.39 376.50 156.61 378.07 156.83C379.64 157.04 381.20 157.26 382.77 157.48C384.33 157.70 385.90 157.92 387.47 158.14C389.03 158.36 390.60 158.59 392.16 158.81C393.73 159.04 395.30 159.26 396.86 159.49C398.43 159.71 399.99 159.94 401.56 160.17C403.13 160.40 404.69 160.63 406.26 160.87C407.82 161.10 409.39 161.33 410.96 161.57C412.52 161.81 414.09 162.05 415.65 162.29C417.22 162.53 418.79 162.77 420.35 163.02C421.92 163.26 423.48 163.51 425.05 163.76C426.62 164.01 428.18 164.26 429.75 164.52C431.31 164.78 432.88 165.03 434.45 165.29C436.01 165.55 437.58 165.82 439.14 166.08C440.71 166.35 442.28 166.62 443.84 166.89C445.41 167.17 446.97 167.44 448.54 167.72C450.11 168.00 451.67 168.28 453.24 168.57C454.80 168.85 456.37 169.14 457.94 169.43C459.50 169.73 461.07 170.02 462.63 170.32C464.20 170.62 465.77 170.93 467.33 171.23C468.90 171.54 470.46 171.85 472.03 172.17C473.60 172.49 475.16 172.81 476.73 173.13C478.29 173.45 479.86 173.78 481.43 174.12C482.99 174.45 484.56 174.79 486.12 175.13C487.69 175.47 489.26 175.82 490.82 176.17C492.39 176.52 493.95 176.88 495.52 177.24C497.09 177.60 498.65 177.97 500.22 178.34C501.78 178.71 503.35 179.08 504.92 179.47C506.48 179.85 508.05 180.23 509.61 180.63C511.18 181.02 512.75 181.42 514.31 181.82C515.88 182.22 517.44 182.63 519.01 183.05C520.58 183.46 522.14 183.88 523.71 184.31C525.27 184.74 526.84 185.17 528.41 185.61C529.97 186.05 531.54 186.49 533.10 186.94C534.67 187.39 536.24 187.85 537.80 188.32C539.37 188.78 541.72 189.49 542.50 189.73" stroke-width="0.6" stroke-opacity="1.0"/>
<path d="M307.60 147.00C308.38 147.20 310.73 147.80 312.30 148.19C313.86 148.59 315.43 148.97 317.00 149.35C318.56 149.73 320.13 150.10 321.69 150.46C323.26 150.83 324.83 151.19 326.39 151.54C327.96 151.89 329.52 152.24 331.09 152.58C332.66 152.92 334.22 153.26 335.79 153.59C337.35 153.92 338.92 154.25 340.49 154.57C342.05 154.89 343.62 155.20 345.18 155.52C346.75 155.83 348.32 156.13 349.88 156.44C351.45 156.74 353.01 157.04 354.58 157.33C356.15 157.63 357.71 157.92 359.28 158.20C360.84 158.49 362.41 158.77 363.98 159.06C365.54 159.34 367.11 159.61 368.67 159.89C370.24 160.16 371.81 160.43 373.37 160.70C374.94 160.97 376.50 161.23 378.07 161.50C379.64 161.76 381.20 162.02 382.77 162.28C384.33 162.54 385.90 162.80 387.47 163.06C389.03 163.31 390.60 163.57 392.16 163.82C393.73 164.07 395.30 164.32 396.86 164.57C398.43 164.82 399.99 165.07 401.56 165.32C403.13 165.57 404.69 165.82 406.26 166.07C407.82 166.32 409.39 166.57 410.96 166.81C412.52 167.06 414.09 167.31 415.65 167.56C417.22 167.81 418.79 168.05 420.35 168.30C421.92 168.55 423.48 168.80 425.05 169.05C426.62 169.30 428.18 169.56 429.75 169.81C431.31 170.06 432.88 170.32 434.45 170.57C436.01 170.83 437.58 171.09 439.14 171.35C440.71 171.61 442.28 171.87 443.84 172.13C445.41 172.40 446.97 172.66 448.54 172.93C450.11 173.20 451.67 173.47 453.24 173.75C454.80 174.02 456.37 174.30 457.94 174.58C459.50 174.86 461.07 175.15 462.63 175.44C464.20 175.72 465.77 176.01 467.33 176.31C468.90 176.61 470.46 176.90 472.03 177.21C473.60 177.51 475.16 177.82 476.73 178.13C478.29 178.44 479.86 178.76 481.43 179.08C482.99 179.41 484.56 179.73 486.12 180.06C487.69 180.40 489.26 180.73 490.82 181.08C492.39 181.42 493.95 181.77 495.52 182.12C497.09 182.48 498.65 182.84 500.22 183.20C501.78 183.57 503.35 183.94 504.92 184.32C506.48 184.70 508.05 185.09 509.61 185.48C511.18 185.87 512.75 186.27 514.31 186.68C515.88 187.09 517.44 187.50 519.01 187.92C520.58 188.34 522.14 188.77 523.71 189.21C525.27 189.65 526.84 190.09 528.41 190.54C529.97 191.00 531.54 191.46 533.10 191.93C534.67 192.40 536.24 192.88 537.80 193.36C539.37 193.85 541.72 194.60 542.50 194.85" stroke-width="0.6" stroke-opacity="1.0"/>
<path d="M307.60 123.00C308.38 122.96 310.73 122.85 312.30 122.77C313.86 122.70 315.43 122.62 317.00 122.54C318.56 122.47 320.13 122.39 321.69 122.31C323.26 122.23 324.83 122.15 326.39 122.08C327.96 122.00 329.52 121.92 331.09 121.85C332.66 121.77 334.22 121.69 335.79 121.62C337.35 121.54 338.92 121.47 340.49 121.40C342.05 121.33 343.62 121.25 345.18 121.19C346.75 121.12 348.32 121.05 349.88 120.99C351.45 120.92 353.01 120.86 354.58 120.80C356.15 120.74 357.71 120.68 359.28 120.62C360.84 120.57 362.41 120.52 363.98 120.47C365.54 120.42 367.11 120.37 368.67 120.33C370.24 120.29 371.81 120.25 373.37 120.22C374.94 120.18 376.50 120.15 378.07 120.13C379.64 120.10 381.20 120.08 382.77 120.06C384.33 120.04 385.90 120.03 387.47 120.02C389.03 120.02 390.60 120.01 392.16 120.02C393.73 120.02 395.30 120.03 396.86 120.04C398.43 120.06 399.99 120.08 401.56 120.10C403.13 120.13 404.69 120.16 406.26 120.20C407.82 120.24 409.39 120.28 410.96 120.34C412.52 120.39 414.09 120.45 415.65 120.51C417.22 120.58 418.79 120.65 420.35 120.73C421.92 120.81 423.48 120.90 425.05 121.00C426.62 121.09 428.18 121.20 429.75 121.31C431.31 121.42 432.88 121.54 434.45 121.67C436.01 121.80 437.58 121.94 439.14 122.09C440.71 122.23 442.28 122.39 443.84 122.55C445.41 122.72 446.97 122.89 448.54 123.08C450.11 123.26 451.67 123.46 453.24 123.66C454.80 123.87 456.37 124.08 457.94 124.30C459.50 124.53 461.07 124.76 462.63 125.01C464.20 125.26 465.77 125.51 467.33 125.78C468.90 126.05 470.46 126.33 472.03 126.62C473.60 126.91 475.16 127.21 476.73 127.52C478.29 127.84 479.86 128.16 481.43 128.50C482.99 128.84 484.56 129.19 486.12 129.55C487.69 129.92 489.26 130.29 490.82 130.68C492.39 131.07 493.95 131.47 495.52 131.89C497.09 132.30 498.65 132.73 500.22 133.17C501.78 133.61 503.35 134.07 504.92 134.54C506.48 135.01 508.05 135.49 509.61 135.99C511.18 136.49 512.75 137.00 514.31 137.53C515.88 138.05 517.44 138.59 519.01 139.15C520.58 139.71 522.14 140.28 523.71 140.87C525.27 141.46 526.84 142.06 528.41 142.68C529.97 143.30 531.54 143.93 533.10 144.58C534.67 145.23 536.24 145.90 537.80 146.58C539.37 147.27 541.72 148.34 542.50 148.69" stroke-width="0.6" stroke-opacity="1.0"/>
<path d="M307.60 123.00C308.38 122.94 310.73 122.75 312.30 122.63C313.86 122.52 315.43 122.41 317.00 122.30C318.56 122.20 320.13 122.10 321.69 122.02C323.26 121.93 324.83 121.84 326.39 121.77C327.96 121.69 329.52 121.62 331.09 121.56C332.66 121.50 334.22 121.44 335.79 121.39C337.35 121.35 338.92 121.30 340.49 121.27C342.05 121.23 343.62 121.20 345.18 121.18C346.75 121.16 348.32 121.14 349.88 121.13C351.45 121.12 353.01 121.12 354.58 121.13C356.15 121.13 357.71 121.14 359.28 121.16C360.84 121.18 362.41 121.20 363.98 121.23C365.54 121.26 367.11 121.30 368.67 121.34C370.24 121.39 371.81 121.44 373.37 121.50C374.94 121.55 376.50 121.62 378.07 121.69C379.64 121.76 381.20 121.83 382.77 121.92C384.33 122.00 385.90 122.09 387.47 122.19C389.03 122.28 390.60 122.39 392.16 122.50C393.73 122.60 395.30 122.72 396.86 122.84C398.43 122.97 399.99 123.09 401.56 123.23C403.13 123.37 404.69 123.51 406.26 123.66C407.82 123.80 409.39 123.96 410.96 124.12C412.52 124.28 414.09 124.45 415.65 124.63C417.22 124.80 418.79 124.98 420.35 125.17C421.92 125.35 423.48 125.55 425.05 125.75C426.62 125.95 428.18 126.16 429.75 126.37C431.31 126.58 432.88 126.80 434.45 127.03C436.01 127.25 437.58 127.48 439.14 127.72C440.71 127.96 442.28 128.21 443.84 128.46C445.41 128.71 446.97 128.97 448.54 129.23C450.11 129.50 451.67 129.77 453.24 130.04C454.80 130.32 456.37 130.60 457.94 130.89C459.50 131.18 461.07 131.48 462.63 131.78C464.20 132.08 465.77 132.39 467.33 132.71C468.90 133.02 470.46 133.34 472.03 133.67C473.60 134.00 475.16 134.33 476.73 134.67C478.29 135.01 479.86 135.36 481.43 135.71C482.99 136.06 484.56 136.42 486.12 136.79C487.69 137.15 489.26 137.52 490.82 137.90C492.39 138.28 493.95 138.66 495.52 139.05C497.09 139.44 498.65 139.84 500.22 140.24C501.78 140.64 503.35 141.05 504.92 141.47C506.48 141.88 508.05 142.30 509.61 142.73C511.18 143.16 512.75 143.59 514.31 144.03C515.88 144.47 517.44 144.92 519.01 145.37C520.58 145.82 522.14 146.28 523.71 146.74C525.27 147.21 526.84 147.68 528.41 148.15C529.97 148.63 531.54 149.11 533.10 149.60C534.67 150.09 536.24 150.59 537.80 151.09C539.37 151.59 541.72 152.36 542.50 152.61" stroke-width="0.6" stroke-opacity="1.0"/>
<path d="M307.60 123.00C308.38 122.95 310.73 122.81 312.30 122.72C313.86 122.64 315.43 122.56 317.00 122.49C318.56 122.41 320.13 122.35 321.69 122.29C323.26 122.23 324.83 122.18 326.39 122.14C327.96 122.09 329.52 122.06 331.09 122.02C332.66 121.99 334.22 121.97 335.79 121.95C337.35 121.93 338.92 121.92 340.49 121.92C342.05 121.92 343.62 121.92 345.18 121.93C346.75 121.94 348.32 121.95 349.88 121.98C351.45 122.00 353.01 122.03 354.58 122.06C356.15 122.10 357.71 122.14 359.28 122.19C360.84 122.24 362.41 122.30 363.98 122.36C365.54 122.42 367.11 122.49 368.67 122.56C370.24 122.64 371.81 122.72 373.37 122.81C374.94 122.89 376.50 122.99 378.07 123.09C379.64 123.19 381.20 123.30 382.77 123.41C384.33 123.52 385.90 123.64 387.47 123.77C389.03 123.89 390.60 124.02 392.16 124.16C393.73 124.30 395.30 124.44 396.86 124.59C398.43 124.74 399.99 124.90 401.56 125.06C403.13 125.22 404.69 125.39 406.26 125.57C407.82 125.74 409.39 125.92 410.96 126.11C412.52 126.30 414.09 126.49 415.65 126.69C417.22 126.89 418.79 127.09 420.35 127.30C421.92 127.51 423.48 127.73 425.05 127.95C426.62 128.17 428.18 128.40 429.75 128.64C431.31 128.87 432.88 129.11 434.45 129.36C436.01 129.60 437.58 129.85 439.14 130.11C440.71 130.37 442.28 130.63 443.84 130.90C445.41 131.17 446.97 131.44 448.54 131.72C450.11 132.00 451.67 132.29 453.24 132.58C454.80 132.87 456.37 133.17 457.94 133.47C459.50 133.77 461.07 134.08 462.63 134.40C464.20 134.71 465.77 135.03 467.33 135.35C468.90 135.68 470.46 136.01 472.03 136.34C473.60 136.68 475.16 137.02 476.73 137.37C478.29 137.71 479.86 138.07 481.43 138.42C482.99 138.78 484.56 139.14 486.12 139.51C487.69 139.88 489.26 140.25 490.82 140.63C492.39 141.01 493.95 141.39 495.52 141.78C497.09 142.17 498.65 142.56 500.22 142.96C501.78 143.36 503.35 143.77 504.92 144.18C506.48 144.59 508.05 145.00 509.61 145.42C511.18 145.84 512.75 146.27 514.31 146.70C515.88 147.13 517.44 147.56 519.01 148.00C520.58 148.44 522.14 148.89 523.71 149.34C525.27 149.78 526.84 150.24 528.41 150.70C529.97 151.16 531.54 151.62 533.10 152.09C534.67 152.56 536.24 153.04 537.80 153.52C539.37 154.00 541.72 154.73 542.50 154.97" stroke-width="0.6" stroke-opacity="1.0"/>
<path d="M307.60 123.00C308.38 122.95 310.73 122.78 312.30 122.69C313.86 122.60 315.43 122.52 317.00 122.46C318.56 122.39 320.13 122.33 321.69 122.29C323.26 122.25 324.83 122.21 326.39 122.19C327.96 122.17 329.52 122.16 331.09 122.16C332.66 122.16 334.22 122.17 335.79 122.19C337.35 122.21 338.92 122.24 340.49 122.29C342.05 122.33 343.62 122.38 345.18 122.44C346.75 122.50 348.32 122.57 349.88 122.65C351.45 122.73 353.01 122.82 354.58 122.92C356.15 123.02 357.71 123.13 359.28 123.25C360.84 123.36 362.41 123.49 363.98 123.62C365.54 123.76 367.11 123.90 368.67 124.05C370.24 124.20 371.81 124.36 373.37 124.52C374.94 124.69 376.50 124.86 378.07 125.05C379.64 125.23 381.20 125.42 382.77 125.61C384.33 125.81 385.90 126.01 387.47 126.22C389.03 126.43 390.60 126.65 392.16 126.87C393.73 127.10 395.30 127.33 396.86 127.56C398.43 127.80 399.99 128.04 401.56 128.29C403.13 128.54 404.69 128.79 406.26 129.05C407.82 129.31 409.39 129.57 410.96 129.84C412.52 130.12 414.09 130.39 415.65 130.67C417.22 130.95 418.79 131.24 420.35 131.53C421.92 131.82 423.48 132.11 425.05 132.41C426.62 132.71 428.18 133.01 429.75 133.32C431.31 133.62 432.88 133.93 434.45 134.25C436.01 134.56 437.58 134.88 439.14 135.20C440.71 135.52 442.28 135.85 443.84 136.17C445.41 136.50 446.97 136.83 448.54 137.16C450.11 137.50 451.67 137.83 453.24 138.17C454.80 138.51 456.37 138.85 457.94 139.19C459.50 139.53 461.07 139.88 462.63 140.22C464.20 140.57 465.77 140.92 467.33 141.26C468.90 141.61 470.46 141.96 472.03 142.31C473.60 142.67 475.16 143.02 476.73 143.37C478.29 143.72 479.86 144.08 481.43 144.43C482.99 144.78 484.56 145.14 486.12 145.49C487.69 145.85 489.26 146.20 490.82 146.56C492.39 146.91 493.95 147.26 495.52 147.62C497.09 147.97 498.65 148.32 500.22 148.67C501.78 149.03 503.35 149.38 504.92 149.73C506.48 150.07 508.05 150.42 509.61 150.77C511.18 151.12 512.75 151.46 514.31 151.81C515.88 152.15 517.44 152.49 519.01 152.83C520.58 153.17 522.14 153.50 523.71 153.84C525.27 154.17 526.84 154.51 528.41 154.83C529.97 155.16 531.54 155.49 533.10 155.81C534.67 156.14 536.24 156.46 537.80 156.77C539.37 157.09 541.72 157.55 542.50 157.71" stroke-width="0.6" stroke-opacity="1.0"/>
<path d="M307.60 123.00C308.38 122.94 310.73 122.76 312.30 122.66C313.86 122.57 315.43 122.49 317.00 122.43C318.56 122.37 320.13 122.32 321.69 122.29C323.26 122.26 324.83 122.25 326.39 122.25C327.96 122.25 329.52 122.27 331.09 122.30C332.66 122.33 334.22 122.38 335.79 122.43C337.35 122.49 338.92 122.57 340.49 122.65C342.05 122.74 343.62 122.84 345.18 122.95C346.75 123.07 348.32 123.19 349.88 123.33C351.45 123.47 353.01 123.62 354.58 123.78C356.15 123.94 357.71 124.12 359.28 124.30C360.84 124.48 362.41 124.68 363.98 124.88C365.54 125.09 367.11 125.31 368.67 125.53C370.24 125.76 371.81 125.99 373.37 126.24C374.94 126.48 376.50 126.74 378.07 127.00C379.64 127.26 381.20 127.53 382.77 127.81C384.33 128.09 385.90 128.38 387.47 128.67C389.03 128.97 390.60 129.27 392.16 129.58C393.73 129.89 395.30 130.21 396.86 130.53C398.43 130.85 399.99 131.18 401.56 131.51C403.13 131.85 404.69 132.18 406.26 132.53C407.82 132.87 409.39 133.22 410.96 133.58C412.52 133.93 414.09 134.29 415.65 134.65C417.22 135.01 418.79 135.38 420.35 135.75C421.92 136.12 423.48 136.49 425.05 136.87C426.62 137.24 428.18 137.62 429.75 138.00C431.31 138.38 432.88 138.76 434.45 139.15C436.01 139.53 437.58 139.92 439.14 140.30C440.71 140.69 442.28 141.08 443.84 141.46C445.41 141.85 446.97 142.24 448.54 142.63C450.11 143.01 451.67 143.40 453.24 143.79C454.80 144.17 456.37 144.56 457.94 144.94C459.50 145.32 461.07 145.71 462.63 146.09C464.20 146.47 465.77 146.84 467.33 147.22C468.90 147.59 470.46 147.97 472.03 148.34C473.60 148.70 475.16 149.07 476.73 149.43C478.29 149.80 479.86 150.15 481.43 150.51C482.99 150.86 484.56 151.21 486.12 151.55C487.69 151.90 489.26 152.24 490.82 152.57C492.39 152.91 493.95 153.23 495.52 153.55C497.09 153.88 498.65 154.19 500.22 154.50C501.78 154.81 503.35 155.11 504.92 155.40C506.48 155.70 508.05 155.99 509.61 156.26C511.18 156.54 512.75 156.81 514.31 157.08C515.88 157.34 517.44 157.59 519.01 157.84C520.58 158.08 522.14 158.32 523.71 158.54C525.27 158.77 526.84 158.98 528.41 159.19C529.97 159.39 531.54 159.59 533.10 159.77C534.67 159.95 536.24 160.13 537.80 160.29C539.37 160.45 541.72 160.66 542.50 160.73" stroke-width="0.6" stroke-opacity="1.0"/>
<path d="M307.60 123.00C308.38 122.97 310.73 122.86 312.30 122.81C313.86 122.76 315.43 122.73 317.00 122.72C318.56 122.70 320.13 122.70 321.69 122.71C323.26 122.73 324.83 122.76 326.39 122.80C327.96 122.84 329.52 122.90 331.09 122.97C332.66 123.04 334.22 123.12 335.79 123.22C337.35 123.32 338.92 123.43 340.49 123.55C342.05 123.67 343.62 123.81 345.18 123.96C346.75 124.10 348.32 124.26 349.88 124.43C351.45 124.60 353.01 124.79 354.58 124.98C356.15 125.17 357.71 125.38 359.28 125.59C360.84 125.80 362.41 126.03 363.98 126.26C365.54 126.49 367.11 126.74 368.67 126.99C370.24 127.24 371.81 127.50 373.37 127.78C374.94 128.05 376.50 128.32 378.07 128.61C379.64 128.90 381.20 129.19 382.77 129.50C384.33 129.80 385.90 130.11 387.47 130.42C389.03 130.74 390.60 131.06 392.16 131.39C393.73 131.72 395.30 132.06 396.86 132.40C398.43 132.74 399.99 133.09 401.56 133.44C403.13 133.80 404.69 134.16 406.26 134.52C407.82 134.88 409.39 135.25 410.96 135.62C412.52 135.99 414.09 136.37 415.65 136.75C417.22 137.13 418.79 137.51 420.35 137.89C421.92 138.28 423.48 138.67 425.05 139.06C426.62 139.45 428.18 139.84 429.75 140.24C431.31 140.63 432.88 141.03 434.45 141.43C436.01 141.83 437.58 142.23 439.14 142.63C440.71 143.03 442.28 143.43 443.84 143.83C445.41 144.23 446.97 144.63 448.54 145.04C450.11 145.44 451.67 145.84 453.24 146.24C454.80 146.64 456.37 147.04 457.94 147.43C459.50 147.83 461.07 148.23 462.63 148.62C464.20 149.01 465.77 149.40 467.33 149.79C468.90 150.18 470.46 150.57 472.03 150.95C473.60 151.33 475.16 151.72 476.73 152.09C478.29 152.47 479.86 152.84 481.43 153.21C482.99 153.58 484.56 153.94 486.12 154.30C487.69 154.66 489.26 155.01 490.82 155.36C492.39 155.71 493.95 156.05 495.52 156.39C497.09 156.73 498.65 157.06 500.22 157.38C501.78 157.71 503.35 158.02 504.92 158.34C506.48 158.65 508.05 158.95 509.61 159.25C511.18 159.54 512.75 159.83 514.31 160.11C515.88 160.39 517.44 160.66 519.01 160.93C520.58 161.19 522.14 161.44 523.71 161.69C525.27 161.93 526.84 162.17 528.41 162.39C529.97 162.62 531.54 162.84 533.10 163.04C534.67 163.25 536.24 163.44 537.80 163.62C539.37 163.81 541.72 164.06 542.50 164.14" stroke-width="0.6" stroke-opacity="1.0"/>
<path d="M307.60 123.00C308.38 123.09 310.73 123.34 312.30 123.52C313.86 123.69 315.43 123.87 317.00 124.06C318.56 124.24 320.13 124.43 321.69 124.62C323.26 124.82 324.83 125.02 326.39 125.22C327.96 125.42 329.52 125.62 331.09 125.83C332.66 126.04 334.22 126.26 335.79 126.47C337.35 126.69 338.92 126.91 340.49 127.13C342.05 127.36 343.62 127.59 345.18 127.82C346.75 128.05 348.32 128.29 349.88 128.53C351.45 128.77 353.01 129.01 354.58 129.25C356.15 129.50 357.71 129.75 359.28 130.00C360.84 130.25 362.41 130.51 363.98 130.77C365.54 131.03 367.11 131.29 368.67 131.56C370.24 131.82 371.81 132.09 373.37 132.36C374.94 132.64 376.50 132.91 378.07 133.19C379.64 133.47 381.20 133.75 382.77 134.03C384.33 134.31 385.90 134.60 387.47 134.89C389.03 135.18 390.60 135.47 392.16 135.76C393.73 136.06 395.30 136.36 396.86 136.66C398.43 136.96 399.99 137.26 401.56 137.56C403.13 137.87 404.69 138.17 406.26 138.48C407.82 138.79 409.39 139.10 410.96 139.42C412.52 139.73 414.09 140.05 415.65 140.37C417.22 140.68 418.79 141.01 420.35 141.33C421.92 141.65 423.48 141.97 425.05 142.30C426.62 142.63 428.18 142.96 429.75 143.29C431.31 143.62 432.88 143.95 434.45 144.28C436.01 144.62 437.58 144.95 439.14 145.29C440.71 145.63 442.28 145.96 443.84 146.31C445.41 146.65 446.97 146.99 448.54 147.33C450.11 147.67 451.67 148.02 453.24 148.37C454.80 148.71 456.37 149.06 457.94 149.41C459.50 149.76 461.07 150.11 462.63 150.46C464.20 150.81 465.77 151.16 467.33 151.51C468.90 151.87 470.46 152.22 472.03 152.58C473.60 152.93 475.16 153.29 476.73 153.65C478.29 154.00 479.86 154.36 481.43 154.72C482.99 155.08 484.56 155.44 486.12 155.80C487.69 156.16 489.26 156.52 490.82 156.88C492.39 157.24 493.95 157.60 495.52 157.97C497.09 158.33 498.65 158.69 500.22 159.05C501.78 159.42 503.35 159.78 504.92 160.14C506.48 160.51 508.05 160.87 509.61 161.24C511.18 161.60 512.75 161.96 514.31 162.33C515.88 162.69 517.44 163.06 519.01 163.42C520.58 163.79 522.14 164.15 523.71 164.51C525.27 164.88 526.84 165.24 528.41 165.61C529.97 165.97 531.54 166.33 533.10 166.70C534.67 167.06 536.24 167.42 537.80 167.78C539.37 168.15 541.72 168.69 542.50 168.87" stroke-width="0.6" stroke-opacity="1.0"/>
<path d="M307.60 99.00C308.38 98.96 310.73 98.85 312.30 98.77C313.86 98.70 315.43 98.62 317.00 98.54C318.56 98.47 320.13 98.39 321.69 98.31C323.26 98.23 324.83 98.15 326.39 98.08C327.96 98.00 329.52 97.92 331.09 97.85C332.66 97.77 334.22 97.69 335.79 97.62C337.35 97.54 338.92 97.47 340.49 97.40C342.05 97.33 343.62 97.25 345.18 97.19C346.75 97.12 348.32 97.05 349.88 96.99C351.45 96.92 353.01 96.86 354.58 96.80C356.15 96.74 357.71 96.68 359.28 96.62C360.84 96.57 362.41 96.52 363.98 96.47C365.54 96.42 367.11 96.37 368.67 96.33C370.24 96.29 371.81 96.25 373.37 96.22C374.94 96.18 376.50 96.15 378.07 96.13C379.64 96.10 381.20 96.08 382.77 96.06C384.33 96.04 385.90 96.03 387.47 96.02C389.03 96.02 390.60 96.01 392.16 96.02C393.73 96.02 395.30 96.03 396.86 96.04C398.43 96.06 399.99 96.08 401.56 96.10C403.13 96.13 404.69 96.16 406.26 96.20C407.82 96.24 409.39 96.28 410.96 96.34C412.52 96.39 414.09 96.45 415.65 96.51C417.22 96.58 418.79 96.65 420.35 96.73C421.92 96.81 423.48 96.90 425.05 97.00C426.62 97.09 428.18 97.20 429.75 97.31C431.31 97.42 432.88 97.54 434.45 97.67C436.01 97.80 437.58 97.94 439.14 98.09C440.71 98.23 442.28 98.39 443.84 98.55C445.41 98.72 446.97 98.89 448.54 99.08C450.11 99.26 451.67 99.46 453.24 99.66C454.80 99.87 456.37 100.08 457.94 100.30C459.50 100.53 461.07 100.76 462.63 101.01C464.20 101.26 465.77 101.51 467.33 101.78C468.90 102.05 470.46 102.33 472.03 102.62C473.60 102.91 475.16 103.21 476.73 103.52C478.29 103.84 479.86 104.16 481.43 104.50C482.99 104.84 484.56 105.19 486.12 105.55C487.69 105.92 489.26 106.29 490.82 106.68C492.39 107.07 493.95 107.47 495.52 107.89C497.09 108.30 498.65 108.73 500.22 109.17C501.78 109.61 503.35 110.07 504.92 110.54C506.48 111.01 508.05 111.49 509.61 111.99C511.18 112.49 512.75 113.00 514.31 113.53C515.88 114.05 517.44 114.59 519.01 115.15C520.58 115.71 522.14 116.28 523.71 116.87C525.27 117.46 526.84 118.06 528.41 118.68C529.97 119.30 531.54 119.93 533.10 120.58C534.67 121.23 536.24 121.90 537.80 122.58C539.37 123.27 541.72 124.34 542.50 124.69" stroke-width="0.6" stroke-opacity="1.0"/>
<path d="M307.60 99.00C308.38 98.95 310.73 98.78 312.30 98.69C313.86 98.60 315.43 98.51 317.00 98.44C318.56 98.36 320.13 98.30 321.69 98.24C323.26 98.19 324.83 98.14 326.39 98.10C327.96 98.06 329.52 98.03 331.09 98.01C332.66 97.99 334.22 97.98 335.79 97.97C337.35 97.97 338.92 97.98 340.49 97.99C342.05 98.00 343.62 98.02 345.18 98.05C346.75 98.08 348.32 98.12 349.88 98.16C351.45 98.21 353.01 98.26 354.58 98.32C356.15 98.38 357.71 98.45 359.28 98.52C360.84 98.60 362.41 98.68 363.98 98.77C365.54 98.86 367.11 98.96 368.67 99.06C370.24 99.17 371.81 99.28 373.37 99.39C374.94 99.51 376.50 99.64 378.07 99.77C379.64 99.90 381.20 100.04 382.77 100.18C384.33 100.32 385.90 100.47 387.47 100.63C389.03 100.78 390.60 100.95 392.16 101.11C393.73 101.28 395.30 101.46 396.86 101.63C398.43 101.81 399.99 102.00 401.56 102.19C403.13 102.38 404.69 102.58 406.26 102.78C407.82 102.98 409.39 103.19 410.96 103.40C412.52 103.61 414.09 103.82 415.65 104.05C417.22 104.27 418.79 104.49 420.35 104.72C421.92 104.95 423.48 105.19 425.05 105.43C426.62 105.67 428.18 105.91 429.75 106.16C431.31 106.41 432.88 106.66 434.45 106.92C436.01 107.17 437.58 107.43 439.14 107.70C440.71 107.96 442.28 108.23 443.84 108.50C445.41 108.77 446.97 109.05 448.54 109.33C450.11 109.60 451.67 109.88 453.24 110.17C454.80 110.45 456.37 110.74 457.94 111.03C459.50 111.32 461.07 111.62 462.63 111.91C464.20 112.21 465.77 112.51 467.33 112.81C468.90 113.11 470.46 113.41 472.03 113.72C473.60 114.02 475.16 114.33 476.73 114.64C478.29 114.95 479.86 115.26 481.43 115.58C482.99 115.89 484.56 116.21 486.12 116.52C487.69 116.84 489.26 117.16 490.82 117.48C492.39 117.80 493.95 118.12 495.52 118.44C497.09 118.77 498.65 119.09 500.22 119.42C501.78 119.74 503.35 120.07 504.92 120.39C506.48 120.72 508.05 121.05 509.61 121.37C511.18 121.70 512.75 122.03 514.31 122.36C515.88 122.69 517.44 123.02 519.01 123.35C520.58 123.67 522.14 124.00 523.71 124.33C525.27 124.66 526.84 124.99 528.41 125.32C529.97 125.65 531.54 125.98 533.10 126.30C534.67 126.63 536.24 126.96 537.80 127.29C539.37 127.61 541.72 128.10 542.50 128.26" stroke-width="0.6" stroke-opacity="1.0"/>
<path d="M307.60 99.00C308.38 98.98 310.73 98.89 312.30 98.86C313.86 98.82 315.43 98.79 317.00 98.77C318.56 98.76 320.13 98.75 321.69 98.75C323.26 98.76 324.83 98.77 326.39 98.79C327.96 98.81 329.52 98.84 331.09 98.88C332.66 98.92 334.22 98.97 335.79 99.03C337.35 99.09 338.92 99.16 340.49 99.24C342.05 99.31 343.62 99.40 345.18 99.49C346.75 99.59 348.32 99.69 349.88 99.80C351.45 99.91 353.01 100.03 354.58 100.15C356.15 100.28 357.71 100.42 359.28 100.56C360.84 100.70 362.41 100.85 363.98 101.01C365.54 101.16 367.11 101.33 368.67 101.50C370.24 101.67 371.81 101.85 373.37 102.04C374.94 102.22 376.50 102.42 378.07 102.62C379.64 102.82 381.20 103.02 382.77 103.24C384.33 103.45 385.90 103.67 387.47 103.89C389.03 104.12 390.60 104.35 392.16 104.59C393.73 104.82 395.30 105.07 396.86 105.32C398.43 105.56 399.99 105.82 401.56 106.08C403.13 106.34 404.69 106.60 406.26 106.87C407.82 107.14 409.39 107.42 410.96 107.70C412.52 107.98 414.09 108.26 415.65 108.55C417.22 108.84 418.79 109.14 420.35 109.43C421.92 109.73 423.48 110.04 425.05 110.34C426.62 110.65 428.18 110.96 429.75 111.27C431.31 111.59 432.88 111.91 434.45 112.23C436.01 112.55 437.58 112.88 439.14 113.21C440.71 113.53 442.28 113.87 443.84 114.20C445.41 114.54 446.97 114.87 448.54 115.22C450.11 115.56 451.67 115.90 453.24 116.25C454.80 116.59 456.37 116.94 457.94 117.29C459.50 117.64 461.07 118.00 462.63 118.35C464.20 118.71 465.77 119.06 467.33 119.42C468.90 119.78 470.46 120.14 472.03 120.50C473.60 120.86 475.16 121.23 476.73 121.59C478.29 121.96 479.86 122.32 481.43 122.69C482.99 123.06 484.56 123.42 486.12 123.79C487.69 124.16 489.26 124.53 490.82 124.90C492.39 125.27 493.95 125.64 495.52 126.01C497.09 126.38 498.65 126.75 500.22 127.12C501.78 127.49 503.35 127.86 504.92 128.23C506.48 128.60 508.05 128.97 509.61 129.34C511.18 129.71 512.75 130.07 514.31 130.44C515.88 130.81 517.44 131.17 519.01 131.54C520.58 131.91 522.14 132.27 523.71 132.63C525.27 132.99 526.84 133.36 528.41 133.72C529.97 134.08 531.54 134.43 533.10 134.79C534.67 135.15 536.24 135.50 537.80 135.85C539.37 136.20 541.72 136.73 542.50 136.90" stroke-width="0.6" stroke-opacity="1.0"/>
<path d="M307.60 99.00C308.38 99.02 310.73 99.06 312.30 99.10C313.86 99.14 315.43 99.19 317.00 99.25C318.56 99.31 320.13 99.38 321.69 99.45C323.26 99.53 324.83 99.61 326.39 99.70C327.96 99.79 329.52 99.89 331.09 100.00C332.66 100.11 334.22 100.22 335.79 100.34C337.35 100.47 338.92 100.60 340.49 100.73C342.05 100.87 343.62 101.02 345.18 101.17C346.75 101.32 348.32 101.48 349.88 101.64C351.45 101.81 353.01 101.98 354.58 102.16C356.15 102.33 357.71 102.52 359.28 102.71C360.84 102.90 362.41 103.10 363.98 103.30C365.54 103.50 367.11 103.71 368.67 103.93C370.24 104.14 371.81 104.36 373.37 104.59C374.94 104.82 376.50 105.05 378.07 105.28C379.64 105.52 381.20 105.76 382.77 106.01C384.33 106.26 385.90 106.51 387.47 106.77C389.03 107.02 390.60 107.29 392.16 107.55C393.73 107.82 395.30 108.09 396.86 108.36C398.43 108.64 399.99 108.92 401.56 109.20C403.13 109.49 404.69 109.77 406.26 110.07C407.82 110.36 409.39 110.65 410.96 110.95C412.52 111.25 414.09 111.55 415.65 111.86C417.22 112.16 418.79 112.47 420.35 112.78C421.92 113.09 423.48 113.41 425.05 113.73C426.62 114.04 428.18 114.36 429.75 114.69C431.31 115.01 432.88 115.34 434.45 115.66C436.01 115.99 437.58 116.32 439.14 116.65C440.71 116.99 442.28 117.32 443.84 117.66C445.41 117.99 446.97 118.33 448.54 118.67C450.11 119.01 451.67 119.35 453.24 119.69C454.80 120.04 456.37 120.38 457.94 120.73C459.50 121.07 461.07 121.42 462.63 121.76C464.20 122.11 465.77 122.46 467.33 122.81C468.90 123.16 470.46 123.50 472.03 123.85C473.60 124.20 475.16 124.55 476.73 124.90C478.29 125.25 479.86 125.60 481.43 125.95C482.99 126.30 484.56 126.65 486.12 127.00C487.69 127.35 489.26 127.70 490.82 128.05C492.39 128.40 493.95 128.74 495.52 129.09C497.09 129.44 498.65 129.78 500.22 130.13C501.78 130.47 503.35 130.82 504.92 131.16C506.48 131.50 508.05 131.84 509.61 132.18C511.18 132.52 512.75 132.86 514.31 133.19C515.88 133.53 517.44 133.86 519.01 134.20C520.58 134.53 522.14 134.86 523.71 135.19C525.27 135.51 526.84 135.84 528.41 136.16C529.97 136.48 531.54 136.80 533.10 137.12C534.67 137.44 536.24 137.75 537.80 138.07C539.37 138.38 541.72 138.84 542.50 138.99" stroke-width="0.6" stroke-opacity="1.0"/>
<path d="M307.60 99.00C308.38 99.11 310.73 99.46 312.30 99.69C313.86 99.92 315.43 100.14 317.00 100.37C318.56 100.59 320.13 100.82 321.69 101.04C323.26 101.26 324.83 101.49 326.39 101.71C327.96 101.93 329.52 102.15 331.09 102.36C332.66 102.58 334.22 102.80 335.79 103.02C337.35 103.23 338.92 103.45 340.49 103.67C342.05 103.88 343.62 104.10 345.18 104.31C346.75 104.53 348.32 104.74 349.88 104.96C351.45 105.17 353.01 105.38 354.58 105.60C356.15 105.81 357.71 106.03 359.28 106.24C360.84 106.45 362.41 106.67 363.98 106.88C365.54 107.10 367.11 107.31 368.67 107.53C370.24 107.74 371.81 107.96 373.37 108.17C374.94 108.39 376.50 108.61 378.07 108.83C379.64 109.04 381.20 109.26 382.77 109.48C384.33 109.70 385.90 109.92 387.47 110.14C389.03 110.36 390.60 110.59 392.16 110.81C393.73 111.04 395.30 111.26 396.86 111.49C398.43 111.71 399.99 111.94 401.56 112.17C403.13 112.40 404.69 112.63 406.26 112.87C407.82 113.10 409.39 113.33 410.96 113.57C412.52 113.81 414.09 114.05 415.65 114.29C417.22 114.53 418.79 114.77 420.35 115.02C421.92 115.26 423.48 115.51 425.05 115.76C426.62 116.01 428.18 116.26 429.75 116.52C431.31 116.78 432.88 117.03 434.45 117.29C436.01 117.55 437.58 117.82 439.14 118.08C440.71 118.35 442.28 118.62 443.84 118.89C445.41 119.17 446.97 119.44 448.54 119.72C450.11 120.00 451.67 120.28 453.24 120.57C454.80 120.85 456.37 121.14 457.94 121.43C459.50 121.73 461.07 122.02 462.63 122.32C464.20 122.62 465.77 122.93 467.33 123.23C468.90 123.54 470.46 123.85 472.03 124.17C473.60 124.49 475.16 124.81 476.73 125.13C478.29 125.45 479.86 125.78 481.43 126.12C482.99 126.45 484.56 126.79 486.12 127.13C487.69 127.47 489.26 127.82 490.82 128.17C492.39 128.52 493.95 128.88 495.52 129.24C497.09 129.60 498.65 129.97 500.22 130.34C501.78 130.71 503.35 131.08 504.92 131.47C506.48 131.85 508.05 132.23 509.61 132.63C511.18 133.02 512.75 133.42 514.31 133.82C515.88 134.22 517.44 134.63 519.01 135.05C520.58 135.46 522.14 135.88 523.71 136.31C525.27 136.74 526.84 137.17 528.41 137.61C529.97 138.05 531.54 138.49 533.10 138.94C534.67 139.39 536.24 139.85 537.80 140.32C539.37 140.78 541.72 141.49 542.50 141.73" stroke-width="0.6" stroke-opacity="1.0"/>
<path d="M307.60 99.00C308.38 99.20 310.73 99.80 312.30 100.19C313.86 100.59 315.43 100.97 317.00 101.35C318.56 101.73 320.13 102.10 321.69 102.46C323.26 102.83 324.83 103.19 326.39 103.54C327.96 103.89 329.52 104.24 331.09 104.58C332.66 104.92 334.22 105.26 335.79 105.59C337.35 105.92 338.92 106.25 340.49 106.57C342.05 106.89 343.62 107.20 345.18 107.52C346.75 107.83 348.32 108.13 349.88 108.44C351.45 108.74 353.01 109.04 354.58 109.33C356.15 109.63 357.71 109.92 359.28 110.20C360.84 110.49 362.41 110.77 363.98 111.06C365.54 111.34 367.11 111.61 368.67 111.89C370.24 112.16 371.81 112.43 373.37 112.70C374.94 112.97 376.50 113.23 378.07 113.50C379.64 113.76 381.20 114.02 382.77 114.28C384.33 114.54 385.90 114.80 387.47 115.06C389.03 115.31 390.60 115.57 392.16 115.82C393.73 116.07 395.30 116.32 396.86 116.57C398.43 116.82 399.99 117.07 401.56 117.32C403.13 117.57 404.69 117.82 406.26 118.07C407.82 118.32 409.39 118.57 410.96 118.81C412.52 119.06 414.09 119.31 415.65 119.56C417.22 119.81 418.79 120.05 420.35 120.30C421.92 120.55 423.48 120.80 425.05 121.05C426.62 121.30 428.18 121.56 429.75 121.81C431.31 122.06 432.88 122.32 434.45 122.57C436.01 122.83 437.58 123.09 439.14 123.35C440.71 123.61 442.28 123.87 443.84 124.13C445.41 124.40 446.97 124.66 448.54 124.93C450.11 125.20 451.67 125.47 453.24 125.75C454.80 126.02 456.37 126.30 457.94 126.58C459.50 126.86 461.07 127.15 462.63 127.44C464.20 127.72 465.77 128.01 467.33 128.31C468.90 128.61 470.46 128.90 472.03 129.21C473.60 129.51 475.16 129.82 476.73 130.13C478.29 130.44 479.86 130.76 481.43 131.08C482.99 131.41 484.56 131.73 486.12 132.06C487.69 132.40 489.26 132.73 490.82 133.08C492.39 133.42 493.95 133.77 495.52 134.12C497.09 134.48 498.65 134.84 500.22 135.20C501.78 135.57 503.35 135.94 504.92 136.32C506.48 136.70 508.05 137.09 509.61 137.48C511.18 137.87 512.75 138.27 514.31 138.68C515.88 139.09 517.44 139.50 519.01 139.92C520.58 140.34 522.14 140.77 523.71 141.21C525.27 141.65 526.84 142.09 528.41 142.54C529.97 143.00 531.54 143.46 533.10 143.93C534.67 144.40 536.24 144.88 537.80 145.36C539.37 145.85 541.72 146.60 542.50 146.85" stroke-width="0.6" stroke-opacity="1.0"/>
<path d="M307.60 75.00C308.38 74.96 310.73 74.85 312.30 74.77C313.86 74.70 315.43 74.62 317.00 74.54C318.56 74.47 320.13 74.39 321.69 74.31C323.26 74.23 324.83 74.15 326.39 74.08C327.96 74.00 329.52 73.92 331.09 73.85C332.66 73.77 334.22 73.69 335.79 73.62C337.35 73.54 338.92 73.47 340.49 73.40C342.05 73.33 343.62 73.25 345.18 73.19C346.75 73.12 348.32 73.05 349.88 72.99C351.45 72.92 353.01 72.86 354.58 72.80C356.15 72.74 357.71 72.68 359.28 72.62C360.84 72.57 362.41 72.52 363.98 72.47C365.54 72.42 367.11 72.37 368.67 72.33C370.24 72.29 371.81 72.25 373.37 72.22C374.94 72.18 376.50 72.15 378.07 72.13C379.64 72.10 381.20 72.08 382.77 72.06C384.33 72.04 385.90 72.03 387.47 72.02C389.03 72.02 390.60 72.01 392.16 72.02C393.73 72.02 395.30 72.03 396.86 72.04C398.43 72.06 399.99 72.08 401.56 72.10C403.13 72.13 404.69 72.16 406.26 72.20C407.82 72.24 409.39 72.28 410.96 72.34C412.52 72.39 414.09 72.45 415.65 72.51C417.22 72.58 418.79 72.65 420.35 72.73C421.92 72.81 423.48 72.90 425.05 73.00C426.62 73.09 428.18 73.20 429.75 73.31C431.31 73.42 432.88 73.54 434.45 73.67C436.01 73.80 437.58 73.94 439.14 74.09C440.71 74.23 442.28 74.39 443.84 74.55C445.41 74.72 446.97 74.89 448.54 75.08C450.11 75.26 451.67 75.46 453.24 75.66C454.80 75.87 456.37 76.08 457.94 76.30C459.50 76.53 461.07 76.76 462.63 77.01C464.20 77.26 465.77 77.51 467.33 77.78C468.90 78.05 470.46 78.33 472.03 78.62C473.60 78.91 475.16 79.21 476.73 79.52C478.29 79.84 479.86 80.16 481.43 80.50C482.99 80.84 484.56 81.19 486.12 81.55C487.69 81.92 489.26 82.29 490.82 82.68C492.39 83.07 493.95 83.47 495.52 83.89C497.09 84.30 498.65 84.73 500.22 85.17C501.78 85.61 503.35 86.07 504.92 86.54C506.48 87.01 508.05 87.49 509.61 87.99C511.18 88.49 512.75 89.00 514.31 89.53C515.88 90.05 517.44 90.59 519.01 91.15C520.58 91.71 522.14 92.28 523.71 92.87C525.27 93.46 526.84 94.06 528.41 94.68C529.97 95.30 531.54 95.93 533.10 96.58C534.67 97.23 536.24 97.90 537.80 98.58C539.37 99.27 541.72 100.34 542.50 100.69" stroke-width="0.6" stroke-opacity="1.0"/>
<path d="M307.60 75.00C308.38 74.94 310.73 74.75 312.30 74.63C313.86 74.52 315.43 74.41 317.00 74.30C318.56 74.20 320.13 74.10 321.69 74.02C323.26 73.93 324.83 73.84 326.39 73.77C327.96 73.69 329.52 73.62 331.09 73.56C332.66 73.50 334.22 73.44 335.79 73.39C337.35 73.35 338.92 73.30 340.49 73.27C342.05 73.23 343.62 73.20 345.18 73.18C346.75 73.16 348.32 73.14 349.88 73.13C351.45 73.12 353.01 73.12 354.58 73.13C356.15 73.13 357.71 73.14 359.28 73.16C360.84 73.18 362.41 73.20 363.98 73.23C365.54 73.26 367.11 73.30 368.67 73.34C370.24 73.39 371.81 73.44 373.37 73.50C374.94 73.55 376.50 73.62 378.07 73.69C379.64 73.76 381.20 73.83 382.77 73.92C384.33 74.00 385.90 74.09 387.47 74.19C389.03 74.28 390.60 74.39 392.16 74.50C393.73 74.60 395.30 74.72 396.86 74.84C398.43 74.97 399.99 75.09 401.56 75.23C403.13 75.37 404.69 75.51 406.26 75.66C407.82 75.80 409.39 75.96 410.96 76.12C412.52 76.28 414.09 76.45 415.65 76.63C417.22 76.80 418.79 76.98 420.35 77.17C421.92 77.35 423.48 77.55 425.05 77.75C426.62 77.95 428.18 78.16 429.75 78.37C431.31 78.58 432.88 78.80 434.45 79.03C436.01 79.25 437.58 79.48 439.14 79.72C440.71 79.96 442.28 80.21 443.84 80.46C445.41 80.71 446.97 80.97 448.54 81.23C450.11 81.50 451.67 81.77 453.24 82.04C454.80 82.32 456.37 82.60 457.94 82.89C459.50 83.18 461.07 83.48 462.63 83.78C464.20 84.08 465.77 84.39 467.33 84.71C468.90 85.02 470.46 85.34 472.03 85.67C473.60 86.00 475.16 86.33 476.73 86.67C478.29 87.01 479.86 87.36 481.43 87.71C482.99 88.06 484.56 88.42 486.12 88.79C487.69 89.15 489.26 89.52 490.82 89.90C492.39 90.28 493.95 90.66 495.52 91.05C497.09 91.44 498.65 91.84 500.22 92.24C501.78 92.64 503.35 93.05 504.92 93.47C506.48 93.88 508.05 94.30 509.61 94.73C511.18 95.16 512.75 95.59 514.31 96.03C515.88 96.47 517.44 96.92 519.01 97.37C520.58 97.82 522.14 98.28 523.71 98.74C525.27 99.21 526.84 99.68 528.41 100.15C529.97 100.63 531.54 101.11 533.10 101.60C534.67 102.09 536.24 102.59 537.80 103.09C539.37 103.59 541.72 104.36 542.50 104.61" stroke-width="0.6" stroke-opacity="1.0"/>
<path d="M307.60 75.00C308.38 74.95 310.73 74.81 312.30 74.72C313.86 74.64 315.43 74.56 317.00 74.49C318.56 74.41 320.13 74.35 321.69 74.29C323.26 74.23 324.83 74.18 326.39 74.14C327.96 74.09 329.52 74.06 331.09 74.02C332.66 73.99 334.22 73.97 335.79 73.95C337.35 73.93 338.92 73.92 340.49 73.92C342.05 73.92 343.62 73.92 345.18 73.93C346.75 73.94 348.32 73.95 349.88 73.98C351.45 74.00 353.01 74.03 354.58 74.06C356.15 74.10 357.71 74.14 359.28 74.19C360.84 74.24 362.41 74.30 363.98 74.36C365.54 74.42 367.11 74.49 368.67 74.56C370.24 74.64 371.81 74.72 373.37 74.81C374.94 74.89 376.50 74.99 378.07 75.09C379.64 75.19 381.20 75.30 382.77 75.41C384.33 75.52 385.90 75.64 387.47 75.77C389.03 75.89 390.60 76.02 392.16 76.16C393.73 76.30 395.30 76.44 396.86 76.59C398.43 76.74 399.99 76.90 401.56 77.06C403.13 77.22 404.69 77.39 406.26 77.57C407.82 77.74 409.39 77.92 410.96 78.11C412.52 78.30 414.09 78.49 415.65 78.69C417.22 78.89 418.79 79.09 420.35 79.30C421.92 79.51 423.48 79.73 425.05 79.95C426.62 80.17 428.18 80.40 429.75 80.64C431.31 80.87 432.88 81.11 434.45 81.36C436.01 81.60 437.58 81.85 439.14 82.11C440.71 82.37 442.28 82.63 443.84 82.90C445.41 83.17 446.97 83.44 448.54 83.72C450.11 84.00 451.67 84.29 453.24 84.58C454.80 84.87 456.37 85.17 457.94 85.47C459.50 85.77 461.07 86.08 462.63 86.40C464.20 86.71 465.77 87.03 467.33 87.35C468.90 87.68 470.46 88.01 472.03 88.34C473.60 88.68 475.16 89.02 476.73 89.37C478.29 89.71 479.86 90.07 481.43 90.42C482.99 90.78 484.56 91.14 486.12 91.51C487.69 91.88 489.26 92.25 490.82 92.63C492.39 93.01 493.95 93.39 495.52 93.78C497.09 94.17 498.65 94.56 500.22 94.96C501.78 95.36 503.35 95.77 504.92 96.18C506.48 96.59 508.05 97.00 509.61 97.42C511.18 97.84 512.75 98.27 514.31 98.70C515.88 99.13 517.44 99.56 519.01 100.00C520.58 100.44 522.14 100.89 523.71 101.34C525.27 101.78 526.84 102.24 528.41 102.70C529.97 103.16 531.54 103.62 533.10 104.09C534.67 104.56 536.24 105.04 537.80 105.52C539.37 106.00 541.72 106.73 542.50 106.97" stroke-width="0.6" stroke-opacity="1.0"/>
<path d="M307.60 75.00C308.38 74.95 310.73 74.78 312.30 74.69C313.86 74.60 315.43 74.52 317.00 74.46C318.56 74.39 320.13 74.33 321.69 74.29C323.26 74.25 324.83 74.21 326.39 74.19C327.96 74.17 329.52 74.16 331.09 74.16C332.66 74.16 334.22 74.17 335.79 74.19C337.35 74.21 338.92 74.24 340.49 74.29C342.05 74.33 343.62 74.38 345.18 74.44C346.75 74.50 348.32 74.57 349.88 74.65C351.45 74.73 353.01 74.82 354.58 74.92C356.15 75.02 357.71 75.13 359.28 75.25C360.84 75.36 362.41 75.49 363.98 75.62C365.54 75.76 367.11 75.90 368.67 76.05C370.24 76.20 371.81 76.36 373.37 76.52C374.94 76.69 376.50 76.86 378.07 77.05C379.64 77.23 381.20 77.42 382.77 77.61C384.33 77.81 385.90 78.01 387.47 78.22C389.03 78.43 390.60 78.65 392.16 78.87C393.73 79.10 395.30 79.33 396.86 79.56C398.43 79.80 399.99 80.04 401.56 80.29C403.13 80.54 404.69 80.79 406.26 81.05C407.82 81.31 409.39 81.57 410.96 81.84C412.52 82.12 414.09 82.39 415.65 82.67C417.22 82.95 418.79 83.24 420.35 83.53C421.92 83.82 423.48 84.11 425.05 84.41C426.62 84.71 428.18 85.01 429.75 85.32C431.31 85.62 432.88 85.93 434.45 86.25C436.01 86.56 437.58 86.88 439.14 87.20C440.71 87.52 442.28 87.85 443.84 88.17C445.41 88.50 446.97 88.83 448.54 89.16C450.11 89.50 451.67 89.83 453.24 90.17C454.80 90.51 456.37 90.85 457.94 91.19C459.50 91.53 461.07 91.88 462.63 92.22C464.20 92.57 465.77 92.92 467.33 93.26C468.90 93.61 470.46 93.96 472.03 94.31C473.60 94.67 475.16 95.02 476.73 95.37C478.29 95.72 479.86 96.08 481.43 96.43C482.99 96.78 484.56 97.14 486.12 97.49C487.69 97.85 489.26 98.20 490.82 98.56C492.39 98.91 493.95 99.26 495.52 99.62C497.09 99.97 498.65 100.32 500.22 100.67C501.78 101.03 503.35 101.38 504.92 101.73C506.48 102.07 508.05 102.42 509.61 102.77C511.18 103.12 512.75 103.46 514.31 103.81C515.88 104.15 517.44 104.49 519.01 104.83C520.58 105.17 522.14 105.50 523.71 105.84C525.27 106.17 526.84 106.51 528.41 106.83C529.97 107.16 531.54 107.49 533.10 107.81C534.67 108.14 536.24 108.46 537.80 108.77C539.37 109.09 541.72 109.55 542.50 109.71" stroke-width="0.6" stroke-opacity="1.0"/>
<path d="M307.60 75.00C308.38 74.94 310.73 74.76 312.30 74.66C313.86 74.57 315.43 74.49 317.00 74.43C318.56 74.37 320.13 74.32 321.69 74.29C323.26 74.26 324.83 74.25 326.39 74.25C327.96 74.25 329.52 74.27 331.09 74.30C332.66 74.33 334.22 74.38 335.79 74.43C337.35 74.49 338.92 74.57 340.49 74.65C342.05 74.74 343.62 74.84 345.18 74.95C346.75 75.07 348.32 75.19 349.88 75.33C351.45 75.47 353.01 75.62 354.58 75.78C356.15 75.94 357.71 76.12 359.28 76.30C360.84 76.48 362.41 76.68 363.98 76.88C365.54 77.09 367.11 77.31 368.67 77.53C370.24 77.76 371.81 77.99 373.37 78.24C374.94 78.48 376.50 78.74 378.07 79.00C379.64 79.26 381.20 79.53 382.77 79.81C384.33 80.09 385.90 80.38 387.47 80.67C389.03 80.97 390.60 81.27 392.16 81.58C393.73 81.89 395.30 82.21 396.86 82.53C398.43 82.85 399.99 83.18 401.56 83.51C403.13 83.85 404.69 84.18 406.26 84.53C407.82 84.87 409.39 85.22 410.96 85.58C412.52 85.93 414.09 86.29 415.65 86.65C417.22 87.01 418.79 87.38 420.35 87.75C421.92 88.12 423.48 88.49 425.05 88.87C426.62 89.24 428.18 89.62 429.75 90.00C431.31 90.38 432.88 90.76 434.45 91.15C436.01 91.53 437.58 91.92 439.14 92.30C440.71 92.69 442.28 93.08 443.84 93.46C445.41 93.85 446.97 94.24 448.54 94.63C450.11 95.01 451.67 95.40 453.24 95.79C454.80 96.17 456.37 96.56 457.94 96.94C459.50 97.32 461.07 97.71 462.63 98.09C464.20 98.47 465.77 98.84 467.33 99.22C468.90 99.59 470.46 99.97 472.03 100.34C473.60 100.70 475.16 101.07 476.73 101.43C478.29 101.80 479.86 102.15 481.43 102.51C482.99 102.86 484.56 103.21 486.12 103.55C487.69 103.90 489.26 104.24 490.82 104.57C492.39 104.91 493.95 105.23 495.52 105.55C497.09 105.88 498.65 106.19 500.22 106.50C501.78 106.81 503.35 107.11 504.92 107.40C506.48 107.70 508.05 107.99 509.61 108.26C511.18 108.54 512.75 108.81 514.31 109.08C515.88 109.34 517.44 109.59 519.01 109.84C520.58 110.08 522.14 110.32 523.71 110.54C525.27 110.77 526.84 110.98 528.41 111.19C529.97 111.39 531.54 111.59 533.10 111.77C534.67 111.95 536.24 112.13 537.80 112.29C539.37 112.45 541.72 112.66 542.50 112.73" stroke-width="0.6" stroke-opacity="1.0"/>
<path d="M307.60 75.00C308.38 74.97 310.73 74.86 312.30 74.81C313.86 74.76 315.43 74.73 317.00 74.72C318.56 74.70 320.13 74.70 321.69 74.71C323.26 74.73 324.83 74.76 326.39 74.80C327.96 74.84 329.52 74.90 331.09 74.97C332.66 75.04 334.22 75.12 335.79 75.22C337.35 75.32 338.92 75.43 340.49 75.55C342.05 75.67 343.62 75.81 345.18 75.96C346.75 76.10 348.32 76.26 349.88 76.43C351.45 76.60 353.01 76.79 354.58 76.98C356.15 77.17 357.71 77.38 359.28 77.59C360.84 77.80 362.41 78.03 363.98 78.26C365.54 78.49 367.11 78.74 368.67 78.99C370.24 79.24 371.81 79.50 373.37 79.78C374.94 80.05 376.50 80.32 378.07 80.61C379.64 80.90 381.20 81.19 382.77 81.50C384.33 81.80 385.90 82.11 387.47 82.42C389.03 82.74 390.60 83.06 392.16 83.39C393.73 83.72 395.30 84.06 396.86 84.40C398.43 84.74 399.99 85.09 401.56 85.44C403.13 85.80 404.69 86.16 406.26 86.52C407.82 86.88 409.39 87.25 410.96 87.62C412.52 87.99 414.09 88.37 415.65 88.75C417.22 89.13 418.79 89.51 420.35 89.89C421.92 90.28 423.48 90.67 425.05 91.06C426.62 91.45 428.18 91.84 429.75 92.24C431.31 92.63 432.88 93.03 434.45 93.43C436.01 93.83 437.58 94.23 439.14 94.63C440.71 95.03 442.28 95.43 443.84 95.83C445.41 96.23 446.97 96.63 448.54 97.04C450.11 97.44 451.67 97.84 453.24 98.24C454.80 98.64 456.37 99.04 457.94 99.43C459.50 99.83 461.07 100.23 462.63 100.62C464.20 101.01 465.77 101.40 467.33 101.79C468.90 102.18 470.46 102.57 472.03 102.95C473.60 103.33 475.16 103.72 476.73 104.09C478.29 104.47 479.86 104.84 481.43 105.21C482.99 105.58 484.56 105.94 486.12 106.30C487.69 106.66 489.26 107.01 490.82 107.36C492.39 107.71 493.95 108.05 495.52 108.39C497.09 108.73 498.65 109.06 500.22 109.38C501.78 109.71 503.35 110.02 504.92 110.34C506.48 110.65 508.05 110.95 509.61 111.25C511.18 111.54 512.75 111.83 514.31 112.11C515.88 112.39 517.44 112.66 519.01 112.93C520.58 113.19 522.14 113.44 523.71 113.69C525.27 113.93 526.84 114.17 528.41 114.39C529.97 114.62 531.54 114.84 533.10 115.04C534.67 115.25 536.24 115.44 537.80 115.62C539.37 115.81 541.72 116.06 542.50 116.14" stroke-width="0.6" stroke-opacity="1.0"/>
<path d="M307.60 75.00C308.38 75.09 310.73 75.34 312.30 75.52C313.86 75.69 315.43 75.87 317.00 76.06C318.56 76.24 320.13 76.43 321.69 76.62C323.26 76.82 324.83 77.02 326.39 77.22C327.96 77.42 329.52 77.62 331.09 77.83C332.66 78.04 334.22 78.26 335.79 78.47C337.35 78.69 338.92 78.91 340.49 79.13C342.05 79.36 343.62 79.59 345.18 79.82C346.75 80.05 348.32 80.29 349.88 80.53C351.45 80.77 353.01 81.01 354.58 81.25C356.15 81.50 357.71 81.75 359.28 82.00C360.84 82.25 362.41 82.51 363.98 82.77C365.54 83.03 367.11 83.29 368.67 83.56C370.24 83.82 371.81 84.09 373.37 84.36C374.94 84.64 376.50 84.91 378.07 85.19C379.64 85.47 381.20 85.75 382.77 86.03C384.33 86.31 385.90 86.60 387.47 86.89C389.03 87.18 390.60 87.47 392.16 87.76C393.73 88.06 395.30 88.36 396.86 88.66C398.43 88.96 399.99 89.26 401.56 89.56C403.13 89.87 404.69 90.17 406.26 90.48C407.82 90.79 409.39 91.10 410.96 91.42C412.52 91.73 414.09 92.05 415.65 92.37C417.22 92.68 418.79 93.01 420.35 93.33C421.92 93.65 423.48 93.97 425.05 94.30C426.62 94.63 428.18 94.96 429.75 95.29C431.31 95.62 432.88 95.95 434.45 96.28C436.01 96.62 437.58 96.95 439.14 97.29C440.71 97.63 442.28 97.96 443.84 98.31C445.41 98.65 446.97 98.99 448.54 99.33C450.11 99.67 451.67 100.02 453.24 100.37C454.80 100.71 456.37 101.06 457.94 101.41C459.50 101.76 461.07 102.11 462.63 102.46C464.20 102.81 465.77 103.16 467.33 103.51C468.90 103.87 470.46 104.22 472.03 104.58C473.60 104.93 475.16 105.29 476.73 105.65C478.29 106.00 479.86 106.36 481.43 106.72C482.99 107.08 484.56 107.44 486.12 107.80C487.69 108.16 489.26 108.52 490.82 108.88C492.39 109.24 493.95 109.60 495.52 109.97C497.09 110.33 498.65 110.69 500.22 111.05C501.78 111.42 503.35 111.78 504.92 112.14C506.48 112.51 508.05 112.87 509.61 113.24C511.18 113.60 512.75 113.96 514.31 114.33C515.88 114.69 517.44 115.06 519.01 115.42C520.58 115.79 522.14 116.15 523.71 116.51C525.27 116.88 526.84 117.24 528.41 117.61C529.97 117.97 531.54 118.33 533.10 118.70C534.67 119.06 536.24 119.42 537.80 119.78C539.37 120.15 541.72 120.69 542.50 120.87" stroke-width="0.6" stroke-opacity="1.0"/>
</g>
<g clip-path="url(#cf)" fill="none" stroke="#f00" stroke-linejoin="round" stroke-linecap="round">
<path d="M307.60 317.00C309.17 317.00 313.86 317.00 317.00 317.01C320.13 317.02 323.26 317.04 326.39 317.06C329.52 317.08 332.66 317.10 335.79 317.13C338.92 317.16 342.05 317.19 345.18 317.23C348.32 317.27 351.45 317.31 354.58 317.36C357.71 317.41 360.84 317.46 363.98 317.52C367.11 317.58 370.24 317.64 373.37 317.71C376.50 317.78 379.64 317.85 382.77 317.93C385.90 318.00 389.03 318.09 392.16 318.17C395.30 318.26 398.43 318.35 401.56 318.45C404.69 318.55 407.82 318.65 410.96 318.75C414.09 318.86 417.22 318.97 420.35 319.09C423.48 319.20 426.62 319.32 429.75 319.45C432.88 319.57 436.01 319.70 439.14 319.84C442.28 319.98 445.41 320.12 448.54 320.26C451.67 320.41 454.80 320.55 457.94 320.71C461.07 320.86 464.20 321.02 467.33 321.19C470.46 321.35 473.60 321.52 476.73 321.69C479.86 321.87 482.99 322.05 486.12 322.23C489.26 322.41 492.39 322.60 495.52 322.80C498.65 322.99 501.78 323.19 504.92 323.39C508.05 323.59 511.18 323.80 514.31 324.01C517.44 324.23 520.58 324.44 523.71 324.67C526.84 324.89 529.97 325.11 533.10 325.35C536.24 325.58 540.93 325.94 542.50 326.06" stroke-width="1.2" stroke-opacity="1.0"/>
<path d="M307.60 317.00C309.17 317.00 313.86 317.01 317.00 317.02C320.13 317.03 323.26 317.05 326.39 317.08C329.52 317.11 332.66 317.14 335.79 317.18C338.92 317.22 342.05 317.26 345.18 317.32C348.32 317.37 351.45 317.43 354.58 317.50C357.71 317.56 360.84 317.63 363.98 317.71C367.11 317.79 370.24 317.88 373.37 317.97C376.50 318.06 379.64 318.16 382.77 318.27C385.90 318.37 389.03 318.49 392.16 318.61C395.30 318.73 398.43 318.85 401.56 318.98C404.69 319.12 407.82 319.25 410.96 319.40C414.09 319.54 417.22 319.70 420.35 319.86C423.48 320.01 426.62 320.18 429.75 320.35C432.88 320.52 436.01 320.70 439.14 320.89C442.28 321.07 445.41 321.26 448.54 321.46C451.67 321.66 454.80 321.86 457.94 322.08C461.07 322.29 464.20 322.51 467.33 322.73C470.46 322.96 473.60 323.19 476.73 323.42C479.86 323.66 482.99 323.91 486.12 324.16C489.26 324.41 492.39 324.67 495.52 324.93C498.65 325.20 501.78 325.47 504.92 325.74C508.05 326.02 511.18 326.31 514.31 326.60C517.44 326.89 520.58 327.19 523.71 327.49C526.84 327.79 529.97 328.10 533.10 328.42C536.24 328.74 540.93 329.23 542.50 329.39" stroke-width="0.6" stroke-opacity="1.0"/>
<path d="M307.60 317.00C309.17 317.00 313.86 317.01 317.00 317.02C320.13 317.04 323.26 317.06 326.39 317.09C329.52 317.12 332.66 317.16 335.79 317.21C338.92 317.26 342.05 317.31 345.18 317.37C348.32 317.43 351.45 317.50 354.58 317.58C357.71 317.66 360.84 317.74 363.98 317.84C367.11 317.93 370.24 318.03 373.37 318.14C376.50 318.25 379.64 318.36 382.77 318.49C385.90 318.61 389.03 318.74 392.16 318.88C395.30 319.02 398.43 319.17 401.56 319.33C404.69 319.48 407.82 319.64 410.96 319.81C414.09 319.99 417.22 320.16 420.35 320.35C423.48 320.54 426.62 320.73 429.75 320.93C432.88 321.13 436.01 321.34 439.14 321.56C442.28 321.78 445.41 322.00 448.54 322.23C451.67 322.47 454.80 322.71 457.94 322.95C461.07 323.20 464.20 323.46 467.33 323.72C470.46 323.99 473.60 324.26 476.73 324.54C479.86 324.82 482.99 325.10 486.12 325.40C489.26 325.69 492.39 325.99 495.52 326.30C498.65 326.61 501.78 326.93 504.92 327.26C508.05 327.58 511.18 327.92 514.31 328.26C517.44 328.60 520.58 328.95 523.71 329.31C526.84 329.66 529.97 330.03 533.10 330.40C536.24 330.77 540.93 331.35 542.50 331.54" stroke-width="0.6" stroke-opacity="1.0"/>
<path d="M307.60 317.00C309.17 317.00 313.86 317.01 317.00 317.03C320.13 317.04 323.26 317.07 326.39 317.11C329.52 317.14 332.66 317.19 335.79 317.24C338.92 317.29 342.05 317.36 345.18 317.43C348.32 317.50 351.45 317.58 354.58 317.67C357.71 317.76 360.84 317.85 363.98 317.96C367.11 318.07 370.24 318.18 373.37 318.31C376.50 318.43 379.64 318.57 382.77 318.71C385.90 318.85 389.03 319.00 392.16 319.16C395.30 319.32 398.43 319.49 401.56 319.67C404.69 319.85 407.82 320.03 410.96 320.23C414.09 320.43 417.22 320.63 420.35 320.84C423.48 321.06 426.62 321.28 429.75 321.51C432.88 321.74 436.01 321.98 439.14 322.23C442.28 322.48 445.41 322.74 448.54 323.01C451.67 323.27 454.80 323.55 457.94 323.83C461.07 324.12 464.20 324.41 467.33 324.71C470.46 325.02 473.60 325.33 476.73 325.65C479.86 325.97 482.99 326.30 486.12 326.64C489.26 326.97 492.39 327.32 495.52 327.68C498.65 328.03 501.78 328.40 504.92 328.77C508.05 329.15 511.18 329.53 514.31 329.92C517.44 330.31 520.58 330.71 523.71 331.12C526.84 331.53 529.97 331.95 533.10 332.38C536.24 332.80 540.93 333.47 542.50 333.68" stroke-width="0.6" stroke-opacity="1.0"/>
<path d="M307.60 317.00C309.17 317.01 313.86 317.01 317.00 317.03C320.13 317.05 323.26 317.08 326.39 317.12C329.52 317.16 332.66 317.21 335.79 317.27C338.92 317.33 342.05 317.40 345.18 317.48C348.32 317.56 351.45 317.65 354.58 317.75C357.71 317.85 360.84 317.96 363.98 318.08C367.11 318.20 370.24 318.34 373.37 318.48C376.50 318.62 379.64 318.77 382.77 318.93C385.90 319.09 389.03 319.26 392.16 319.44C395.30 319.62 398.43 319.81 401.56 320.01C404.69 320.21 407.82 320.42 410.96 320.65C414.09 320.87 417.22 321.10 420.35 321.34C423.48 321.58 426.62 321.83 429.75 322.09C432.88 322.35 436.01 322.62 439.14 322.90C442.28 323.19 445.41 323.48 448.54 323.78C451.67 324.08 454.80 324.39 457.94 324.71C461.07 325.03 464.20 325.36 467.33 325.71C470.46 326.05 473.60 326.40 476.73 326.76C479.86 327.12 482.99 327.49 486.12 327.88C489.26 328.26 492.39 328.65 495.52 329.05C498.65 329.45 501.78 329.86 504.92 330.29C508.05 330.71 511.18 331.14 514.31 331.58C517.44 332.02 520.58 332.47 523.71 332.94C526.84 333.40 529.97 333.87 533.10 334.35C536.24 334.83 540.93 335.58 542.50 335.83" stroke-width="0.6" stroke-opacity="1.0"/>
<path d="M307.60 317.00C309.17 317.01 313.86 317.01 317.00 317.03C320.13 317.05 323.26 317.09 326.39 317.13C329.52 317.17 332.66 317.22 335.79 317.29C338.92 317.35 342.05 317.43 345.18 317.51C348.32 317.60 351.45 317.69 354.58 317.80C357.71 317.91 360.84 318.03 363.98 318.15C367.11 318.28 370.24 318.42 373.37 318.57C376.50 318.72 379.64 318.88 382.77 319.05C385.90 319.22 389.03 319.40 392.16 319.59C395.30 319.79 398.43 319.99 401.56 320.20C404.69 320.42 407.82 320.64 410.96 320.88C414.09 321.11 417.22 321.36 420.35 321.61C423.48 321.87 426.62 322.14 429.75 322.41C432.88 322.69 436.01 322.98 439.14 323.28C442.28 323.58 445.41 323.89 448.54 324.21C451.67 324.53 454.80 324.86 457.94 325.20C461.07 325.54 464.20 325.89 467.33 326.26C470.46 326.62 473.60 326.99 476.73 327.38C479.86 327.76 482.99 328.16 486.12 328.56C489.26 328.97 492.39 329.39 495.52 329.81C498.65 330.24 501.78 330.68 504.92 331.13C508.05 331.57 511.18 332.03 514.31 332.50C517.44 332.97 520.58 333.45 523.71 333.94C526.84 334.44 529.97 334.94 533.10 335.45C536.24 335.96 540.93 336.76 542.50 337.02" stroke-width="0.6" stroke-opacity="1.0"/>
<path d="M307.60 340.59C309.17 340.60 313.86 340.60 317.00 340.61C320.13 340.62 323.26 340.63 326.39 340.65C329.52 340.67 332.66 340.69 335.79 340.71C338.92 340.74 342.05 340.77 345.18 340.81C348.32 340.84 351.45 340.88 354.58 340.93C357.71 340.97 360.84 341.02 363.98 341.08C367.11 341.13 370.24 341.19 373.37 341.25C376.50 341.31 379.64 341.38 382.77 341.45C385.90 341.52 389.03 341.60 392.16 341.68C395.30 341.76 398.43 341.84 401.56 341.93C404.69 342.02 407.82 342.11 410.96 342.21C414.09 342.31 417.22 342.41 420.35 342.52C423.48 342.62 426.62 342.73 429.75 342.85C432.88 342.97 436.01 343.09 439.14 343.21C442.28 343.34 445.41 343.46 448.54 343.60C451.67 343.73 454.80 343.87 457.94 344.01C461.07 344.15 464.20 344.30 467.33 344.45C470.46 344.60 473.60 344.76 476.73 344.92C479.86 345.08 482.99 345.24 486.12 345.41C489.26 345.58 492.39 345.76 495.52 345.93C498.65 346.11 501.78 346.29 504.92 346.48C508.05 346.67 511.18 346.86 514.31 347.05C517.44 347.25 520.58 347.45 523.71 347.65C526.84 347.86 529.97 348.07 533.10 348.28C536.24 348.50 540.93 348.83 542.50 348.94" stroke-width="1.1" stroke-opacity="1.0"/>
<path d="M307.60 340.59C309.17 340.60 313.86 340.60 317.00 340.61C320.13 340.62 323.26 340.64 326.39 340.66C329.52 340.68 332.66 340.71 335.79 340.74C338.92 340.77 342.05 340.81 345.18 340.85C348.32 340.89 351.45 340.94 354.58 341.00C357.71 341.05 360.84 341.11 363.98 341.17C367.11 341.24 370.24 341.30 373.37 341.38C376.50 341.45 379.64 341.53 382.77 341.62C385.90 341.71 389.03 341.80 392.16 341.89C395.30 341.99 398.43 342.09 401.56 342.20C404.69 342.30 407.82 342.42 410.96 342.53C414.09 342.65 417.22 342.77 420.35 342.90C423.48 343.03 426.62 343.16 429.75 343.30C432.88 343.44 436.01 343.58 439.14 343.73C442.28 343.88 445.41 344.04 448.54 344.20C451.67 344.36 454.80 344.52 457.94 344.69C461.07 344.87 464.20 345.04 467.33 345.22C470.46 345.40 473.60 345.59 476.73 345.78C479.86 345.98 482.99 346.17 486.12 346.38C489.26 346.58 492.39 346.79 495.52 347.00C498.65 347.21 501.78 347.43 504.92 347.66C508.05 347.88 511.18 348.11 514.31 348.35C517.44 348.58 520.58 348.82 523.71 349.07C526.84 349.31 529.97 349.56 533.10 349.82C536.24 350.08 540.93 350.47 542.50 350.60" stroke-width="0.6" stroke-opacity="1.0"/>
<path d="M307.60 340.59C309.17 340.60 313.86 340.60 317.00 340.61C320.13 340.63 323.26 340.64 326.39 340.67C329.52 340.69 332.66 340.72 335.79 340.76C338.92 340.80 342.05 340.84 345.18 340.89C348.32 340.94 351.45 340.99 354.58 341.05C357.71 341.11 360.84 341.18 363.98 341.25C367.11 341.33 370.24 341.41 373.37 341.49C376.50 341.58 379.64 341.67 382.77 341.77C385.90 341.86 389.03 341.97 392.16 342.08C395.30 342.19 398.43 342.30 401.56 342.43C404.69 342.55 407.82 342.68 410.96 342.81C414.09 342.94 417.22 343.08 420.35 343.23C423.48 343.38 426.62 343.53 429.75 343.69C432.88 343.85 436.01 344.01 439.14 344.18C442.28 344.35 445.41 344.53 448.54 344.71C451.67 344.90 454.80 345.09 457.94 345.28C461.07 345.48 464.20 345.68 467.33 345.88C470.46 346.09 473.60 346.31 476.73 346.53C479.86 346.74 482.99 346.97 486.12 347.20C489.26 347.43 492.39 347.67 495.52 347.92C498.65 348.16 501.78 348.41 504.92 348.67C508.05 348.92 511.18 349.19 514.31 349.45C517.44 349.72 520.58 350.00 523.71 350.28C526.84 350.56 529.97 350.84 533.10 351.14C536.24 351.43 540.93 351.89 542.50 352.03" stroke-width="0.6" stroke-opacity="1.0"/>
<path d="M307.60 340.59C309.17 340.60 313.86 340.60 317.00 340.62C320.13 340.63 323.26 340.65 326.39 340.68C329.52 340.70 332.66 340.74 335.79 340.78C338.92 340.82 342.05 340.87 345.18 340.92C348.32 340.98 351.45 341.04 354.58 341.11C357.71 341.18 360.84 341.25 363.98 341.34C367.11 341.42 370.24 341.51 373.37 341.60C376.50 341.70 379.64 341.80 382.77 341.91C385.90 342.02 389.03 342.14 392.16 342.26C395.30 342.39 398.43 342.52 401.56 342.65C404.69 342.79 407.82 342.94 410.96 343.09C414.09 343.24 417.22 343.40 420.35 343.56C423.48 343.72 426.62 343.90 429.75 344.07C432.88 344.25 436.01 344.44 439.14 344.63C442.28 344.82 445.41 345.02 448.54 345.23C451.67 345.43 454.80 345.65 457.94 345.87C461.07 346.09 464.20 346.31 467.33 346.55C470.46 346.78 473.60 347.02 476.73 347.27C479.86 347.51 482.99 347.77 486.12 348.03C489.26 348.29 492.39 348.56 495.52 348.83C498.65 349.11 501.78 349.39 504.92 349.68C508.05 349.96 511.18 350.26 514.31 350.56C517.44 350.86 520.58 351.17 523.71 351.49C526.84 351.80 529.97 352.13 533.10 352.46C536.24 352.78 540.93 353.30 542.50 353.46" stroke-width="0.6" stroke-opacity="1.0"/>
<path d="M307.60 340.59C309.17 340.60 313.86 340.60 317.00 340.62C320.13 340.63 323.26 340.65 326.39 340.68C329.52 340.71 332.66 340.75 335.79 340.80C338.92 340.84 342.05 340.89 345.18 340.95C348.32 341.01 351.45 341.08 354.58 341.16C357.71 341.23 360.84 341.31 363.98 341.40C367.11 341.49 370.24 341.59 373.37 341.70C376.50 341.80 379.64 341.91 382.77 342.03C385.90 342.15 389.03 342.28 392.16 342.42C395.30 342.55 398.43 342.69 401.56 342.84C404.69 342.99 407.82 343.15 410.96 343.32C414.09 343.48 417.22 343.65 420.35 343.83C423.48 344.01 426.62 344.20 429.75 344.40C432.88 344.59 436.01 344.79 439.14 345.00C442.28 345.21 445.41 345.43 448.54 345.66C451.67 345.88 454.80 346.11 457.94 346.35C461.07 346.59 464.20 346.84 467.33 347.10C470.46 347.35 473.60 347.61 476.73 347.88C479.86 348.15 482.99 348.43 486.12 348.72C489.26 349.00 492.39 349.29 495.52 349.59C498.65 349.89 501.78 350.20 504.92 350.52C508.05 350.83 511.18 351.15 514.31 351.48C517.44 351.81 520.58 352.15 523.71 352.50C526.84 352.84 529.97 353.19 533.10 353.55C536.24 353.91 540.93 354.47 542.50 354.66" stroke-width="0.6" stroke-opacity="1.0"/>
<path d="M307.60 364.43C309.17 364.43 313.86 364.43 317.00 364.44C320.13 364.45 323.26 364.46 326.39 364.48C329.52 364.50 332.66 364.52 335.79 364.54C338.92 364.57 342.05 364.60 345.18 364.64C348.32 364.67 351.45 364.71 354.58 364.75C357.71 364.80 360.84 364.84 363.98 364.89C367.11 364.95 370.24 365.00 373.37 365.06C376.50 365.12 379.64 365.19 382.77 365.26C385.90 365.33 389.03 365.40 392.16 365.48C395.30 365.56 398.43 365.64 401.56 365.72C404.69 365.81 407.82 365.90 410.96 366.00C414.09 366.09 417.22 366.19 420.35 366.29C423.48 366.40 426.62 366.51 429.75 366.62C432.88 366.73 436.01 366.85 439.14 366.97C442.28 367.09 445.41 367.22 448.54 367.34C451.67 367.47 454.80 367.61 457.94 367.75C461.07 367.89 464.20 368.03 467.33 368.17C470.46 368.32 473.60 368.47 476.73 368.63C479.86 368.78 482.99 368.94 486.12 369.11C489.26 369.27 492.39 369.44 495.52 369.61C498.65 369.79 501.78 369.96 504.92 370.15C508.05 370.33 511.18 370.51 514.31 370.70C517.44 370.89 520.58 371.09 523.71 371.29C526.84 371.49 529.97 371.69 533.10 371.90C536.24 372.10 540.93 372.43 542.50 372.53" stroke-width="1.1" stroke-opacity="1.0"/>
<path d="M307.60 364.43C309.17 364.43 313.86 364.43 317.00 364.44C320.13 364.45 323.26 364.47 326.39 364.49C329.52 364.51 332.66 364.54 335.79 364.57C338.92 364.60 342.05 364.64 345.18 364.68C348.32 364.73 351.45 364.77 354.58 364.83C357.71 364.88 360.84 364.94 363.98 365.00C367.11 365.07 370.24 365.14 373.37 365.21C376.50 365.29 379.64 365.37 382.77 365.45C385.90 365.54 389.03 365.63 392.16 365.72C395.30 365.82 398.43 365.92 401.56 366.03C404.69 366.14 407.82 366.25 410.96 366.37C414.09 366.48 417.22 366.61 420.35 366.73C423.48 366.86 426.62 367.00 429.75 367.13C432.88 367.27 436.01 367.42 439.14 367.57C442.28 367.72 445.41 367.87 448.54 368.03C451.67 368.19 454.80 368.36 457.94 368.53C461.07 368.70 464.20 368.87 467.33 369.06C470.46 369.24 473.60 369.42 476.73 369.62C479.86 369.81 482.99 370.01 486.12 370.21C489.26 370.41 492.39 370.62 495.52 370.83C498.65 371.05 501.78 371.27 504.92 371.49C508.05 371.71 511.18 371.94 514.31 372.18C517.44 372.41 520.58 372.65 523.71 372.90C526.84 373.15 529.97 373.40 533.10 373.65C536.24 373.91 540.93 374.31 542.50 374.44" stroke-width="0.6" stroke-opacity="1.0"/>
<path d="M307.60 364.43C309.17 364.43 313.86 364.43 317.00 364.45C320.13 364.46 323.26 364.48 326.39 364.50C329.52 364.53 332.66 364.56 335.79 364.60C338.92 364.63 342.05 364.68 345.18 364.73C348.32 364.78 351.45 364.83 354.58 364.89C357.71 364.96 360.84 365.03 363.98 365.10C367.11 365.18 370.24 365.26 373.37 365.34C376.50 365.43 379.64 365.52 382.77 365.62C385.90 365.72 389.03 365.83 392.16 365.94C395.30 366.05 398.43 366.17 401.56 366.30C404.69 366.42 407.82 366.55 410.96 366.69C414.09 366.83 417.22 366.97 420.35 367.12C423.48 367.27 426.62 367.42 429.75 367.59C432.88 367.75 436.01 367.92 439.14 368.09C442.28 368.26 445.41 368.44 448.54 368.63C451.67 368.82 454.80 369.01 457.94 369.21C461.07 369.41 464.20 369.62 467.33 369.83C470.46 370.04 473.60 370.26 476.73 370.48C479.86 370.71 482.99 370.94 486.12 371.17C489.26 371.41 492.39 371.65 495.52 371.90C498.65 372.15 501.78 372.41 504.92 372.67C508.05 372.93 511.18 373.20 514.31 373.47C517.44 373.75 520.58 374.03 523.71 374.31C526.84 374.60 529.97 374.89 533.10 375.19C536.24 375.49 540.93 375.95 542.50 376.11" stroke-width="0.6" stroke-opacity="1.0"/>
<path d="M307.60 364.43C309.17 364.43 313.86 364.43 317.00 364.45C320.13 364.46 323.26 364.48 326.39 364.51C329.52 364.54 332.66 364.58 335.79 364.62C338.92 364.66 342.05 364.71 345.18 364.77C348.32 364.83 351.45 364.89 354.58 364.96C357.71 365.03 360.84 365.11 363.98 365.20C367.11 365.28 370.24 365.37 373.37 365.47C376.50 365.57 379.64 365.68 382.77 365.79C385.90 365.91 389.03 366.03 392.16 366.16C395.30 366.29 398.43 366.42 401.56 366.56C404.69 366.71 407.82 366.85 410.96 367.01C414.09 367.17 417.22 367.33 420.35 367.50C423.48 367.67 426.62 367.85 429.75 368.04C432.88 368.22 436.01 368.41 439.14 368.61C442.28 368.81 445.41 369.02 448.54 369.23C451.67 369.45 454.80 369.67 457.94 369.89C461.07 370.12 464.20 370.36 467.33 370.60C470.46 370.84 473.60 371.09 476.73 371.35C479.86 371.60 482.99 371.87 486.12 372.14C489.26 372.41 492.39 372.68 495.52 372.97C498.65 373.25 501.78 373.55 504.92 373.84C508.05 374.14 511.18 374.45 514.31 374.76C517.44 375.08 520.58 375.40 523.71 375.72C526.84 376.05 529.97 376.39 533.10 376.73C536.24 377.07 540.93 377.60 542.50 377.77" stroke-width="0.6" stroke-opacity="1.0"/>
<path d="M307.60 364.43C309.17 364.43 313.86 364.44 317.00 364.45C320.13 364.47 323.26 364.49 326.39 364.53C329.52 364.56 332.66 364.60 335.79 364.65C338.92 364.70 342.05 364.75 345.18 364.82C348.32 364.88 351.45 364.96 354.58 365.04C357.71 365.12 360.84 365.21 363.98 365.31C367.11 365.40 370.24 365.51 373.37 365.62C376.50 365.74 379.64 365.86 382.77 365.99C385.90 366.12 389.03 366.26 392.16 366.40C395.30 366.55 398.43 366.71 401.56 366.87C404.69 367.03 407.82 367.20 410.96 367.38C414.09 367.56 417.22 367.75 420.35 367.94C423.48 368.14 426.62 368.34 429.75 368.55C432.88 368.76 436.01 368.98 439.14 369.21C442.28 369.44 445.41 369.67 448.54 369.92C451.67 370.16 454.80 370.42 457.94 370.68C461.07 370.94 464.20 371.20 467.33 371.48C470.46 371.76 473.60 372.04 476.73 372.33C479.86 372.63 482.99 372.93 486.12 373.24C489.26 373.55 492.39 373.86 495.52 374.19C498.65 374.52 501.78 374.85 504.92 375.19C508.05 375.53 511.18 375.88 514.31 376.24C517.44 376.60 520.58 376.96 523.71 377.34C526.84 377.71 529.97 378.09 533.10 378.48C536.24 378.88 540.93 379.48 542.50 379.68" stroke-width="0.6" stroke-opacity="1.0"/>
<path d="M307.60 388.98C309.17 388.98 313.86 388.98 317.00 388.99C320.13 389.00 323.26 389.02 326.39 389.05C329.52 389.07 332.66 389.10 335.79 389.13C338.92 389.17 342.05 389.21 345.18 389.26C348.32 389.30 351.45 389.36 354.58 389.41C357.71 389.47 360.84 389.54 363.98 389.61C367.11 389.68 370.24 389.75 373.37 389.84C376.50 389.92 379.64 390.00 382.77 390.10C385.90 390.19 389.03 390.29 392.16 390.40C395.30 390.50 398.43 390.61 401.56 390.73C404.69 390.85 407.82 390.97 410.96 391.10C414.09 391.23 417.22 391.36 420.35 391.50C423.48 391.64 426.62 391.79 429.75 391.94C432.88 392.09 436.01 392.25 439.14 392.41C442.28 392.58 445.41 392.75 448.54 392.92C451.67 393.10 454.80 393.28 457.94 393.47C461.07 393.65 464.20 393.85 467.33 394.05C470.46 394.24 473.60 394.45 476.73 394.66C479.86 394.87 482.99 395.09 486.12 395.31C489.26 395.53 492.39 395.76 495.52 395.99C498.65 396.23 501.78 396.47 504.92 396.71C508.05 396.96 511.18 397.21 514.31 397.47C517.44 397.72 520.58 397.99 523.71 398.25C526.84 398.52 529.97 398.80 533.10 399.08C536.24 399.36 540.93 399.80 542.50 399.94" stroke-width="0.8" stroke-opacity="1.0"/>
<path d="M307.60 388.98C309.17 388.98 313.86 388.98 317.00 388.99C320.13 389.01 323.26 389.02 326.39 389.05C329.52 389.07 332.66 389.10 335.79 389.14C338.92 389.17 342.05 389.22 345.18 389.27C348.32 389.31 351.45 389.37 354.58 389.43C357.71 389.49 360.84 389.56 363.98 389.63C367.11 389.70 370.24 389.78 373.37 389.86C376.50 389.95 379.64 390.04 382.77 390.13C385.90 390.23 389.03 390.33 392.16 390.44C395.30 390.55 398.43 390.67 401.56 390.79C404.69 390.91 407.82 391.03 410.96 391.17C414.09 391.30 417.22 391.44 420.35 391.58C423.48 391.73 426.62 391.88 429.75 392.04C432.88 392.19 436.01 392.36 439.14 392.53C442.28 392.69 445.41 392.87 448.54 393.05C451.67 393.23 454.80 393.42 457.94 393.61C461.07 393.81 464.20 394.01 467.33 394.21C470.46 394.42 473.60 394.63 476.73 394.84C479.86 395.06 482.99 395.29 486.12 395.51C489.26 395.74 492.39 395.98 495.52 396.22C498.65 396.46 501.78 396.71 504.92 396.96C508.05 397.22 511.18 397.48 514.31 397.74C517.44 398.01 520.58 398.28 523.71 398.56C526.84 398.84 529.97 399.12 533.10 399.41C536.24 399.70 540.93 400.15 542.50 400.30" stroke-width="0.6" stroke-opacity="1.0"/>
<path d="M307.60 412.33C309.17 412.34 313.86 412.34 317.00 412.35C320.13 412.36 323.26 412.38 326.39 412.41C329.52 412.43 332.66 412.47 335.79 412.50C338.92 412.54 342.05 412.59 345.18 412.64C348.32 412.69 351.45 412.75 354.58 412.81C357.71 412.87 360.84 412.94 363.98 413.02C367.11 413.09 370.24 413.18 373.37 413.27C376.50 413.36 379.64 413.45 382.77 413.55C385.90 413.65 389.03 413.76 392.16 413.88C395.30 413.99 398.43 414.11 401.56 414.24C404.69 414.37 407.82 414.50 410.96 414.64C414.09 414.78 417.22 414.93 420.35 415.08C423.48 415.23 426.62 415.39 429.75 415.55C432.88 415.72 436.01 415.89 439.14 416.07C442.28 416.25 445.41 416.43 448.54 416.62C451.67 416.81 454.80 417.01 457.94 417.21C461.07 417.42 464.20 417.63 467.33 417.84C470.46 418.06 473.60 418.28 476.73 418.51C479.86 418.74 482.99 418.97 486.12 419.21C489.26 419.46 492.39 419.70 495.52 419.96C498.65 420.21 501.78 420.47 504.92 420.74C508.05 421.01 511.18 421.28 514.31 421.56C517.44 421.84 520.58 422.13 523.71 422.42C526.84 422.71 529.97 423.01 533.10 423.31C536.24 423.62 540.93 424.09 542.50 424.25" stroke-width="0.8" stroke-opacity="1.0"/>
<path d="M307.60 412.33C309.17 412.34 313.86 412.34 317.00 412.35C320.13 412.36 323.26 412.38 326.39 412.41C329.52 412.44 332.66 412.47 335.79 412.51C338.92 412.55 342.05 412.59 345.18 412.65C348.32 412.70 351.45 412.76 354.58 412.82C357.71 412.89 360.84 412.96 363.98 413.04C367.11 413.12 370.24 413.20 373.37 413.29C376.50 413.39 379.64 413.48 382.77 413.59C385.90 413.69 389.03 413.80 392.16 413.92C395.30 414.04 398.43 414.16 401.56 414.30C404.69 414.43 407.82 414.56 410.96 414.71C414.09 414.85 417.22 415.00 420.35 415.16C423.48 415.32 426.62 415.48 429.75 415.65C432.88 415.82 436.01 416.00 439.14 416.18C442.28 416.36 445.41 416.55 448.54 416.75C451.67 416.95 454.80 417.15 457.94 417.36C461.07 417.57 464.20 417.78 467.33 418.01C470.46 418.23 473.60 418.46 476.73 418.69C479.86 418.93 482.99 419.17 486.12 419.42C489.26 419.67 492.39 419.93 495.52 420.19C498.65 420.45 501.78 420.72 504.92 420.99C508.05 421.27 511.18 421.55 514.31 421.84C517.44 422.13 520.58 422.42 523.71 422.72C526.84 423.02 529.97 423.33 533.10 423.64C536.24 423.96 540.93 424.45 542.50 424.61" stroke-width="0.6" stroke-opacity="1.0"/>
</g>
<g stroke="#000" stroke-width="1.8" fill="none">
<path d="M78.50 145.0V140.5M78.50 1.0V5.5"/>
<path d="M102.00 145.0V138.0M102.00 1.0V8.0"/>
<path d="M125.50 145.0V140.5M125.50 1.0V5.5"/>
<path d="M149.00 145.0V138.0M149.00 1.0V8.0"/>
<path d="M172.50 145.0V140.5M172.50 1.0V5.5"/>
<path d="M196.00 145.0V138.0M196.00 1.0V8.0"/>
<path d="M219.50 145.0V140.5M219.50 1.0V5.5"/>
<path d="M243.00 145.0V138.0M243.00 1.0V8.0"/>
<path d="M266.50 145.0V140.5M266.50 1.0V5.5"/>
<path d="M55.0 133.00H62.0M290.0 133.00H283.0"/>
<path d="M55.0 109.00H59.5M290.0 109.00H285.5"/>
<path d="M55.0 85.00H62.0M290.0 85.00H283.0"/>
<path d="M55.0 61.00H59.5M290.0 61.00H285.5"/>
<path d="M55.0 37.00H62.0M290.0 37.00H283.0"/>
<path d="M55.0 13.00H59.5M290.0 13.00H285.5"/>
<rect x="55.0" y="1.0" width="235.0" height="144.0" stroke-width="2"/>
</g>
<g stroke="#000" stroke-width="1.8" fill="none">
<path d="M78.50 302.0V297.5M78.50 159.0V163.5"/>
<path d="M102.00 302.0V295.0M102.00 159.0V166.0"/>
<path d="M125.50 302.0V297.5M125.50 159.0V163.5"/>
<path d="M149.00 302.0V295.0M149.00 159.0V166.0"/>
<path d="M172.50 302.0V297.5M172.50 159.0V163.5"/>
<path d="M196.00 302.0V295.0M196.00 159.0V166.0"/>
<path d="M219.50 302.0V297.5M219.50 159.0V163.5"/>
<path d="M243.00 302.0V295.0M243.00 159.0V166.0"/>
<path d="M266.50 302.0V297.5M266.50 159.0V163.5"/>
<path d="M55.0 291.00H59.5M290.0 291.00H285.5"/>
<path d="M55.0 267.00H62.0M290.0 267.00H283.0"/>
<path d="M55.0 243.00H59.5M290.0 243.00H285.5"/>
<path d="M55.0 219.00H62.0M290.0 219.00H283.0"/>
<path d="M55.0 195.00H59.5M290.0 195.00H285.5"/>
<path d="M55.0 171.00H62.0M290.0 171.00H283.0"/>
<rect x="55.0" y="159.0" width="235.0" height="143.0" stroke-width="2"/>
</g>
<g stroke="#000" stroke-width="1.8" fill="none">
<path d="M78.50 460.0V455.5M78.50 317.0V321.5"/>
<path d="M102.00 460.0V453.0M102.00 317.0V324.0"/>
<path d="M125.50 460.0V455.5M125.50 317.0V321.5"/>
<path d="M149.00 460.0V453.0M149.00 317.0V324.0"/>
<path d="M172.50 460.0V455.5M172.50 317.0V321.5"/>
<path d="M196.00 460.0V453.0M196.00 317.0V324.0"/>
<path d="M219.50 460.0V455.5M219.50 317.0V321.5"/>
<path d="M243.00 460.0V453.0M243.00 317.0V324.0"/>
<path d="M266.50 460.0V455.5M266.50 317.0V321.5"/>
<path d="M55.0 436.17H59.5M290.0 436.17H285.5"/>
<path d="M55.0 412.33H62.0M290.0 412.33H283.0"/>
<path d="M55.0 388.50H59.5M290.0 388.50H285.5"/>
<path d="M55.0 364.67H62.0M290.0 364.67H283.0"/>
<path d="M55.0 340.83H59.5M290.0 340.83H285.5"/>
<rect x="55.0" y="317.0" width="235.0" height="143.0" stroke-width="2"/>
</g>
<g stroke="#000" stroke-width="1.8" fill="none">
<path d="M331.09 145.0V140.5M331.09 1.0V5.5"/>
<path d="M354.58 145.0V138.0M354.58 1.0V8.0"/>
<path d="M378.07 145.0V140.5M378.07 1.0V5.5"/>
<path d="M401.56 145.0V138.0M401.56 1.0V8.0"/>
<path d="M425.05 145.0V140.5M425.05 1.0V5.5"/>
<path d="M448.54 145.0V138.0M448.54 1.0V8.0"/>
<path d="M472.03 145.0V140.5M472.03 1.0V5.5"/>
<path d="M495.52 145.0V138.0M495.52 1.0V8.0"/>
<path d="M519.01 145.0V140.5M519.01 1.0V5.5"/>
<path d="M307.6 133.00H314.6M542.5 133.00H535.5"/>
<path d="M307.6 109.00H312.1M542.5 109.00H538.0"/>
<path d="M307.6 85.00H314.6M542.5 85.00H535.5"/>
<path d="M307.6 61.00H312.1M542.5 61.00H538.0"/>
<path d="M307.6 37.00H314.6M542.5 37.00H535.5"/>
<path d="M307.6 13.00H312.1M542.5 13.00H538.0"/>
<rect x="307.6" y="1.0" width="234.89999999999998" height="144.0" stroke-width="2"/>
</g>
<g stroke="#000" stroke-width="1.8" fill="none">
<path d="M331.09 302.0V297.5M331.09 159.0V163.5"/>
<path d="M354.58 302.0V295.0M354.58 159.0V166.0"/>
<path d="M378.07 302.0V297.5M378.07 159.0V163.5"/>
<path d="M401.56 302.0V295.0M401.56 159.0V166.0"/>
<path d="M425.05 302.0V297.5M425.05 159.0V163.5"/>
<path d="M448.54 302.0V295.0M448.54 159.0V166.0"/>
<path d="M472.03 302.0V297.5M472.03 159.0V163.5"/>
<path d="M495.52 302.0V295.0M495.52 159.0V166.0"/>
<path d="M519.01 302.0V297.5M519.01 159.0V163.5"/>
<path d="M307.6 291.00H312.1M542.5 291.00H538.0"/>
<path d="M307.6 267.00H314.6M542.5 267.00H535.5"/>
<path d="M307.6 243.00H312.1M542.5 243.00H538.0"/>
<path d="M307.6 219.00H314.6M542.5 219.00H535.5"/>
<path d="M307.6 195.00H312.1M542.5 195.00H538.0"/>
<path d="M307.6 171.00H314.6M542.5 171.00H535.5"/>
<rect x="307.6" y="159.0" width="234.89999999999998" height="143.0" stroke-width="2"/>
</g>
<g stroke="#000" stroke-width="1.8" fill="none">
<path d="M331.09 460.0V455.5M331.09 317.0V321.5"/>
<path d="M354.58 460.0V453.0M354.58 317.0V324.0"/>
<path d="M378.07 460.0V455.5M378.07 317.0V321.5"/>
<path d="M401.56 460.0V453.0M401.56 317.0V324.0"/>
<path d="M425.05 460.0V455.5M425.05 317.0V321.5"/>
<path d="M448.54 460.0V453.0M448.54 317.0V324.0"/>
<path d="M472.03 460.0V455.5M472.03 317.0V321.5"/>
<path d="M495.52 460.0V453.0M495.52 317.0V324.0"/>
<path d="M519.01 460.0V455.5M519.01 317.0V321.5"/>
<path d="M307.6 436.17H312.1M542.5 436.17H538.0"/>
<path d="M307.6 412.33H314.6M542.5 412.33H535.5"/>
<path d="M307.6 388.50H312.1M542.5 388.50H538.0"/>
<path d="M307.6 364.67H314.6M542.5 364.67H535.5"/>
<path d="M307.6 340.83H312.1M542.5 340.83H538.0"/>
<rect x="307.6" y="317.0" width="234.89999999999998" height="143.0" stroke-width="2"/>
</g>
<text x="49.5" y="138.10" text-anchor="end">0</text>
<text x="49.5" y="272.10" text-anchor="end">0</text>
<text x="49.5" y="90.10" text-anchor="end">2</text>
<text x="49.5" y="224.10" text-anchor="end">2</text>
<text x="49.5" y="42.10" text-anchor="end">4</text>
<text x="49.5" y="176.10" text-anchor="end">4</text>
<text x="49.5" y="322.10" text-anchor="end">-10</text>
<text x="49.5" y="369.77" text-anchor="end">-12</text>
<text x="49.5" y="417.43" text-anchor="end">-14</text>
<text x="49.5" y="465.10" text-anchor="end">-16</text>
<text x="55.00" y="477.7" text-anchor="middle">0</text>
<text x="102.00" y="477.7" text-anchor="middle">1</text>
<text x="149.00" y="477.7" text-anchor="middle">2</text>
<text x="196.00" y="477.7" text-anchor="middle">3</text>
<text x="243.00" y="477.7" text-anchor="middle">4</text>
<text x="290.00" y="477.7" text-anchor="middle">5</text>
<text x="172.50" y="498" text-anchor="middle">Ω / (ħω)</text>
<text x="307.60" y="477.7" text-anchor="middle">0</text>
<text x="354.58" y="477.7" text-anchor="middle">1</text>
<text x="401.56" y="477.7" text-anchor="middle">2</text>
<text x="448.54" y="477.7" text-anchor="middle">3</text>
<text x="495.52" y="477.7" text-anchor="middle">4</text>
<text x="542.50" y="477.7" text-anchor="middle">5</text>
<text x="425.05" y="498" text-anchor="middle">Ω / (ħω)</text>
<text transform="translate(24.6 73.00) rotate(-90)" text-anchor="middle">E<tspan font-size="11" dy="5.5">nq</tspan><tspan dy="-5.5"> / (ħω)</tspan></text>
<text transform="translate(24.6 230.50) rotate(-90)" text-anchor="middle">E<tspan font-size="11" dy="5.5">nq</tspan><tspan dy="-5.5"> / (ħω)</tspan></text>
<text transform="translate(24.6 388.50) rotate(-90)" text-anchor="middle">E<tspan font-size="11" dy="5.5">nq</tspan><tspan dy="-5.5"> / (ħω)</tspan></text>
<text x="75.00" y="133.50">(a)</text>
<text x="75.00" y="290.50">(b)</text>
<text x="75.00" y="448.50">(c)</text>
<text x="327.60" y="133.50">(d)</text>
<text x="327.60" y="290.50">(e)</text>
<text x="327.60" y="448.50">(f)</text>
</svg></body></html>
